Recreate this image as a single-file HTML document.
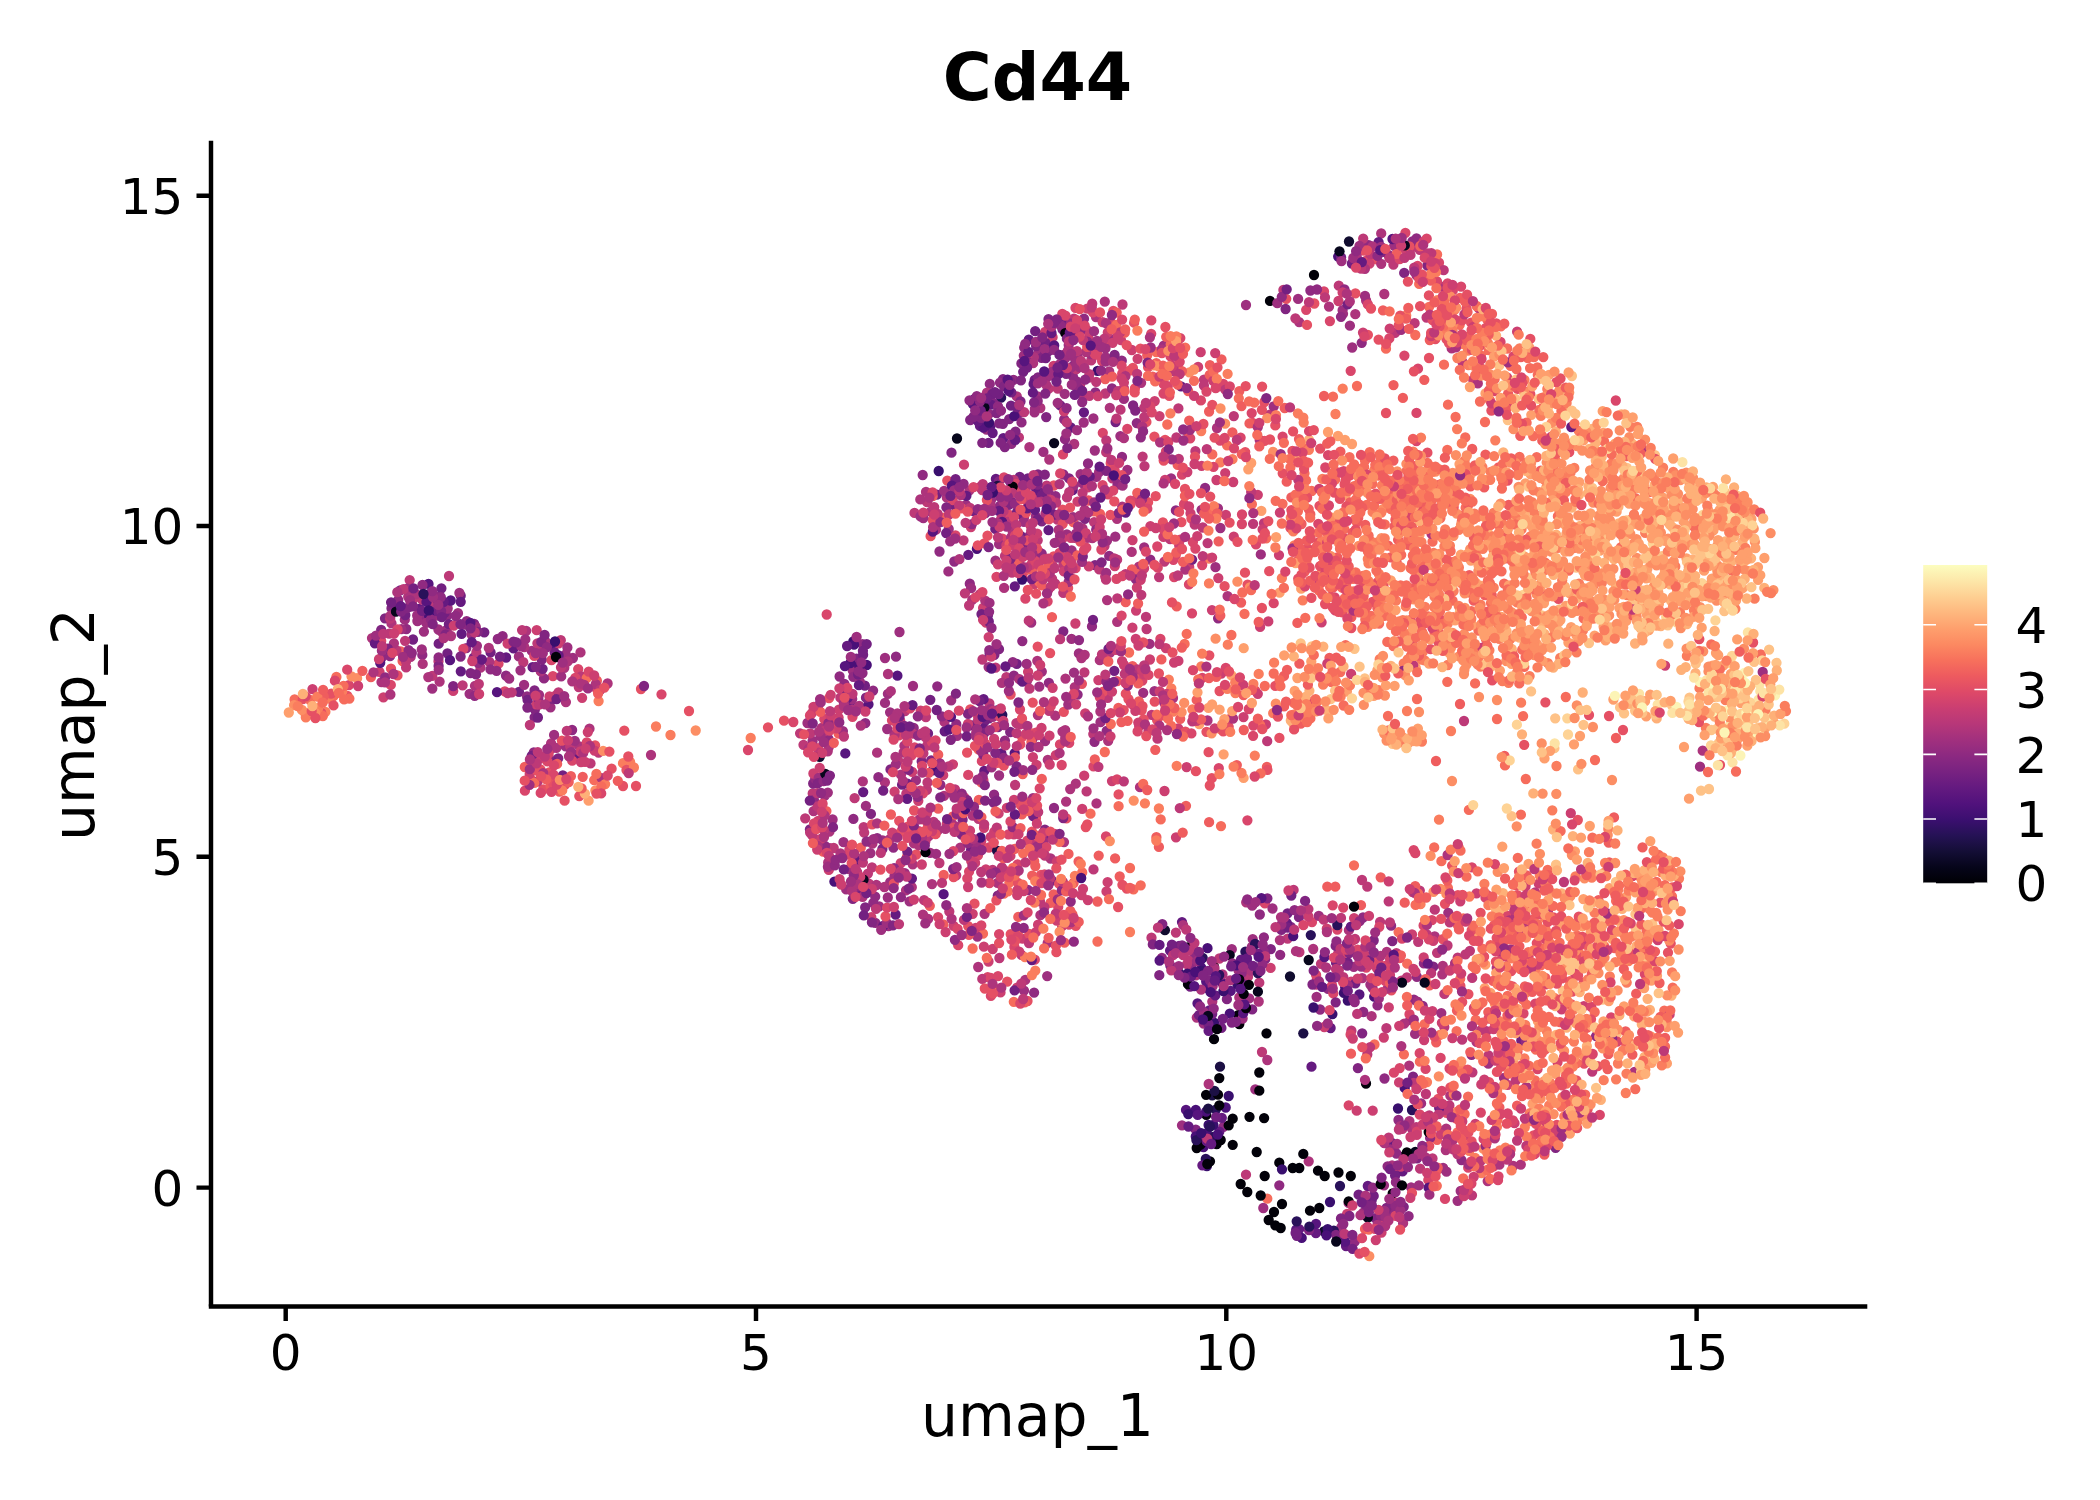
<!DOCTYPE html>
<html lang="en">
<head>
<meta charset="utf-8">
<title>Cd44</title>
<style>
html,body{margin:0;padding:0;background:#fff;}
body{width:2100px;height:1500px;overflow:hidden;}
svg{display:block;}
text{font-family:"DejaVu Sans","Liberation Sans",sans-serif;fill:#000;}
.tk{font-size:50px;}
.ax{font-size:58.33px;}
.ttl{font-size:66.7px;font-weight:bold;}
#pts path{fill:none;stroke-width:10.3;stroke-linecap:round;}
</style>
</head>
<body>
<svg width="2100" height="1500" viewBox="0 0 2100 1500">
<defs><linearGradient id="cb" x1="0" y1="0" x2="0" y2="1"><stop offset="0" stop-color="#fcfdbf"/><stop offset="0.05" stop-color="#fde7a9"/><stop offset="0.1" stop-color="#fecf92"/><stop offset="0.15" stop-color="#feb77e"/><stop offset="0.2" stop-color="#fe9f6d"/><stop offset="0.25" stop-color="#fc8961"/><stop offset="0.3" stop-color="#f7705c"/><stop offset="0.35" stop-color="#ed5a5f"/><stop offset="0.4" stop-color="#de4968"/><stop offset="0.45" stop-color="#ca3e72"/><stop offset="0.5" stop-color="#b73779"/><stop offset="0.55" stop-color="#a1307e"/><stop offset="0.6" stop-color="#8c2981"/><stop offset="0.65" stop-color="#782281"/><stop offset="0.7" stop-color="#641a80"/><stop offset="0.75" stop-color="#51127c"/><stop offset="0.8" stop-color="#3b0f70"/><stop offset="0.85" stop-color="#251255"/><stop offset="0.9" stop-color="#140e36"/><stop offset="0.95" stop-color="#06051a"/><stop offset="1" stop-color="#000004"/></linearGradient></defs>
<rect width="2100" height="1500" fill="#fff"/>
<g id="pts">
<path stroke="#491078" d="M932.8 770.3h0M1203.5 1147h0"/>
<path stroke="#390f6e" d="M1332.4 1014.1h0M1228.7 1096h0M1214.5 1023h0"/>
<path stroke="#1c1044" d="M1212.2 1095.3h0"/>
<path stroke="#fe9f6d" d="M1603.2 432.8h0M1703.3 494.7h0M1652.5 1040.1h0M1569.6 593h0M1561.6 587.7h0M1658.9 604.1h0M1534.4 530.9h0M1686.5 558.4h0M1490.4 992.9h0M1176.6 347.5h0M1649.7 552.5h0M1556.3 544.9h0M1651.3 980.7h0M1301.2 588.7h0M1724.9 741.1h0M1669.8 489.6h0M1644.5 486.8h0M1531.3 414.8h0M1712.4 665.6h0M1750.9 509.6h0M1603.2 534.2h0M1212.1 704.3h0M1574.9 851.3h0M1311.3 661.4h0M1558.6 595.7h0M1626.3 620.9h0M1346.9 691.5h0M1719.6 510.2h0M1636.8 604.1h0M1727.8 501.2h0M1584.1 430.3h0M1693.7 596.5h0M1699.9 486.1h0M1605.3 538.5h0M1713.4 530.4h0M1708 509.6h0M1579.3 482.1h0M1622.8 561h0M1531.5 557.1h0M1720.3 598.3h0M1742.6 588.2h0M1506.9 536.8h0M1438.2 562h0M1594.6 635.7h0M1616.6 511.7h0M1390.8 580.3h0M1600.7 494.6h0"/>
<path stroke="#020109" d="M1270 300.9h0M1280.7 1228h0M1256.7 1152h0M1232.7 1118.7h0M1187.9 947.5h0M1206.1 1094.8h0M1210 1161.3h0M1319.3 1208h0M1249.5 1116.8h0"/>
<path stroke="#812581" d="M852.8 898.8h0M534.9 709.5h0M1290.8 926.8h0M1023.5 547.5h0M441 600.8h0M972.1 725.4h0M1012.9 521.6h0M1051.8 880.5h0M1270.8 949.1h0M391.5 608.2h0M998 727.1h0M1373.7 940.5h0M1159.3 975.2h0M921.7 761.3h0M997.8 895.7h0M534.6 717.3h0M1062.5 372.1h0"/>
<path stroke="#ad347c" d="M1065.5 678.6h0M1299.2 322.1h0M1452.7 1140.3h0M969.4 490.3h0M1451.7 348.4h0M1446.2 1128.6h0M1450.3 1095.6h0M1414.6 1155.7h0M1139 566.7h0M1445.8 1150h0M1108.2 740.8h0M1409.2 1065.6h0M928.1 918.9h0M372 638.1h0M979.2 746.3h0M1064 842.1h0M1037.9 715.1h0M914 843.4h0M1084.6 509.8h0M480.5 667.7h0M1117 518.8h0M937.8 830.4h0M1259.7 439.9h0M1117.2 621.8h0M1110.1 652.6h0M912.7 864.3h0M1434.7 936.5h0M1634.5 1072h0M1246.2 902.3h0"/>
<path stroke="#cc3f71" d="M1034.5 584.2h0M1135.8 639h0M1013.9 834.3h0M1464.5 1135.3h0M849.4 849.4h0M1136.1 610.6h0M555.6 695.7h0M1514.5 1123.2h0M953.6 925.8h0M1538.7 883.6h0M970.9 527.1h0M1112 781.1h0M1381.5 1232.6h0M1318.6 580h0M1052.6 337.2h0M1498.8 910.9h0M1114.8 566h0M1375.8 1240.1h0M1139.2 726.2h0M1088.6 338.6h0M1395.4 1172.3h0M1045.1 331.8h0M1198.1 366.9h0M1507.7 1084.9h0M1107.5 340.5h0M1233.8 536.7h0M994.2 832h0M1106.5 891.4h0M1163.4 536.8h0M964.3 797.3h0M1015.8 872.4h0M992.7 949h0M1201.6 465.9h0M983.1 607.9h0M943.2 775.2h0M1052.7 565.7h0M1279 555.1h0M998.6 813.4h0M1225.9 515h0M1260.1 626.9h0M1022.5 938.7h0"/>
<path stroke="#29115a" d="M1001.1 397.7h0M1202.7 957.9h0M1245.4 951.7h0"/>
<path stroke="#fa7d5e" d="M1456.4 495.6h0M1529.8 1121h0M1385.4 481.7h0M1615.3 634.3h0M1496.9 1126.9h0M1630.8 519.6h0M1620 489.3h0M1554.4 997.8h0M1705.9 728h0M1578.3 951.2h0M1694 610.2h0M1544.9 480h0M1342.9 602.7h0M1532.1 502.2h0M1453.2 617.2h0M1679 878.6h0M1545.4 883.4h0M1480.5 666.7h0M1035.3 970.6h0M1469.2 1150.9h0M1536.8 473.1h0M1209 558.5h0M1524.4 1045h0M1441.8 501.7h0M1628.6 961h0M1304.5 550.1h0M1636.8 1011h0M1429.1 465.7h0M1421.9 741.5h0M1499.3 638.8h0M1403.7 663.5h0M1631.7 486h0M1686.9 655.9h0M1546.7 1031.1h0M1518.7 472.2h0M1572.3 1099.8h0M1367.3 615.4h0M1408.1 743h0M1547.9 663.2h0M1629 1041.8h0M1521.5 529.4h0M1611.1 463.7h0M1673.3 472h0M1649.5 909h0M1495.2 600.9h0M1592.1 873.4h0M1220.3 462.3h0M1475.1 1157.8h0M1618 1063.5h0M1447.7 623.7h0M1453.8 1094.2h0M1583.3 1030.9h0M1512.2 652.3h0M1449.9 545.7h0M1499.9 1150.5h0M1566.4 1004.6h0M1510.2 639h0M1453.6 591h0M1405.8 606.4h0M1323.1 684.7h0M1638.5 475.8h0M1422.8 651.9h0"/>
<path stroke="#e55064" d="M347.4 696h0M1041 874.9h0M1428.9 295.4h0M970.3 709.5h0M1026.1 499.2h0M1255.3 690.6h0M579.3 796.1h0M1252.6 423h0M1517.5 388.9h0M1577.7 956.7h0M1462.2 1002h0M1471.6 1141.4h0M1480.3 345.6h0M1344 538h0M1158.9 673.5h0M916.3 854.5h0M1668 952.6h0M1372.5 602h0M928.7 772.8h0M1062.6 509.6h0M1512.5 986.5h0M1050.1 653.1h0M1572.2 991.7h0M1059.1 883.7h0M1391.4 990.3h0M530.9 764.8h0M1440.5 619.4h0M543.2 789.5h0M1020.3 744.4h0M641 689h0M981.9 742.7h0M1438.3 1098.8h0M1511.1 971.2h0M1029.3 934h0M1543.2 594.4h0M1351.3 628h0M1325.1 604h0M1053.8 485.5h0M1027.5 1001h0M1753.1 642.5h0M1110.7 463.2h0M1211.8 778.2h0M1298.2 578.6h0M1521.9 1065.2h0M1585.4 870.4h0M947.3 480.6h0M1135.9 675.7h0M1291.4 510.1h0M1513.5 1052.3h0M1181.4 522.1h0"/>
<path stroke="#ef5d5e" d="M1341.9 582.4h0M1335.8 535.8h0M1452.3 562.1h0M400.8 651.5h0M1484.2 487.3h0M860.8 847.7h0M1394.4 526.3h0M1377.4 608h0M1586.1 944.8h0M1653.2 506.3h0M1301.5 524h0M1498.6 467.4h0M1454.8 491h0M1284.1 706.4h0M1424.3 379.8h0M1519.6 1075.6h0M1487.5 1137.6h0M1408.4 544.9h0M981.3 782.3h0M1365.2 958h0M1502.4 1048.9h0M1299 439.1h0M1176.7 606.4h0M1356.8 522h0M1626.1 1044.1h0M1239.3 391.1h0M1152.7 376.7h0M1495.1 915.4h0M1032 570.2h0M1417 585.6h0M1388.2 545.7h0M1132.5 666.1h0M531.4 779.9h0M1502.5 1054.3h0M1436.2 1042.3h0M1258.7 622h0M1429.6 985.3h0M1127.6 720.8h0M1459 929.4h0M1499.4 1107.3h0M1417.4 537.8h0M1459.9 297.9h0M1186 805.8h0M1411.7 588.3h0M1125.7 602.2h0M1484.9 595.1h0M1531.6 905.7h0M1032.2 875.6h0M1515.1 931.5h0M1218.6 541.3h0M1587.1 1027.5h0M1053.6 894.5h0M1564.5 1130.7h0M1018.3 916.9h0M1189.2 420.6h0M838.6 733.5h0M1532.5 919.8h0"/>
<path stroke="#110c2f" d="M1290 976.5h0M1324 1231.3h0"/>
<path stroke="#feb078" d="M1579.8 533.9h0M1564.9 1070.3h0M1640.6 628h0M1692.9 559.4h0M1634.5 445.5h0M1572.9 1104.1h0M1579.7 992.2h0M1656.7 718.4h0M1716.6 568.9h0M1682 592.6h0M1703.2 549.3h0M1309 440h0M1720.5 502.3h0M1723.5 576.5h0M1563.7 923.9h0M1588.4 486.1h0M1674.1 875.1h0M1543.4 623.9h0M1692.1 539.5h0M1671.5 995.6h0M1504 549.4h0M1588.7 552.8h0M1566.6 1027.7h0M1634.9 1045.2h0M1591.9 429h0M1571.7 507.6h0M1571.9 643.9h0M1649.9 1009.8h0"/>
<path stroke="#fec287" d="M1562.8 990.9h0M1392.6 743.8h0M1694.9 564.5h0M1753.5 734.1h0M1579.4 965.7h0M1672.2 705.7h0M1701 790.7h0M1515.1 398.6h0M1548.2 407.2h0M1604.5 501.6h0M1711.2 730h0M1643.8 600.9h0M1709 789h0M1626.9 467.8h0M1695.8 663.5h0M1687 561.9h0M1718.7 743.2h0M1679.3 586.3h0M1616.8 1033.7h0M1717.1 728.6h0M1330.7 699.2h0M1483 664.6h0M1554.4 748.2h0"/>
<path stroke="#902a81" d="M1046 377.8h0M406.3 629h0M873.1 690.6h0M423.3 619.3h0M971.9 524.1h0M1247.5 971.3h0M1259.8 914.5h0M1398.5 1120h0M1205.1 488h0M999.6 506.2h0M1402.8 671h0M1596.1 1036.1h0M1055.5 496.2h0M828.5 739h0M1095.4 392.4h0M1068.4 320.2h0M506 675.6h0M1072.9 376.3h0M1095.2 349h0M844.4 683.8h0M447.3 615.3h0M963.6 483.8h0M969.8 583.7h0M1049.4 494.3h0"/>
<path stroke="#fc8e64" d="M1472 585.4h0M1571.9 612.9h0M1425.7 471.3h0M1488.7 657.7h0M1541.7 1124.8h0M1607.2 626.9h0M1613.4 568.8h0M1405.1 675.1h0M1651.2 598.8h0M1632.4 481.6h0M1548.8 623.1h0M1578.6 641.2h0M1390 613.2h0M1706.3 596.2h0M1175.5 352.7h0M1650.7 1036.5h0M1546.5 487.2h0M1559.3 510h0M1604.3 872.7h0M1754.9 541.8h0M1275.8 703.7h0M1668 538.6h0M1542.6 793.6h0M1702.3 593.4h0M1569.7 478.7h0M1382.9 509.1h0M1563.3 515h0M1409.7 481.5h0M1630.6 613.2h0M1470.1 498.8h0M1375.1 617.1h0M1551.6 423.1h0M1652.8 1047.6h0M1717.4 496.3h0M1555.7 613.5h0M1418.2 576.5h0M1478.4 571h0M1773.4 590.1h0M1644.6 1021.8h0M1529.5 928.3h0M1640 876.9h0M1586.8 598.5h0M1382.2 677.3h0M1321.4 572.8h0M1133.7 800.6h0M1619.7 430.4h0M1194 369.5h0"/>
<path stroke="#d9466b" d="M1607.9 1039.1h0M1058.2 906.9h0M1617.2 1041.7h0M1202.2 565.1h0M1219.8 386h0M748 750h0M852.5 716.8h0M1175.6 555.7h0M1632.5 876.2h0M1202.3 677.9h0M1309.1 431.2h0M1069.2 742.9h0M1413.7 850.1h0M1366.2 967.6h0M1102.1 361h0M1648.8 902.1h0M1163.7 384.2h0M1305 586.3h0M348.9 685.2h0M1008.4 834.4h0M1500.5 341.9h0M981.9 761.2h0M1521.9 932.3h0M1416.5 412.9h0M1557.5 1062.3h0M1242 514.5h0M1510.3 1070h0M922.1 765.9h0M552.9 676.2h0M1537.5 1069.2h0M1110.9 322.5h0M1184 504.2h0M1528.6 955.9h0M818 748.2h0M989 847.5h0M1240.6 437.6h0M1405.4 232.8h0M1465.4 478.4h0M1357.6 949.6h0M1093.5 766.4h0M1312 922.1h0M906.7 730.7h0M1002.5 538.7h0M1509.2 1046.7h0M1009.4 514.9h0M1324 291.4h0M1337.3 929.5h0"/>
<path stroke="#f66c5c" d="M1370.9 551.3h0M1001 873.4h0M1432.5 541.7h0M1251.9 504.2h0M1504.9 405.6h0M1155.2 381.4h0M1669.8 867.6h0M1365 460.5h0M1536.7 457.2h0M1356.1 490.7h0M1672 896.4h0M1109 899.1h0M1414.2 493.5h0M1490 400.4h0M1208.8 512.1h0M1310.4 718.4h0M1398.6 932.1h0M1557.9 516.2h0M1380.9 459.1h0M1346.1 584.6h0M1372.4 483.9h0M1548.5 1131h0M1356 474h0M1384.8 524.4h0M1440 1034.9h0M1297.5 700.9h0M1577.1 935.6h0M1547.7 870h0M1535.9 1049.7h0M1463.3 918.4h0M1448 404.7h0M1468.1 1096.6h0M1374.5 1044.5h0M1491 603.1h0M1478.5 630.5h0M1408.3 538.9h0M1505 765.4h0M1364.1 467h0M333.5 696.2h0M1590.7 535.6h0M983 933.7h0M1622.1 957.5h0M1298.7 520.4h0M1590.6 925.7h0M1331.6 682h0M1447.9 887.9h0M1539.3 409.8h0M1366.7 504.8h0M1500.8 326.4h0M1378.9 604.7h0M1413.5 471h0M1604.4 946.5h0M1452.6 600.7h0M1427.4 525h0M1444 364.7h0M1719 515.5h0M1760.8 654.4h0M1384.3 615.9h0M1344.2 528.8h0M1635.4 498.1h0M1522.2 649.7h0M1238.8 398.3h0M1435.9 615.8h0M1463.4 515.5h0M1547.1 932.4h0M294.6 699.5h0M1525.8 779h0M1440.4 518.1h0M1429.1 306.8h0M1496.9 1103.5h0"/>
<path stroke="#651a80" d="M506.1 657.5h0M1286.9 923.2h0M1036 488.6h0"/>
<path stroke="#732081" d="M988 615h0M1017.1 512h0M988.9 718.3h0M1034.7 380h0M1521.3 1040.5h0M1010.4 481.8h0M444.6 612.9h0M1358.6 1194.7h0M1025.6 488h0M954 505h0M1190.2 986.7h0M519 691.8h0M858.2 891.8h0"/>
<path stroke="#fed395" d="M1676.6 622.3h0M1617 452.5h0M1762.2 660.5h0M1546.2 426.8h0M1702.9 514.9h0"/>
<path stroke="#9e2f7f" d="M846.2 889.4h0M1410.1 1020.2h0M1070.7 700.5h0M1217.9 508.3h0M890.1 712.3h0M1050.4 375.5h0M1045.8 498h0M1066.9 534.5h0M1023.8 915.4h0M1043.4 451.9h0M1096.4 476.9h0M995.5 560.7h0M1415.1 1033.9h0M895.7 721.7h0M1504 1077.8h0M888.4 926h0M1363.3 1212.7h0M1114.3 339.2h0M948.4 571.4h0M843.5 842.2h0M1365.9 1199.8h0M879.2 906.3h0M518.9 656.4h0M1038.3 352.8h0M553.2 647.7h0M1035.8 516.3h0"/>
<path stroke="#bd3977" d="M927.2 745.5h0M992.6 870h0M1106.2 452.2h0M906.3 793.7h0M1515.7 1080.7h0M1204 379.6h0M1151.5 937.7h0M1112.4 478.3h0M1037.7 540.3h0M927.1 502.2h0M982.5 659.5h0M1040 901.4h0M1016.4 723.1h0M1464 721h0M1264 523.1h0M1021.4 954.8h0M863.7 827.2h0M1120.5 409.7h0M1091.2 360.4h0M1418.2 941.8h0M1370.1 1047.1h0M1269.8 414.7h0M1011.5 489.6h0M812.7 793.5h0M1420.1 1168.7h0M1092.2 303.7h0M1486.5 1031.1h0M1481.1 1030.2h0M560.8 640.2h0M933.6 821.9h0M1144.2 407.9h0M1005 555.9h0M1093.3 734.1h0M1105.4 393.5h0M1248 976.7h0M1195.4 451.2h0M955 789.4h0M1063.4 564.6h0M1111.3 460h0M1396.4 953.2h0M926.9 789.8h0M409.7 580.1h0M1412.8 245.6h0M413.4 598.9h0"/>
<path stroke="#fde3a5" d="M1714.8 686.4h0M1758.6 699.7h0"/>
<path stroke="#fcf4b6" d="M1708.3 689h0M1740.4 755.5h0M1775.1 695.3h0"/>
<path stroke="#651a80" d="M968.3 554.8h0M984.3 770.9h0M1033.6 383.9h0M1403.6 510h0M1200.5 1139h0M1315.9 1233h0M939.3 772.9h0M1037.6 495.7h0M1227.9 992h0M995.9 478.9h0M513.5 648.4h0"/>
<path stroke="#fe9f6d" d="M1626.1 897.1h0M1472.1 624.9h0M1530.7 474.3h0M1415.8 667.8h0M1649.1 503h0M1372.2 473.6h0M1650.2 694.6h0M1484.8 988.1h0M1574 744.3h0M1555.3 398.3h0M1671.7 517h0M1459.3 573.8h0M1699 584.3h0M1478.6 935.1h0M1562.4 592.2h0M1623.7 607h0M1563.2 566.8h0M1693.2 616.9h0M1495.5 613.4h0M1528.5 863.9h0M1630.2 477.5h0M1623.3 633.6h0M1604.1 905.4h0M1526.2 509h0M1658 1040.4h0M1485.5 393.4h0M1646.7 594.5h0M1243.6 777.9h0M1701.7 498.4h0M1554.6 966.9h0M1542.5 660.8h0M1605.6 640.4h0M1231.5 675.4h0M1345.6 495h0M1295.9 456.8h0M1534.6 550.4h0M1592.1 948.5h0M1373.8 695.9h0M1648.9 630.1h0M1681.9 516.6h0M1590.2 557.1h0M1481.3 586h0M1751.4 519h0M1721.1 738.3h0M1689 798.7h0M1199.3 724.1h0M1664.9 570.6h0M1251.2 463h0M1537.9 1021.2h0M1293.5 723.8h0M1537 644.2h0M1702.5 524.3h0M1643 518.6h0M1511.4 513.4h0M1596.2 571.1h0M1476.2 583.1h0M1651.5 1062.8h0M1501.5 616.9h0M1423.6 552.7h0M1464.5 579.7h0"/>
<path stroke="#020109" d="M1264.7 1176h0M1350.8 1176h0M1196.7 1148h0M1238.2 1015.1h0"/>
<path stroke="#cc3f71" d="M1383.8 1037.5h0M1400.7 1205.6h0M1032.9 757.1h0M1225.2 473.1h0M1006.9 807.8h0M1107.8 332.4h0M1062.1 926.1h0M1031.5 845.7h0M1084.2 775.7h0M1583.8 1006.1h0M1473.2 379.7h0M1165.9 648.1h0M558.7 643.3h0M1189.2 567h0M838.9 709.7h0M1037.2 533.6h0M1076.3 323.2h0M811.9 713.1h0M900.2 720.7h0M379.5 671.8h0M1010.4 855.9h0M1581.7 940.7h0M990.8 836.8h0M1038.6 551.7h0M1004.5 870.5h0M1053.6 365.8h0M1233.2 482h0M1178.2 728.5h0M1176 837.3h0M1316.9 979.1h0M1392.6 258.8h0M1137 498.3h0M1503 918.2h0M1546 1121.7h0M1221.3 673.6h0"/>
<path stroke="#fde3a5" d="M1657.7 704.6h0M1760.3 691.2h0"/>
<path stroke="#fcf4b6" d="M1708.5 684.4h0M1744.4 672.8h0M1676.6 706.9h0M1742.9 687.5h0"/>
<path stroke="#9e2f7f" d="M1100.5 722.2h0M855.7 862.5h0M887.9 693.8h0M1149.5 643.9h0M531.8 650.9h0M1182 1125.3h0M1071.5 638.9h0M1372.5 987.8h0M991.6 767.4h0M1203.7 1023.6h0M1065 358.7h0M890.2 882.2h0M1361.3 966.6h0M1035.4 556.6h0M1115.3 536.7h0M1252.2 905.7h0M1353.8 966.9h0M824.8 795.6h0M1238.5 970.3h0M1220.4 528h0M1047.2 976.1h0M436.7 615.7h0M1120.4 436.1h0M1034.5 412.3h0M1041.8 671.6h0M992.8 716.8h0M949 826.6h0M986.5 429.5h0M1090.9 354.2h0M827.8 792.6h0M882.7 840.4h0M1026.9 681.1h0M1015.3 565.4h0M1318.8 915.8h0M1074 672.6h0"/>
<path stroke="#fec287" d="M1696.1 531.7h0M1727.5 563.9h0M1635.4 914.2h0M1330.4 711.2h0M1737 495.6h0M1652.4 924.2h0M1507.8 420h0M1659.8 1047h0M1541.7 615.3h0M1742 716.8h0M1364.8 678.5h0M1635.1 710.8h0M1649.2 872.4h0M1643.2 475.2h0"/>
<path stroke="#feb078" d="M1664.6 702.3h0M1634 873.2h0M1550.1 1001.3h0M1663.7 516.8h0M1622.3 465.7h0M1740.6 498.5h0M1576.8 598.4h0M1550.6 994.4h0M1714.7 716.5h0M1660.8 626.2h0M1633.4 600.8h0M1631.3 443h0M1627.1 553.8h0M1678.3 500.2h0M1728.6 682.1h0M1718.8 684.1h0M1671 600.8h0M1560 388.5h0M1501.8 912.2h0M1672.6 527.3h0M1553.1 829.5h0M1561.6 893.3h0M1695.1 575.9h0M1742.4 542.1h0M1309.4 690.8h0M1503.4 637.3h0M1547.3 529.9h0M1511.7 648.8h0M1564.9 586.6h0M1589.4 448.8h0M1671.7 481.2h0M1659.9 483.1h0"/>
<path stroke="#812581" d="M400.2 590.4h0M558.2 758.3h0M882.4 849h0M961.6 834.7h0M476 674.3h0M809.9 829.3h0M951.5 452.7h0M1008.8 504.8h0M856.5 658.7h0M1063.3 631.3h0M1003 379.2h0M1036.1 346h0M1073.7 365.4h0M1403.7 1206.8h0M1010.1 499.7h0M1032.5 738.9h0M999.1 481.1h0M473.7 657.6h0"/>
<path stroke="#fc8e64" d="M1548.9 568.1h0M1623.8 544.7h0M1617.6 990.4h0M1633.8 543.4h0M1625.8 523.8h0M1525.3 465.4h0M1405.7 643.2h0M1549.1 460.2h0M1673.7 561.2h0M1593.6 964h0M1540.8 478h0M1506.3 661h0M1504.6 1066.4h0M1456.8 513.7h0M1397.2 471.4h0M1743.9 504.4h0M1744 648.7h0M1566.1 471.7h0M1412 490.3h0M1606.1 533.1h0M1680.4 871.4h0M1461 497.8h0M1524.2 567.5h0M1717.5 545.3h0M1497 700h0M1459 656.4h0M1474.1 651h0M1455.9 455.1h0M1540.6 1098.5h0M1215.6 638.7h0M1546.7 462.3h0M1416.1 733.3h0M1653 891.9h0M1536.5 594.1h0M1720.8 732.7h0M1703.2 651.3h0M1667.1 512h0M1612 780h0M1363.6 600.1h0M1614.3 599.8h0M1647.4 475.7h0M1673.9 578.7h0M1578.5 920.6h0M1494.9 1003.8h0M1546.9 616.1h0M1363.8 704.9h0M1628.6 610h0M1584.5 878.3h0M1623.5 478.4h0M1273.1 451.9h0M1747.6 502.2h0"/>
<path stroke="#fa7d5e" d="M1479.2 656.4h0M1515.9 1089.1h0M1630.3 426.8h0M1622.8 1050.7h0M1569.3 1102.5h0M1573.5 548.2h0M1641 962.7h0M1521 905.4h0M1564.3 1116.4h0M1771 593.2h0M1515.6 598h0M1434.2 607h0M1550.2 1082.8h0M1517.4 959.3h0M1427 1082.1h0M1464.6 460.6h0M623 763.2h0M1531.6 1088.7h0M1303.7 422.6h0M1735.4 608.8h0M1593.2 586h0M1732.8 511h0M1484.4 883.8h0M1524.5 379.9h0M1413.1 592.1h0M1489.4 650.3h0M1714.3 494.1h0M1481.5 1173.1h0M1411.3 659.7h0M1458.9 529.9h0M1477.6 664.3h0M1714.2 554h0M1482.4 467.2h0M1378.8 690.1h0M1363.4 603.4h0M1555.3 459.8h0M1421.3 659.7h0M325.4 711.8h0M1545 917.9h0M1458.8 606h0M1461.8 343.9h0M1698.9 527.7h0M1506.8 1022h0M1637.2 426.9h0M1420.5 904.2h0M1358.8 509.9h0M1719 714.8h0M1396.1 600.6h0M1525.3 1025h0M342.2 691.6h0M1661.2 872.1h0M1384.9 545.4h0M1227.8 644.7h0M1467.8 350.6h0M1474.5 513.6h0M1446.1 332.7h0M1447.7 665h0M1618.7 896.9h0M1451.1 505.3h0M1557.8 482.8h0M1294.3 545.4h0M1481.7 627.5h0M1725.5 700.2h0M1545.4 928.9h0M1448.3 489.6h0M1680 612.2h0M1526.2 882.8h0M1374.2 470.2h0M1657.3 522.6h0M1524.4 1058.3h0M1232.5 459.2h0M1454.3 310.2h0"/>
<path stroke="#fed395" d="M1675.1 618.8h0M1352 698.3h0M1732 656h0M1567.3 718.3h0"/>
<path stroke="#902a81" d="M875.2 896.6h0M873.3 902.9h0M1368.7 245.2h0M875.4 922.9h0M466.3 648.1h0M1128.1 594.4h0M987.5 710.2h0M1361.7 342.8h0M1013.5 379.9h0M1280.2 954.8h0M1106.7 730.9h0M913.7 727.9h0M1011.4 443.9h0M1391.1 925.7h0M1328 988.9h0M1012.6 827h0M1471.6 1054.9h0M381.9 657.3h0M865.3 723.2h0M1063.4 474.5h0M1000 382.6h0M855.6 887h0M1041.7 553.6h0"/>
<path stroke="#ad347c" d="M946.9 497.7h0M944 795.9h0M827.7 751.3h0M1207.5 720.5h0M1212.3 1001.6h0M1024 517.8h0M1083.3 395.8h0M410.6 656.9h0M904.4 745.7h0M1702.7 750.7h0M1441.6 1131.1h0M1431.6 533.9h0M1362.2 978.2h0M1109.2 371.3h0M1082.5 528.5h0M1040.3 408h0M928.7 836h0M1442.8 966h0M1381.2 233.4h0M551.1 743.4h0M1496.7 968h0M1476.5 1041.8h0M1055.3 715.7h0M1412 1128.8h0M1520.8 1164.6h0M1196.8 1017.6h0M960.3 847.7h0M911.8 887.2h0M1037.3 660.8h0"/>
<path stroke="#e55064" d="M1416.1 487.2h0M1032 831.6h0M1497.5 941.4h0M1068.1 588.1h0M1623 730h0M1118.1 907h0M1007.2 981.6h0M1533.6 1135.3h0M1577.8 820h0M1075.8 925.8h0M899.2 820.8h0M900.9 831.9h0M1313.8 430.2h0M1342.5 612.3h0M968.2 926.1h0M1434.6 1036.7h0M1020.7 805h0M1384.8 458.3h0M1036.9 548.7h0M1366.4 584.4h0M1539.3 914.1h0M1500.1 1043.3h0M1270 439.5h0M1148.1 502.2h0M595.1 745.3h0M1536 1123.9h0M397.5 675.4h0M546.1 775.2h0M1307.9 548.6h0M829 698.2h0M974.5 903.7h0M1507.6 480.6h0M1471.7 930.1h0M1547.9 921.9h0M1134.7 392.4h0M302.8 699.1h0M1587.6 1109.2h0M1429 358h0M321.3 712.8h0M1185 489h0M1584.1 1063.5h0M1113.3 310.8h0M1126.8 888.5h0M1148.1 367.2h0M1442.8 939.1h0M1628.6 954.4h0M981.3 845.9h0M1471.1 322.7h0M1010.8 525h0"/>
<path stroke="#732081" d="M1045.2 490.9h0M1199 1015.2h0M984.6 721.3h0M998.7 394.1h0M971.1 849.8h0M1027.9 478.3h0M936.9 494.7h0M1208.4 1024h0M490.6 652.4h0M1212.2 1014.1h0M397 603.6h0M1393.4 1148.7h0M562.8 775.4h0M1244.2 984.6h0"/>
<path stroke="#ef5d5e" d="M1663.6 888.1h0M1350.1 502.4h0M978.8 799.9h0M1512.3 921.4h0M1346 478.1h0M1438.5 632.2h0M1544 403.1h0M402.6 661h0M1365 1229h0M1446.7 559.4h0M1608.7 842.5h0M1209 678h0M1064.5 942.7h0M1119.7 876.5h0M1600.7 929.6h0M1445.7 321h0M1648 1035.1h0M1298.2 560.5h0M1019 562h0M1398.1 539.8h0M1073.6 883h0M1136.3 573.6h0M1469.3 575.1h0M1336.3 657.6h0M1550.8 472.5h0M1132 569.3h0M1105.2 379.1h0M1335.3 886.7h0M1385.7 469.5h0M1609.2 862.3h0M1458 925.5h0M1524.9 922h0M1395.4 519.7h0M1118.4 708h0M1540.8 470.7h0M952.9 816.4h0M1351.4 617h0M1034.2 861.2h0M1340.4 451.7h0M978.5 749.3h0M1417.9 511.9h0M1299.6 547.7h0M1383 310.4h0M1209.7 374.8h0M1137.3 492.9h0M1209.1 411.5h0M929.8 905.8h0M1017.8 933h0M1050.5 902.9h0M1358.2 518.1h0M1565.5 1103.2h0M1031.4 742h0M1490.9 326.8h0M1390.7 557.3h0M1116.7 312.6h0M1625.6 874.6h0"/>
<path stroke="#d9466b" d="M999.8 716.6h0M969.1 871.6h0M1563.2 406.7h0M1108 494.3h0M1494.6 391.1h0M1273.7 603.2h0M1174.1 577h0M1332.7 905.3h0M1486.9 895h0M1507.9 915.8h0M498.5 663.7h0M1173.4 559.8h0M955.5 535.3h0M1032.4 558.5h0M1312.9 701.5h0M1523.5 1013.5h0M1344 953h0M1114.6 470.2h0M578.2 669.1h0M978 855.3h0M1600.4 955.6h0M952.7 500.1h0M1611.1 1017.5h0M1333.3 993.4h0M1213.5 466.9h0M1509.4 1122.1h0M1510.6 402.8h0M1192.9 542.1h0M1318.3 523.8h0M1010.5 821.4h0M1439 262.7h0M1075.5 307.8h0M847.9 854.7h0M977.1 714.4h0M953.3 851.1h0M1545.5 939.1h0M1412.7 892h0"/>
<path stroke="#bd3977" d="M1202.8 556.1h0M1007.7 522h0M1488.5 1055.5h0M867.9 873.6h0M1393.4 264.6h0M925.3 837h0M1125.5 574.1h0M982.2 490.1h0M1011.9 568.1h0M989.4 703.4h0M1437.1 952.8h0M1389.9 922.3h0M1193.9 950.6h0M1478.9 308.4h0M1006.4 677.1h0M978.1 720h0M864.2 832.6h0M1000 757.5h0M1137.3 669.3h0M1548 910.5h0M1107.7 697.9h0M854.6 798.2h0M1402.4 1128.9h0M1093.5 869.4h0M1380.1 921.8h0M1096.2 381.8h0M1049 710.8h0M1003.5 511.1h0M1048.2 589.8h0M868.9 883.6h0M1351.4 1030.7h0M1063.3 592.8h0M1080.2 384.5h0M1044.4 907.2h0M1089.4 395.8h0M914.5 512.9h0M1057.4 519.6h0M1159.1 577.1h0M581.3 676.4h0M840.4 697.7h0M1094.1 522.1h0M1148.5 731.1h0M1443.7 270.2h0"/>
<path stroke="#f66c5c" d="M1482.4 545.3h0M1583.6 618.3h0M1549.8 440.6h0M1537.6 1146.5h0M1344.6 598.3h0M1231.4 635h0M1419.2 283.9h0M1039 581.5h0M1585.8 955.1h0M1504.1 583.7h0M1561.2 1106.5h0M1427.4 462.8h0M1524.3 666.8h0M1311.7 491h0M1315.3 708.4h0M1403.9 1054.3h0M1082.2 872.4h0M1462.1 650.9h0M1459.7 324.8h0M1424.6 1024.2h0M1393.4 646.1h0M1640.7 909.2h0M1387.3 641.9h0M1465.7 507.7h0M1407.5 527.1h0M1422.9 525.5h0M1013.8 1001.8h0M1407 646.6h0M1375.3 464.8h0M1649 888.4h0M1528.9 1065.7h0M1528.4 391.3h0M1335.3 471.5h0M1409.2 461.9h0M1513.2 518.3h0M1463.4 643.6h0M1339.6 525.3h0M594.2 780.1h0M1632 702.8h0M1694 526.6h0M1304.6 448.6h0M1416.9 505.6h0M1487.1 1170h0M1427.7 591.1h0M1534 357.2h0M1110.8 724h0M1699.1 650.8h0M1542.1 948.3h0M1442.6 623.9h0M1560.6 831.1h0M1335.2 479.6h0M1650.1 1042.7h0M1616.1 900.9h0M1437.1 254.5h0M1184.6 643.9h0M1744.3 519.9h0M1576.8 1063.1h0"/>
<path stroke="#491078" d="M1229.8 1013.6h0M1225.7 1107.5h0M1404.7 1087.9h0"/>
<path stroke="#57157e" d="M1296.2 1229.6h0M1014.7 753.1h0M1230.7 990.8h0"/>
<path stroke="#390f6e" d="M1237.4 984.1h0M1343.9 992.9h0"/>
<path stroke="#bd3977" d="M396.5 650.5h0M1413.2 665.3h0M1074 318.6h0M1052.1 579h0M1018.9 437.4h0M1426.8 934.3h0M1444.3 1027.1h0M1029 943h0M1462.5 362h0M1338 953.8h0M905 711.1h0M1462.1 1039.7h0M1076.4 369h0M1194.4 943h0M949.3 911.5h0M1104.5 546.1h0M1170.1 539h0M814.8 839h0M1293.6 889.9h0M1535.1 892.3h0M598.6 752.7h0M1020.2 724.3h0M1142.6 456.6h0M956.2 875.3h0M963.5 540.3h0M925.4 841.3h0M412.3 592.1h0M1431.3 253.1h0M1395 332.9h0M1034.5 841.2h0M529.9 725h0M537.6 781.5h0M1447.5 945.5h0M964 919.9h0"/>
<path stroke="#57157e" d="M380.2 662.8h0"/>
<path stroke="#020109" d="M1279.3 1162.7h0M1214 966.7h0M1239.3 1024h0M1275.3 1225.3h0M1232.7 1144.8h0M1392.7 1193.3h0"/>
<path stroke="#1c1044" d="M997.1 850.7h0"/>
<path stroke="#812581" d="M1413.1 1076.7h0M1044.9 829.7h0M1038 377.5h0M1375.3 1218.1h0M1362.2 1033.3h0M474.2 624h0M1041.6 357.8h0M999 649.2h0M870.9 813.9h0M813.2 783.5h0M1021.4 363.4h0M1041.8 521.3h0M1335.7 945.9h0M962.6 819.7h0M1195.8 1129.7h0M967.2 800.2h0M993.1 402.7h0M1002.9 423.8h0M1062.5 329.3h0M1010.6 558.5h0M1417.1 1158.3h0"/>
<path stroke="#feb078" d="M1647.6 998.8h0M1523.3 1073.1h0M1541.5 621.1h0M1578 489.1h0M1731.3 561.9h0M1596.7 934.2h0M1290.8 720.5h0M1727 750.9h0M1541.4 557.9h0M1653.5 604.7h0M1641.8 1024.3h0M1587.9 493.2h0M1572.9 836.1h0M1419.3 521h0M1644.6 1056.9h0M1714.6 631h0M1645.5 631.9h0M1325.5 709.5h0M1544.1 470.5h0M1491.1 666.5h0M1597.5 529.2h0M1690 601h0M1734.1 487.3h0M1636.3 451.4h0M1616 586.2h0M1442.3 667.2h0M1447.9 634.8h0M1544.5 634h0M1559.6 572.4h0M1323.3 646.6h0M1629.1 703.8h0M1553.6 574.8h0M1593.3 525.2h0M1545.2 490.1h0M1731.4 690.5h0M1688.3 541h0M1622.2 908.9h0M308.6 714.5h0M1608.3 630.7h0M1553.4 1057.8h0M1725.2 541.4h0"/>
<path stroke="#07061c" d="M1367.8 1217.7h0M957 438.5h0"/>
<path stroke="#e55064" d="M1460.4 986h0M1445 903.8h0M1446.6 1112.9h0M1062.7 523.8h0M1386 413h0M1245.2 452.1h0M1032.7 702.6h0M1569.2 452.2h0M935.6 834.2h0M1597.7 1066.2h0M1468.4 994.1h0M1377.4 582.3h0M1420.7 619.9h0M1362.4 587.9h0M1319 542.1h0M932.7 519.8h0M1492.2 680.4h0M623 786h0M1427.4 452.7h0M1275.3 425.4h0M1129.6 370.7h0M1376.7 259.3h0M1375.1 961.9h0M1560.4 999.5h0M1450.4 1087.3h0M1022.1 736.9h0M1320.2 448.6h0M1519 871.6h0M1486.3 1038.1h0M1699 722h0M1491.4 410.6h0M1154.7 701.6h0M1279.4 737.9h0M1435.3 339.2h0M624.3 730.7h0M999.1 943.1h0M1036 818.1h0M1154.4 436.6h0M1344.6 484.5h0M565.1 784.5h0M1495.9 961.7h0M1185.4 731.6h0M1501.2 1066.7h0M1496.9 1071.9h0M1496.7 937.8h0"/>
<path stroke="#651a80" d="M1215.3 995.3h0M1001.4 753.4h0M1181 386.3h0M1072.7 490h0M1391.8 1142.9h0M990.8 404.7h0M1209.3 1010.5h0M983.7 728.8h0M983.6 699.2h0M576.8 757.8h0M1170.1 950.6h0M999.1 511h0M980 425.9h0"/>
<path stroke="#732081" d="M902.1 784.7h0M995.3 528.9h0M973.7 511.1h0M1011 405.7h0M981.5 614.1h0M988.5 442.9h0M1115.6 422.1h0M484.3 632.3h0M438.7 643.7h0M1045.5 343h0M1019.7 477h0M850.1 702.5h0M1287.5 913.3h0M1179.1 946h0M1065 320.9h0M1060.3 405.4h0M1371.7 1200.2h0M1019.7 514h0"/>
<path stroke="#fed395" d="M1516.9 724.7h0M1666.2 616.9h0M1762.4 733h0M1731.7 664h0M1542.6 516.8h0M1750 702.4h0M1739.5 730.1h0"/>
<path stroke="#d9466b" d="M1452.8 290.4h0M1027.6 912.3h0M1508.5 957.8h0M1644.9 974h0M1069 924.5h0M1122.2 373.7h0M1122.2 576.1h0M1502.4 956.5h0M1282.6 436.7h0M1485.5 897.7h0M1343.2 907.6h0M899 735.4h0M1524.8 1063.9h0M1584 961.5h0M1151.2 333.8h0M1248.8 709h0M572.2 760.7h0M1577.2 923.7h0M1014.4 947h0M1350.7 370.8h0M463.3 648.8h0M1591.3 1006.9h0M504.8 691.3h0M1493.5 1166.3h0M1017.6 864.5h0M1034.8 959.7h0M987.7 977.1h0M597 689.3h0M892 720.3h0"/>
<path stroke="#cc3f71" d="M1213.2 380.8h0M972.7 913.8h0M918.9 831.1h0M946.7 824.1h0M968 724h0M1218.3 578.1h0M1077.3 331.9h0M1098.4 680.1h0M540.2 758.4h0M1036.5 764.8h0M981.3 840.8h0M918.3 800.8h0M1550.1 956.4h0M1105.9 659.7h0M1575.6 1117.8h0M900.7 863.2h0M1351.1 981.7h0M911.7 858.6h0M1116 649.9h0M1391.9 963.6h0M1476.5 893.4h0M1037.8 675.5h0M1038.1 924.7h0M1383.4 1221.5h0M1179.2 545.5h0M828.8 869.9h0M1475.4 1124h0M1665.1 665.6h0M536.7 630.2h0M1491.4 403.3h0M1031 564.8h0M985.9 869.3h0M818.1 821h0M1087.3 330.5h0M1159.4 376.6h0"/>
<path stroke="#fe9f6d" d="M1569.8 524h0M1620.9 443.9h0M1551.3 892.7h0M1558.4 622.4h0M1560.4 499.2h0M1600.4 602.2h0M1627.6 532.4h0M1774.1 722.8h0M1709.6 548.8h0M1485.3 964.7h0M1646.2 716.3h0M1723.5 665.3h0M1730.4 541.2h0M1701.7 596.3h0M1532.6 1103.9h0M1496.2 973h0M1279.6 592.7h0M1661.4 663.9h0M1565.8 605.9h0M1560.4 620.1h0M1459.5 464.1h0M1582.5 926.4h0M1725 550.8h0M1658.5 930h0M1525.4 483.5h0M1403.4 739.8h0M1522.7 876.4h0M1491.7 618.2h0M1619.4 608.1h0M1532.4 527h0M1472.8 592h0M1686.4 525.7h0M1328.4 718.4h0M1449.7 653.4h0M1569.9 1133.5h0M1514.7 614.2h0M1624 1006.5h0M1726.4 692.8h0M1499.9 670.6h0M1540.3 588.2h0M1716 653h0M1518.7 570h0M1496.2 631.6h0M1609.5 888.2h0M1765.4 727.8h0M1629.2 503.7h0M1748.3 523.8h0M1684 747h0M1744.4 703.1h0M1488.8 569.7h0M1545.3 914.9h0"/>
<path stroke="#ad347c" d="M872.4 843.7h0M1251 970.6h0M1016.8 396.4h0M1442.7 286.9h0M1400.5 1126.1h0M884.9 782.3h0M930.9 511.7h0M1643.8 450.5h0M1329 306.6h0M876.4 885h0M1065.2 738.2h0M944.5 721.9h0M1036.6 809.3h0M1416.6 275.4h0M829.4 831.7h0M565.9 702.1h0M936 529.7h0M1217 428h0M539.9 647h0M556.4 747.9h0M441.8 631.9h0M1185.3 569.6h0M1366.1 300.5h0M393.9 643.3h0M829.9 848.2h0M1501 951h0"/>
<path stroke="#491078" d="M1345.2 987.5h0M1201.4 967.8h0M1206.9 1133.2h0M1222.4 982.9h0M1207.7 988.1h0"/>
<path stroke="#fa7d5e" d="M1439.6 637.4h0M1550 535.6h0M1526 992.5h0M1577.5 1121.6h0M1609.8 976.3h0M1560.2 657.8h0M1519.6 348.4h0M1620.8 931.1h0M1786 711.1h0M1321.9 541.1h0M1680.7 911.1h0M1537.5 667.4h0M1552.3 810.3h0M1505.5 1147.7h0M1548.7 946.4h0M1699.5 688.2h0M1499.1 1027.2h0M1595.9 466.4h0M1575.5 876.5h0M1492.6 375.9h0M1585.2 522.8h0M1579 583.6h0M1045.8 877.6h0M1313.8 675h0M1526.7 1136.9h0M1557.9 547.9h0M1401.3 483.6h0M1636.1 519.3h0M1371 541.3h0M1513.2 505.1h0M1493.7 513h0M1171.3 688.3h0M1591.3 566.3h0M1521.1 702.7h0M1385.3 500.3h0M1306.4 562.4h0M1697.4 613.2h0M1439 819.7h0M1383.9 597.9h0M1227.6 373.8h0M1680 553.2h0M1419.9 598h0M1549.2 1105.5h0M1488.4 905.2h0M1540.9 415.9h0M1462 583.5h0M1207.5 465.6h0M1745.3 547.9h0M1379.7 659.2h0M1536.6 614.8h0M1399.9 742.3h0M1334.4 557.8h0M1502 533.8h0M1300.5 442.4h0M1526.1 593.9h0M1654.3 555.8h0M1367.8 559h0M1675.3 566.5h0M1603.3 923.6h0M1414.1 548.5h0M1435.3 581.2h0M1754.2 509.5h0M1547.3 389h0M1025 957.1h0M1034.5 902.6h0M1472.2 577.8h0M328.8 698.7h0M1572.9 1066.5h0M1483.2 962.4h0M1448.4 642h0M1302.7 600.3h0M1645.2 532.8h0M1335.5 414h0M1530.3 536.4h0M1442.1 575.8h0M1524.8 1127.3h0M1201.3 666.4h0"/>
<path stroke="#ef5d5e" d="M1506.9 926h0M1266.9 766.9h0M1636.2 993.7h0M1517.5 1051.3h0M1209.1 822.2h0M1571.5 1004.5h0M1398.3 673.4h0M1520.3 435.8h0M1491.7 594.9h0M596.9 680.7h0M1100 513.8h0M1485.5 454.6h0M1408.8 522.1h0M1343.9 579.7h0M1493 980.9h0M1640.6 453.5h0M923.1 819.3h0M1429.8 340h0M1472.2 449h0M1066.2 561.6h0M1342.5 516h0M1342 609.3h0M1249.5 423.4h0M1570 981.1h0M1542.3 440.7h0M1407.1 484.3h0M1352.5 532.6h0M1307 540.5h0M1001.9 850.8h0M1156.4 837.2h0M1659.5 983h0M1209.9 365.1h0M1513.9 1064.8h0M1300.8 723.5h0M1394.3 491.3h0M1672.1 887.4h0M944.2 517.7h0M1514 656.5h0M1241.8 454.1h0M1545.4 977.9h0M1639.9 937.9h0M1437.1 1139.9h0M1506.9 558.3h0M1332.2 533.7h0M1545.7 960.5h0M1489 390.5h0M1559.9 1022.2h0M1526 539.6h0M943.4 924.3h0M559.4 791.5h0M1552.7 1128.2h0M1188.2 391h0M1467.2 618.2h0M1492 314h0M1548.3 875.2h0M1508.1 393.7h0M1470.5 486.3h0"/>
<path stroke="#fec287" d="M1624.4 470.6h0M1689.9 707.7h0M1661.8 556.1h0M1335.1 690.7h0M1564.2 655.3h0M1691.9 486.8h0M1670 505.1h0M1578.1 769.4h0M1698.7 658.4h0M1499.2 365.7h0M1621.9 925.4h0M1656.4 622.1h0M1601.1 536.9h0M1586 612.2h0M1655 455.2h0M1754.2 661.8h0M1769.1 649.6h0M1718.5 551.4h0M1643.2 572.9h0M1722 583.5h0M1758.4 727.7h0"/>
<path stroke="#9e2f7f" d="M991 500h0M1073.6 485.5h0M1082.6 483.2h0M1086.9 480.5h0M1142.1 499.2h0M1455 1068.1h0M1448.3 912.8h0M885 702.9h0M1292.5 548.4h0M1099.1 472h0M975.9 845.2h0M1068.7 345.1h0M432.3 688.6h0M1163.8 345.7h0M458 613.2h0M1065.2 354.2h0M812.6 740.9h0M1370.4 984.6h0M915.9 780.4h0M894.5 876.2h0M948.7 528.9h0M1059.6 364.4h0M1070.9 367.7h0M818.1 705.6h0M842.9 731.1h0M1023.9 521.8h0M1510.9 949.4h0M565.7 746.4h0M852.7 670.3h0M1045.1 741.2h0M1251.8 947h0M885 658h0M849 869.1h0M1421.1 1103.4h0M1031.2 622.7h0"/>
<path stroke="#fc8e64" d="M1655.1 502.9h0M1060.4 921.7h0M1531.6 611.1h0M1555.7 497.2h0M1534.6 641.6h0M1689.7 545.1h0M1765.2 736h0M1384.2 733.5h0M1564 391h0M1717.6 565.5h0M1545.4 444.2h0M1590.6 1104.3h0M1621.5 613.8h0M1355.1 509h0M1514.2 568h0M1450.9 647.9h0M351.5 676.3h0M1700.2 607.1h0M1733.4 533.1h0M1689.1 504.4h0M1551.1 551.5h0M1536.6 476.2h0M1553.6 1114.1h0M1585.2 567.9h0M1564.2 539.6h0M1310.8 675h0M1678 493.8h0M1609.1 615.4h0M1675.3 512.9h0M1597.6 432.7h0M1541.4 583.3h0M1420.9 455.9h0M1584.2 1116.2h0M1535.1 651.5h0M1575.3 951.1h0M1542.7 1042.1h0M1615.2 863h0M1392 591.4h0M1189.4 372.3h0M304.8 712.6h0M1731.1 720.3h0M1483.3 1148.6h0M1511.4 612.2h0M1506.3 976.5h0M1442.6 538.1h0M1594.4 582.8h0M1534.8 611h0M1714.7 514.2h0M1431.7 489.7h0M1433.5 891.9h0M1561.5 463.6h0M1630.7 562.8h0M1437.7 627h0"/>
<path stroke="#fde3a5" d="M1694.6 481.9h0M1766.5 714.5h0M1639.1 693.8h0M1747.9 632.4h0"/>
<path stroke="#f66c5c" d="M1541.4 1087.9h0M1494.6 379.2h0M1362 485.1h0M1368.8 1229.6h0M1623.2 933.2h0M1405 482h0M1390.9 509h0M1423.7 566h0M1523.3 1029.2h0M343.5 685.8h0M1490.9 383.5h0M1537.8 374.7h0M1432.3 499.6h0M1475.7 969h0M1428.3 616.4h0M1003.9 893.5h0M1410.9 518.5h0M1401.2 554.8h0M1419.9 1061.7h0M1604.1 441.4h0M1306.1 480.4h0M1371.2 616h0M1475.7 1019.9h0M1221 826.1h0M1488.9 350.2h0M1424.6 616h0M1400.5 543.7h0M1340.3 672h0M1330.5 536.4h0M1397.5 490.5h0M1171.2 726h0M1473.5 925.6h0M586.7 678.2h0M1514.7 1072.2h0M1480.9 355.4h0M1533.2 436h0M1439 496.5h0M1227.1 445.3h0M1464.6 1114.1h0M1419.7 592.4h0"/>
<path stroke="#fcf4b6" d="M1712.7 711.9h0"/>
<path stroke="#902a81" d="M1060.6 325.3h0M1030.8 746.8h0M896 656.7h0M956.6 813.9h0M465.3 624.6h0M390 656.2h0M893.4 847.5h0M988.8 413.8h0M496.6 670.9h0M1310.4 290.5h0M1416.5 238.4h0M1247.3 899.5h0M1175.9 510.4h0M1092 626.4h0M989.8 383.9h0M981.6 850h0M967.9 843.2h0M1423.9 963.4h0M1218.1 618.3h0M1194.6 956.6h0M502.6 636.1h0M1048.9 682.8h0M1023.7 927.8h0M1034.1 992.6h0M1263.7 951.4h0M1084 318.7h0M1223.4 1126.8h0M1416.9 976.9h0M422.3 654.9h0M1061.8 890.3h0M436.7 596.6h0M1029.8 535.4h0M1150.3 559.7h0"/>
<path stroke="#390f6e" d="M853.3 641.5h0M997.1 710.5h0"/>
<path stroke="#fed395" d="M1524 663.6h0M1523 594.9h0"/>
<path stroke="#ad347c" d="M1033.9 357.1h0M990.3 505.1h0M1173 698h0M859.2 706h0M1355.3 314.2h0M852.3 709.7h0M1058.7 529.9h0M813.6 811.2h0M1096 317h0M1122.2 506.6h0M894.6 734.7h0M984.6 913.8h0M920.3 499.4h0M972.2 599.9h0M1526.3 1086.8h0M1377.5 1225h0M651 755h0M985.2 600.6h0M903.6 752.5h0M821.8 727.8h0M1066.1 801.6h0M601.7 778.2h0M952.6 824.3h0M430.2 603.2h0M1099.8 660.2h0M1472 1026.2h0M1455.1 963.1h0M1109.8 407.8h0M1348.9 930.2h0M951.6 918.8h0M524.3 647h0M1403.1 1223.2h0M1003.4 501.5h0M1387.6 988.7h0M1071.2 922.2h0M1409.4 1121.1h0M1509.5 920.3h0M1360.5 1215.2h0M828.8 747h0M1011.1 537.3h0M539.8 652.5h0M1477.8 383.4h0M475 685.8h0M1045.8 494.7h0M564.3 667.8h0"/>
<path stroke="#390f6e" d="M1330 1202h0"/>
<path stroke="#9e2f7f" d="M1390.4 1149.4h0M572.9 658h0M1446.5 1171.7h0M909.6 901.3h0M1078.9 653.4h0M1215.5 567.2h0M1143.2 692.8h0M920.5 516.4h0M951.2 700.3h0M1093.5 728.3h0M1070.7 323.7h0M1171.1 478.3h0M989.5 602.9h0M966 505h0M930.2 852.9h0M1154.5 691.2h0M1077.2 355.9h0M999.1 544.2h0M1231.8 949.2h0M988.6 667.1h0M1127.4 470h0M977.4 936.6h0M1093.4 418.5h0M1384 1185.3h0M567.4 647.5h0M1762.7 672h0M404.8 619.7h0M1204.1 1012.4h0M447.7 608.5h0M904.8 873.2h0"/>
<path stroke="#812581" d="M1392.3 941.2h0M1349.2 953.1h0M385 618.3h0M1046.2 417.1h0M1433.3 966.6h0M1281.4 929.9h0M955.9 693.7h0M1152.8 944.4h0M1427.4 265.5h0M1078.7 388.5h0M983.3 754.5h0M1045.7 836.8h0M1066.2 373.9h0M1265.2 959.2h0M1226.9 999.2h0M931.2 760.3h0M968.1 713.9h0"/>
<path stroke="#902a81" d="M813.9 800h0M1014.8 503.6h0M572.1 730h0M1391.6 1204.8h0M1136.8 423.1h0M527 696.4h0M1612.2 1038.4h0M985.4 513h0M544.8 640.5h0M533.8 752.3h0M1112 388.5h0M1377.5 1005.4h0M1117.5 484.7h0M894.1 868.2h0M862.5 644.1h0M941.9 716.4h0M1279.3 1185.3h0M1032.3 769.8h0M1094.5 741.8h0M978.6 415h0M1191.2 966.6h0M1065 439.2h0M1080.3 330.8h0M1136 579.4h0M998 406.3h0M1413.9 999.7h0M1430.1 1137.9h0"/>
<path stroke="#f66c5c" d="M1170.7 344.3h0M1501.2 1097.5h0M1461.8 521.4h0M1507.2 348.5h0M322.8 716h0M1345.6 645.1h0M1178.5 369.6h0M1412 503.3h0M1469.7 592.5h0M1516.4 369h0M1465.3 437.4h0M1304.5 473.3h0M1536.1 901.5h0M1407.2 963.7h0M1507.6 995.8h0M1476.6 306h0M1436.8 1185.8h0M1665 1046.5h0M1703.3 715.7h0M1592.4 539h0M1388.4 730.5h0M1444.4 325.5h0M1467.7 525.9h0M1537.2 923.8h0M1368.6 535.7h0M1160.7 819.4h0M1333 396.7h0M1290.4 467.5h0M1526.6 598.2h0M1361.1 468.7h0M1535.1 1080.3h0M1645.8 1042h0M1719.8 669.4h0M1417.2 672.2h0M1577.1 1094.1h0M1097.5 941.5h0M1447.3 450h0M1588.7 957.3h0M1610.1 921.3h0M1526.6 422.7h0M1512.4 561.4h0M1457.5 1132.5h0M1517 899.7h0M1349.5 457.2h0M1213.5 371.7h0M1496.9 663.1h0M1493.7 1000.4h0M1342.1 587.7h0M1497.5 1119.9h0M1594.7 1012h0M1489.1 535.4h0M1156.3 352.1h0M1369.7 452.2h0M1041.1 895h0M1186.7 633.8h0M1406.8 470.6h0M1371.4 555.5h0M1440 611.3h0M1540.8 965.3h0M1318.6 532.5h0"/>
<path stroke="#e55064" d="M1489.1 1082.2h0M953.8 827.7h0M540.4 769.5h0M1267.4 769.9h0M1010.7 934.2h0M953.6 877.1h0M1412.9 640.1h0M1345.5 481.2h0M967.1 752.6h0M1143.2 642.3h0M1003.8 765.6h0M1066.4 818.4h0M1660.5 902.5h0M391 668.6h0M768 727.3h0M1447.1 295.5h0M1485.7 978.5h0M1510.6 1149.6h0M1383.5 586.6h0M1452.1 865.6h0M1418.5 508.6h0M1578.8 916.7h0M993.8 842.6h0M893.8 883.6h0M1642.2 1032.4h0M1488 672.2h0M1103.2 691.7h0M1088.4 500.5h0M1336.2 519h0M1361 454.9h0M1355.7 529.7h0M1410.7 619.9h0M969 934.9h0M1141.7 710.3h0M1430.6 649.1h0M1399.5 958.2h0M1117.1 681.1h0M1530.3 338.9h0M1558.4 598.9h0"/>
<path stroke="#feb078" d="M1705 587.2h0M1635.1 643.5h0M1644.8 903h0M1681.3 669.8h0M1751.1 558.3h0M1522 734.3h0M1580.1 525.9h0M1515.3 521.3h0M1553.3 667.6h0M1709.7 713.1h0M1734.4 536h0M1604.4 604.7h0M1552.5 618.6h0M1753.5 633.9h0M1748.1 520.1h0M1644.4 897h0M1515.2 988.6h0M1603.2 465.6h0M1606.5 478.3h0M1717.9 576.7h0M1673 569.9h0M1665.4 875.5h0M1357.4 605.9h0M1611 627.5h0"/>
<path stroke="#fec287" d="M1637 706.9h0M1776.5 662.8h0M1541.1 630.5h0M1642.2 712.8h0M1576.4 567.5h0M1632 603.5h0M1745.4 721.3h0M1602.7 999.7h0M1489.6 345.4h0M1528 578h0M1553.2 547.5h0M1635.9 929.5h0M1631.9 699.3h0M1667.8 625.3h0M1311.8 646.4h0M1354.5 648.8h0M1539 379h0M1556.8 837.1h0"/>
<path stroke="#fe9f6d" d="M1500.6 398h0M1525.3 911.7h0M1512.9 1061.4h0M1662.9 497.6h0M1535.2 586.2h0M1676.9 591.9h0M1512.6 550.4h0M1741 703h0M1668.2 522h0M1418 736.7h0M1672.9 596.8h0M1750.1 737.1h0M1612.1 938.9h0M1683.4 581.6h0M1598.1 525.9h0M1385.9 685.4h0M1437.5 520.1h0M1566.4 534h0M1559.9 923.5h0M1614.1 488.8h0M1637.4 907.9h0M1471.1 473.8h0M1645.1 701.1h0M1276.1 537.2h0M1587.6 621.9h0M1297.4 678h0M1508.9 585.4h0M1704.6 735.2h0M1647.3 569h0M1637.8 484.1h0M1638.6 873.7h0M1583.4 899.1h0M1639.8 500.5h0M1524.3 556.4h0M1377.4 670.1h0M1710.6 583.7h0M1549.7 543.6h0M1599.9 550.5h0M1455.1 620.3h0M1590 587h0M1719 525.1h0M1633 690.3h0M1730.9 673.9h0M1737.2 639.4h0M1576.5 635.4h0M1223.6 754.3h0M1588.5 966.9h0M1711.8 578.6h0M1608.8 1001.1h0M1511.5 663.8h0"/>
<path stroke="#ef5d5e" d="M1504.5 756h0M1380.7 877.3h0M1329.5 657.8h0M1597.5 1029.9h0M1094.8 759.4h0M1473.8 537h0M1408.4 476.4h0M1395.4 479.4h0M1284.7 408h0M1180.2 718.8h0M1220.3 615.5h0M1539 1093.7h0M1396.6 561.8h0M823.1 851.7h0M1488.3 1012.1h0M1517.1 1105.7h0M1398.8 487h0M1468.6 336.4h0M1663.3 868.5h0M1541.8 1053.3h0M1072.4 914.3h0M938.2 754.7h0M1014.6 849h0M1487.6 320.1h0M963.5 813.1h0M1434.5 632.5h0M1112.2 376.6h0M1321.1 582.9h0M1097.5 901.5h0M1444.9 457.7h0M1607.6 1069.1h0M1183 561.8h0M826.4 811.1h0M1614 817.4h0M1329.6 676.7h0M1402.9 397.9h0M1506.2 408.8h0M1327.2 443.6h0M1304.7 571.6h0M1156.3 363.2h0M1468.2 505h0M1555.8 453.9h0M1439.6 577.7h0M1155.3 749.8h0"/>
<path stroke="#fa7d5e" d="M1130 932h0M1502.4 681.2h0M1528.4 500.2h0M1480.6 604.7h0M1382 485.5h0M1644.4 965.3h0M1322.4 478.8h0M1374.6 620.2h0M1535.3 571.8h0M1465.2 637.5h0M1574.3 467.9h0M1573.6 1009.7h0M1455.5 1004.4h0M1741.3 564.6h0M1466.6 466.3h0M1508.4 543.1h0M670.5 735h0M1494.1 456.1h0M1591.6 542.1h0M1538.1 1065h0M1516.3 515.4h0M1308.9 449.8h0M305.8 717.3h0M1273.2 713.2h0M1144.9 803.3h0M1340.6 696.7h0M1534.4 513.7h0M1379.4 467.1h0M1493.7 550.2h0M1523.5 574.1h0M1526.8 462.6h0M1587.4 533.6h0M1444.4 546.4h0M1478.6 651.1h0M1593.4 933.8h0M1543.9 570.6h0M1574 527.2h0M1462.2 1068.5h0M1627.7 474.7h0M1399.3 480.4h0M1511.9 958.4h0M1737.6 499h0M1520.6 598.9h0M1502.1 595.3h0M1549.4 942.3h0M1235.2 682.5h0M1529.9 1113.1h0M1378.9 573.9h0M1671.6 614.6h0M1484.1 588.5h0M1297.9 413.3h0M1562.3 477.4h0M1652.3 912.7h0M1372.6 511.9h0M1602 961.9h0M1424.6 556.7h0M1412.7 538h0M1499.3 979.7h0M1575.7 501.9h0M1318 668.2h0M1349.8 608h0M1616.1 1079.3h0M1401 547h0M1561.8 485.4h0M1035.3 881.2h0M1497.6 984.4h0M1477.6 516.9h0M1673.9 933.5h0M1071.1 885.1h0M1281.9 578.1h0"/>
<path stroke="#bd3977" d="M1524.3 928.8h0M1123.9 388.2h0M1367.3 1054.5h0M1102 654.5h0M1056.2 502.7h0M1416.3 1127.1h0M1321 963.8h0M406 661.4h0M1253.1 523.8h0M1298.3 479.8h0M965.6 522.8h0M995.6 667.7h0M1164.4 561.6h0M1187 964.1h0M406.1 667.4h0M1122.5 304.5h0M1343.3 977.2h0M981.2 872h0M1386.4 1028.2h0M476.4 652.2h0M1046.7 485.7h0M389.2 633.7h0M1074 352.2h0M1188.3 960.4h0M1116.5 418.6h0M998 537.3h0M1028.8 620.7h0M1013.8 479.8h0M872 867.3h0M1144.5 466.1h0M1524.9 1118.6h0M1262 1052h0M1175.7 366.3h0M1146 616.9h0M817.5 806.5h0M969.1 605.5h0M1299.4 952.2h0M1130.1 575.7h0M1105.2 576.5h0M1338.8 285.7h0M570.1 746.1h0M523.3 662.2h0"/>
<path stroke="#651a80" d="M883.2 926h0M1182 922.1h0M1402.5 1171.4h0M911.9 878.6h0M1028.8 339.6h0M1002.7 491.3h0M895.6 914.5h0M1367.8 1186h0M966.4 495.8h0M1346 1246h0M1241 959.6h0M1330.6 1028h0M859.7 860.3h0M1089.7 476.7h0"/>
<path stroke="#fcf4b6" d="M1700.1 682.1h0M1727.2 710.7h0"/>
<path stroke="#57157e" d="M550.5 644.9h0M1206.2 981.5h0M990.4 426.1h0M428.5 583.9h0"/>
<path stroke="#020109" d="M1065.3 333.2h0M1228.7 1125.3h0M1264.1 1118.1h0M1219.3 1078.1h0M1200.5 1144.7h0M1248.9 984.8h0M1310 1210.7h0M1216.7 1144h0"/>
<path stroke="#491078" d="M980.5 837.5h0M1374.2 996.7h0"/>
<path stroke="#1c1044" d="M1303.3 1033.3h0"/>
<path stroke="#732081" d="M1108.5 648.8h0M1075.8 336h0M930.3 699.8h0M1033.2 816.1h0M1114.3 670.8h0M1037.8 519.1h0M1020.7 536h0M1287.7 927.5h0M1373.7 1195.9h0M549.9 700.8h0M936.7 710h0"/>
<path stroke="#110c2f" d="M1164.9 930.2h0"/>
<path stroke="#d9466b" d="M1408.9 515.7h0M1015.9 483.9h0M1016.6 491.4h0M1429.3 1018.9h0M1302.6 452.6h0M1256 544.3h0M390.8 684.9h0M1428.3 1179.9h0M1507.1 377.4h0M1093 312.3h0M1432.5 628h0M822.6 803.7h0M1041.4 883.2h0M1416.4 441.1h0M1423.6 925.5h0M1191.4 733.4h0M1094.8 354.1h0M1615.8 400.5h0M1142.3 680.6h0M1445.3 309.9h0M1027.3 840.6h0M1461.1 286.6h0M1385.2 980.9h0M1610.5 982.5h0M1285.3 571.7h0M1678.7 924.2h0M1441.8 1090.8h0M1473.9 1007.9h0M1039.7 788.3h0M1084.7 325.7h0M1328.1 455.2h0M1417.6 265.9h0M1483.6 1138.9h0M1496.9 947.3h0M1437 281.3h0M814.1 823.3h0M1574.6 880.3h0"/>
<path stroke="#cc3f71" d="M1071.2 578.4h0M1311.2 443.1h0M1165 479.9h0M1136.9 587.6h0M1017 987.6h0M1197.3 536.2h0M1050.8 499.8h0M1107.6 882.2h0M1121 340.1h0M1473.7 1176.8h0M1178.4 660.9h0M1364.2 953.8h0M970 830.7h0M1049.5 735.7h0M1159.5 416.1h0M1070.9 537.9h0M1257.8 494.8h0M1433.2 940.9h0M1028.1 502.7h0M1166.7 693.9h0M1319.2 488.8h0M920.7 710.6h0M1377 968.3h0M1431.1 336.2h0M536.1 704.4h0M1556.5 1135.8h0M1405.3 249.6h0M453.2 690.9h0M1212 610.1h0M1054.8 833.8h0M1117.2 331.3h0M1028.1 671.8h0M976.3 519.9h0M1035.9 932.1h0M594.5 750.6h0M1432.4 1011.2h0"/>
<path stroke="#fc8e64" d="M1702.1 520.8h0M1719.4 677.8h0M1461.3 1061.4h0M1475.1 656.7h0M1539.9 853.9h0M1576.8 705.4h0M1470.2 529.3h0M1569.2 392.6h0M1611.4 934.6h0M1507.9 934.1h0M1635.4 505.7h0M1484.7 517.1h0M1623.3 962.7h0M1540.4 525h0M1708.5 671.4h0M1477.6 548.6h0M1603.4 615.2h0M1616.8 463.4h0M1158.6 366.3h0M1520.8 626.9h0M1499.1 606.4h0M1567.7 1067.7h0M1586.6 432.2h0M1638.3 596.1h0M1602.3 984.9h0M1497.7 871.9h0M1364 540.1h0M1418.5 476.7h0M1593.2 502.6h0M1225.1 423.7h0M1408.3 634h0M1593.1 601.9h0M1665.9 903.4h0M1585.3 556.8h0M1765.2 662.1h0M1518.6 486.8h0M1686.2 472.6h0M1181.6 712.2h0M1535.4 560.8h0M1606.1 610.7h0M1592 614.7h0M1481.1 375.5h0M1536.8 575.2h0M1520.2 522h0M1452.6 325h0M1548.1 1035.6h0M1724.7 593.8h0M595.4 790.4h0M1556.1 1102.9h0M1440.6 888.8h0M1367.5 492.8h0M1693.1 478h0M1369.3 1256.2h0M1581.4 763.8h0M1525.9 635.5h0M1722.5 685.7h0M1574.6 1057.6h0M1546.3 646.5h0M1709.5 535.6h0M1666.8 1027.2h0M1477.1 1007.5h0M1435.7 624.5h0M1667.9 895.3h0M1584.6 1056.5h0M695.7 730.5h0M1330.8 517.5h0M1666.2 563.4h0M357.1 678.2h0M1575.3 531.1h0"/>
<path stroke="#fde3a5" d="M1738.8 718h0M1732.5 762.3h0M1727.7 727.2h0"/>
<path stroke="#902a81" d="M409.9 606.6h0M1075.3 386.2h0M478.2 662.9h0M1003.5 757.9h0M1485.7 1146.2h0M1051.1 506.1h0M1022.3 641.1h0M1016 926.9h0M939.5 551.5h0M1354.7 1241.7h0M1027.9 890h0M1096.2 529.7h0M1408.6 1216.2h0M1336.5 941.5h0M1363 917.5h0M497.8 639h0M1213.7 1008.6h0M946.3 905.2h0M989.1 611.8h0M1391.2 1212.2h0M866.6 841.5h0M853.3 676.8h0"/>
<path stroke="#e55064" d="M1526.6 350.5h0M1304.1 468.8h0M1553.6 917.5h0M1334.3 492.5h0M1496.3 323.5h0M1556.9 983.6h0M1228.7 726.8h0M1490.1 613.6h0M1506.9 922h0M984.3 543.3h0M1583.7 982.7h0M1157.1 720h0M1556.8 1125h0M1457.9 895.2h0M1359.6 598.5h0M1507 414.9h0M1576.5 1080.4h0M1379 590.6h0M1431.1 333h0M1247.6 584.6h0M1021.2 499.2h0M784 720.7h0M1294.1 729.4h0M1465.1 1130.7h0M961.8 508.4h0M1552.2 879.2h0M1466.5 308.6h0M1026 512.8h0M1462 320.4h0M1162.9 522.4h0M1036.2 593.7h0M1536.8 943.1h0M872.1 824.4h0M1201 493.1h0M1530.3 394.2h0M1429.2 1146.1h0M1449 343.1h0M1146.4 421.9h0M1484.1 956.7h0M1329.3 575.9h0M1562 978.4h0M1375.7 493.7h0M1517.3 895.2h0M1465.7 474.1h0M1307 324.9h0M564.6 800.7h0M1562.8 966.7h0M1320.1 566.1h0M1670.7 943.6h0M997.3 762.8h0M1277.9 716.5h0"/>
<path stroke="#29115a" d="M1412 1110h0M1002.3 714.8h0"/>
<path stroke="#feb078" d="M1606.2 515.8h0M1487.5 529.1h0M1549.4 952.8h0M1654.6 485h0M1644.5 870.2h0M1382.1 592.7h0M1343.5 666.5h0M1599.3 534h0M1776.8 670.5h0M1564.7 998.6h0M1506.5 631.2h0M1581.6 1084.6h0M1496.1 335.7h0M1516.2 1055.9h0M1714.1 517.2h0M1747.5 555.6h0M1651.2 967.1h0M1728.6 742.3h0M1731.8 704h0M1495.3 907.8h0M1559.4 609.3h0M1561.1 395.4h0M1743.9 561.9h0M1605.9 618h0M1601.7 457h0M1618.7 523.4h0M1674.4 544.4h0"/>
<path stroke="#732081" d="M552 761.5h0M1031.8 579.2h0M1355.4 983.3h0M946.2 533.1h0M460.7 595.7h0M435.9 611.1h0M899.5 716.7h0M1074.7 394.9h0M1082.2 390.8h0M863.1 654.8h0M907.6 783.7h0M1016.8 663.9h0M928 733.4h0M447.4 653.3h0M1035.2 331.2h0M1352.6 1248.8h0M1222.9 1018.8h0M1336 962.7h0M1105.4 718.1h0M1171.9 944.6h0M1341.1 1235.4h0M966.9 916.9h0M1369.3 960.5h0M1054.3 514.6h0"/>
<path stroke="#07061c" d="M863.5 879.7h0M1415.3 1152h0"/>
<path stroke="#020109" d="M1206.3 1114.9h0M1012.7 486.6h0M1406.9 1152.3h0"/>
<path stroke="#f66c5c" d="M1453.7 1085.7h0M1327.8 534.1h0M832.1 718.5h0M1378.6 475.6h0M1104.8 752h0M1355.7 572.4h0M1527.9 358.2h0M1485.9 639.1h0M1525.6 657.1h0M1439 647.3h0M1319.1 590.6h0M1481.9 572.7h0M1427 506.8h0M1424 279h0M1269.8 458.9h0M1537.3 367.3h0M1658.1 1037.3h0M1463.8 654.8h0M972.6 948.5h0M310.1 700h0M1561 1046.6h0M1585.2 1094.6h0M1423.6 491.5h0M1441.4 861.2h0M1395.9 504.5h0M1273.7 673.5h0M1611.7 454.4h0M1515.7 506.9h0M1475.2 375.1h0M349.4 698.6h0M1519.5 456.8h0M1365.3 619.5h0M1435.6 621.2h0M1516.4 417.6h0M1370.8 496.3h0M1009.4 882.6h0M1416.8 471.5h0M1326.6 577.2h0M1466.5 648.2h0M1515.4 524.5h0M1266.2 538.3h0M1598.7 503.7h0M1510 930.4h0M1434.2 847.4h0M1545.2 562.7h0M1566.4 1083.7h0M1482.4 948.7h0M1520.9 814.7h0M1460.2 978.8h0M1400.6 585.3h0M1300.7 492h0M1421.3 568h0M1388 716h0M1520.3 969.2h0M1496.9 616.6h0M1449.4 477.4h0M1333.1 526h0M1637.4 471.1h0M336.4 677h0M1354 865.3h0M1090.5 813.7h0M1521.8 617.3h0M1414.8 517.2h0M1620.8 547.5h0M993.5 987.2h0M1542.1 435.9h0"/>
<path stroke="#fec287" d="M1656.7 694.9h0M1516.2 379.4h0M1615.9 881.8h0M1748.4 723.9h0M1511.6 816.1h0M1732.2 711.4h0M1359.6 666.7h0M1596.4 439.3h0M1527.5 1077.9h0M1539.6 569.7h0M1574.4 967h0M1531.1 691.4h0M1717.5 584.3h0M1589 643.1h0"/>
<path stroke="#ad347c" d="M1125.4 376.2h0M890.8 691.2h0M1036 576.3h0M1442.3 974.3h0M954.6 482.2h0M828.2 862.4h0M851.9 890.9h0M1049.3 459.5h0M1487.7 1181.1h0M1140 787.2h0M918.7 845.1h0M1040.4 915.2h0M1161.7 349.5h0M1058.8 514.5h0M1132 673.7h0M877.1 823.4h0M1045.5 513.4h0M987 392.6h0M1404.2 1023.7h0M551.2 748.5h0M906 890.3h0M1222.5 974.4h0M1050.6 858.5h0M579.6 746.4h0M1062.5 731.6h0M897.4 713.3h0M932 884.1h0M1381.2 263.8h0M1012.7 531.6h0M1070.2 789.1h0M913.7 790.4h0M1392.1 1165.3h0M1365.6 1195.7h0M976.2 732.7h0M1513.3 1165.9h0M547.1 643.4h0M1096.6 344.8h0"/>
<path stroke="#9e2f7f" d="M1073 356.4h0M520.5 670.3h0M820.1 699.1h0M574.8 740.8h0M899.5 632h0M1349.9 325.7h0M1378.8 998.4h0M1281.4 924.6h0M1071.6 550.3h0M1052 371.9h0M550.5 707.3h0M1036 342h0M1347.9 985.3h0M981.1 750.9h0M1365 295.9h0M1457.6 1200.8h0M1700 766.7h0M1252.7 939.1h0M832.6 819.5h0M886.7 922.9h0M1043.7 841.5h0M936.1 853.8h0M1488.3 1063.7h0M1460.7 1191h0M1246 305h0M1197 961.1h0M1249.2 998.4h0M446.8 629.9h0M1462 991.5h0M1443.1 1168h0M1401.1 329.8h0"/>
<path stroke="#57157e" d="M450.7 600.5h0M1197.5 1003.3h0M868.5 704.3h0M943.6 894.2h0"/>
<path stroke="#ef5d5e" d="M1361 905.2h0M1614.6 948h0M1442.9 650.8h0M1470.3 1052.1h0M1025.4 570.6h0M1486.7 612h0M1463.6 1144.1h0M1161.4 659.4h0M1362.1 507.5h0M1425.2 623.2h0M1431 280.7h0M1543.3 357.1h0M1073.3 522.1h0M1574.5 946.7h0M1453.9 305.5h0M1317 546.1h0M1333.2 587.4h0M1544.4 890.7h0M938.1 808.6h0M1577.2 589.7h0M1445.4 573.5h0M1036.8 835.7h0M1457 1010.6h0M1196.7 699.9h0M1532.3 991.8h0M1307.9 684.7h0M1571 1059.3h0M1221.5 359.4h0M1522 1096.2h0M1669.2 925.4h0M1508.7 505h0M1297.4 622.9h0M568.7 782h0M1436.4 1171.1h0M1439.5 484.6h0M1490.5 945.2h0M1048.4 564.9h0M1177.8 384.7h0M1416.9 465.3h0M1291.4 497.4h0M1509.6 939.4h0M1605.9 919.7h0M570.9 776.2h0M1510.4 1006.6h0M1411.9 527.1h0M1466.3 340h0"/>
<path stroke="#651a80" d="M1378.6 242.2h0M1031.8 960.1h0M1058.3 374.1h0M1247 958.4h0M1125.7 512.5h0M974.6 398.8h0M461.6 633.9h0M1188.5 1126.5h0M443.8 601.8h0M419.4 608.8h0"/>
<path stroke="#bd3977" d="M924.1 900.2h0M422.1 599.6h0M1259.3 982.7h0M1173 955.2h0M1401.5 980.7h0M1117.1 559.7h0M824.4 731h0M1396.1 1202.6h0M1432.5 1158.4h0M1117.3 598.3h0M979.8 594.4h0M803.5 744.8h0M1434.8 909.7h0M996.8 827.7h0M1038.2 812.1h0M999.4 958h0M1426.6 317.5h0M1062.9 881.9h0M1001.9 867.4h0M1133.6 705.1h0M1290 407.4h0M1012.3 492.9h0M1526.4 1145.9h0M1480.6 1161.1h0M1449.4 1105.4h0M922.4 714.4h0M1388.7 901.3h0M1151.7 714.8h0M898.1 760.3h0M1069.2 492.2h0M810.1 832.6h0M1355 939h0"/>
<path stroke="#d9466b" d="M347.2 669.7h0M1200.9 400.4h0M1264.9 903.4h0M1229.9 718.8h0M1431.9 920.2h0M967.3 878.3h0M1515.7 922.3h0M1365.9 261h0M1575.2 973.8h0M910.1 708.4h0M1480.7 368.1h0M1327 542.9h0M1541.8 1112.7h0M1060 744.4h0M1454.9 319.3h0M1130.4 500.6h0M1251.7 413.1h0M1347.4 618.6h0M1350.6 1034.5h0M1343.7 471.1h0M1559 953.3h0M1316.1 974.9h0M1220.1 440.7h0M1362 1238.2h0M1390.5 968.3h0M1545.9 984.3h0M1167.8 386.1h0M1375 1228.8h0M907.3 741.3h0M1180.3 338.1h0M1332.1 985.4h0M909.3 834.1h0M890.8 868.8h0M1102.6 485.2h0M1060.2 473.4h0"/>
<path stroke="#fed395" d="M1572 604.2h0M1740.7 713.9h0M1727.3 523.7h0M1709.1 560.6h0M1651.8 533.1h0"/>
<path stroke="#cc3f71" d="M1131.8 350h0M1138.5 645.5h0M921.8 864.5h0M1525.3 895.7h0M1556 1129.8h0M1515 904.9h0M1159.7 691.3h0M580.4 751.5h0M1327.3 663.7h0M975.1 862.9h0M1243.5 717.1h0M1551.4 436.7h0M529.7 774.1h0M865.4 711.5h0M1030.5 525.3h0M1347.1 1214h0M993.3 762.5h0M932.1 831h0M1265.9 724.4h0M838.6 717.6h0M1006.5 560.7h0M1186.6 767.1h0M1087.2 308.7h0M964 464.7h0M1102.6 322.1h0M1123.9 382.6h0M983.4 780.2h0M1097.5 532.7h0M1062.4 538.7h0M986 622.7h0M1196.7 720.9h0M1565.1 1024.8h0M1461.2 973.6h0M1019.2 951.6h0M1066.9 368.2h0M1338.5 301h0"/>
<path stroke="#390f6e" d="M1347.8 1000.6h0M1201.8 970.8h0M1206.9 1166h0"/>
<path stroke="#812581" d="M1048.5 351.2h0M1252.2 1009.4h0M1017.5 414.5h0M548.7 757.4h0M441.1 611h0M1357.9 1068.2h0M1170.3 965.5h0M1069.1 478.4h0M1335.7 1002.3h0M1368.9 1212.1h0M429.2 593.8h0M1210 980.5h0M1365.5 1204.9h0M833 827.2h0M470.6 673.1h0M1042.3 337.3h0M1066.9 338.7h0M1106.3 470.8h0M1386.6 1208h0M1084.9 518.8h0M1038 474.4h0"/>
<path stroke="#fa7d5e" d="M1726.6 660.7h0M1578.8 430.8h0M1290.8 517.6h0M1384.9 557.8h0M1378.4 542h0M1437.3 300.2h0M1396.3 564.9h0M1406.2 315.5h0M1648.9 962.1h0M1398.2 588.1h0M1476.3 1034.9h0M1201.2 431.1h0M1504.5 402.3h0M1627.3 941.2h0M1433.6 553h0M1493.7 587.7h0M1235.4 693.1h0M1500.3 551.3h0M1529.6 676.1h0M1677.6 508.3h0M1572 442.8h0M1168.8 679.6h0M1618.1 890.1h0M1337.4 528.4h0M1588.9 997.7h0M1605.1 863h0M1368.5 563.3h0M1529.6 1075.1h0M605.1 784.1h0M1258.7 673.9h0M1507.8 608.9h0M1632.3 489.9h0M1525.9 544.5h0M1456.5 486.7h0M1481.6 592h0M1672.1 972.4h0M1424.6 660.3h0M1487.7 342.7h0M1610 1041.9h0M318.1 708.2h0M1609.8 1023.5h0M1367.9 626.8h0M1491.8 916.4h0M1413.2 451.6h0M1517 602.3h0M1492.6 536.4h0M1667.8 551.6h0M1457.2 1111.7h0M1536.4 540.3h0M1735.6 549.8h0M1483.4 316.3h0M1656.4 482h0M1481.1 336.3h0M1458.9 567.5h0M630.1 762h0M1347.9 626.2h0M1568.9 987h0M1582.9 630.4h0M1491.8 600.2h0M1638.6 967.4h0M1446.1 568.3h0M1415.9 647.3h0M1539.1 563.6h0"/>
<path stroke="#fc8e64" d="M1633.8 1006.8h0M1408.8 496h0M1604.9 1045.5h0M1510.5 386.7h0M1597.4 423.9h0M1481.1 624.4h0M1463.2 660.4h0M1689.7 483.8h0M1561.3 492.7h0M1383 655.9h0M1381.5 538.2h0M1564.7 898.4h0M1493.9 903.7h0M1559.7 443.1h0M1516.7 633.3h0M1539.3 492.1h0M1521.9 571h0M1717.6 573h0M1645.1 439.6h0M1447.8 492.7h0M1579.2 548.7h0M1722.9 526.3h0M1753.7 528.7h0M1402.1 736.9h0M1548.6 564.8h0M1576.9 446h0M1374.7 674.8h0M1500.5 503.6h0M1453.8 871.5h0M1414.6 736.1h0M1539.5 600.5h0M1732.1 726.6h0M1500.1 628.1h0M1489 540.9h0M1609.9 520.3h0M1059.6 931.9h0M1379.1 611.7h0M1553.4 627.4h0M1439.3 554h0M1637.3 703.6h0M1464.1 634.1h0M1316.1 644.8h0M1384.9 695.5h0M1592.9 727h0M1446.4 893.9h0M1524.2 392.5h0M1570.2 896.4h0M1558.6 391.8h0M1588.5 617.8h0M1644.6 609.2h0M1692.7 509.1h0M1479.7 958.7h0M1469.5 652.6h0M1504.1 1084.5h0M1538.5 935.8h0M1551.7 624.8h0M1670.2 546h0M1559.3 591.9h0M1470.2 549.1h0M1413.5 599.3h0M1386.6 740.6h0M1669.3 940.6h0M1566.8 967.3h0M1554.8 631.4h0M1402.8 513.2h0M1470.7 521.1h0M1449.2 499.5h0M1589.3 547.1h0M1630.3 533.9h0M1630.1 447.5h0"/>
<path stroke="#491078" d="M854 644.7h0M976.9 548.8h0M429.1 615.7h0M1338.2 256.6h0M1195.8 1136.4h0"/>
<path stroke="#fde3a5" d="M1759.5 684.2h0"/>
<path stroke="#fe9f6d" d="M1647.8 525.9h0M1737.5 739.4h0M1724.3 587.9h0M1542.2 599.2h0M1476.7 959.5h0M1468.7 511.9h0M1436 555.2h0M1515.8 1033.2h0M1621 623.9h0M1688.8 567.2h0M1398.8 736.4h0M1541 373.9h0M1603.8 636h0M1565 411.2h0M1294.7 690.9h0M1635.3 572.4h0M1730.9 545.9h0M1573 1119.6h0M1583.4 440.3h0M1494.1 356.7h0M1731.3 594.8h0M1419.6 534.6h0M1522.1 606.8h0M1549 374.9h0M1330.8 665.6h0M1713 487h0M1634.7 523.9h0M1565.2 551.7h0M1596.5 604.4h0M1571.1 627.2h0M1545 536.6h0M1764.4 558h0M1601.3 505.6h0M1534.1 908.3h0M1712.5 564.8h0M1412.3 741.2h0M1591.8 1025.9h0M1568.1 489.4h0M1587.1 1123.6h0M1570.1 936.5h0M1582.4 543.7h0M1529.4 347.7h0M1655.2 937.7h0M1498.5 570.2h0M1663.6 509.2h0M1590.6 932.4h0M1595.8 614.3h0"/>
<path stroke="#9e2f7f" d="M1343 313.8h0M1260.8 554.4h0M855.9 711.4h0M944.1 490.8h0M1094.1 502.5h0M1417.5 1001.7h0M870.4 853.2h0M1561.6 1136.8h0M1342.6 310.2h0M1023.8 355.6h0M852.2 699h0M459.4 592.9h0M1094 331.2h0M475.8 626.9h0M923.3 518h0M1561.6 1128.5h0M990.6 709.2h0M1394.2 245.8h0M1026.6 663.9h0M1037.6 396.5h0M426.2 622.8h0M509.2 678.7h0M971.1 588.2h0M1024 990.6h0M469.6 693.8h0M1341.4 1227.2h0M1122.6 485.7h0M521.3 646.3h0M1164.3 702.7h0M1079.5 367.1h0M438.4 629.5h0M1033 798.1h0"/>
<path stroke="#fde3a5" d="M1682.4 462.2h0M1554.7 743.5h0M1706.6 680.2h0M1779.3 689.6h0"/>
<path stroke="#651a80" d="M1051.5 333h0M1206.6 1141.1h0M1350.9 926.7h0M1048.5 530.1h0M847.7 697.8h0M1219.3 1131.7h0M1299.2 1229.1h0M996.8 489.3h0M1069.8 332.5h0M912.5 705.1h0"/>
<path stroke="#d9466b" d="M1513.5 356.4h0M1468.2 1167.7h0M1395.5 1215.8h0M938.1 917.1h0M907.3 837.8h0M990.9 995.9h0M1512.9 1120.5h0M1325.3 467.5h0M1665 936h0M1046.3 847.1h0M556.9 788.1h0M1630.7 923.3h0M1676.9 886.2h0M1345.5 589.7h0M1644.2 940h0M824.3 719h0M1654.7 961.2h0M1225.8 667.8h0M1516.7 1030.2h0M1163.4 529h0M1579.6 945.2h0M1343.1 982h0M1166 451.5h0M1017.5 936.6h0M1062.3 314h0M1495.1 1010.4h0M912.4 828.9h0M1506.2 1053.3h0M1538.1 1133.1h0M996.5 576.8h0M575.3 677.9h0M1367.9 304.4h0M1116.5 578.9h0M1224.7 437.8h0M1587.2 1060h0M958.2 945.2h0M931.9 742h0M957.6 928.9h0M1099.8 697.1h0M1528.4 1149.4h0M334.9 680.7h0M1223.3 383.8h0M1404.4 355.6h0M1334.7 597.4h0M1218.8 768.2h0M1762.5 696.5h0M1494.9 864.1h0M1245.9 457h0"/>
<path stroke="#e55064" d="M626.5 770h0M1414.7 578.9h0M1014.9 757.3h0M986.9 500h0M1334.1 454.8h0M1338.4 584.1h0M927.8 827.2h0M1634.5 951.5h0M1486.7 1142.8h0M1143.7 719.3h0M1646.9 862.1h0M1472 349.9h0M689 711h0M985.3 743.9h0M1578.1 975.5h0M1210.2 496.6h0M1165.1 440h0M975 745.9h0M1307.1 497.7h0M1556 931h0M1442.7 318.7h0M331.2 693.7h0M1290.4 527.8h0M1319.5 505.8h0M1417.7 1104.2h0M1206.5 731.8h0M1262.1 386.6h0M628.3 756.5h0M1010.6 694.5h0M1330.8 596.7h0M1264.3 402h0M1480.6 912.8h0M537 770.7h0M1363.9 250.5h0M1110.4 514.8h0M1103.7 341.6h0M1446.5 339h0M1219.6 691h0M1556.4 382.2h0M1018 883h0M1282.7 473.3h0M1371.1 259.1h0M1130.5 504.3h0M1122.4 884.8h0M1053.7 556.4h0M1516.4 885.4h0M1591 1019.3h0M1264.5 440.8h0"/>
<path stroke="#fcf4b6" d="M1767.9 722.1h0"/>
<path stroke="#1c1044" d="M997.4 485.8h0M1220 1066.7h0"/>
<path stroke="#fa7d5e" d="M1496.7 622.7h0M1173.3 711.5h0M1526.3 969.4h0M1387.4 503.5h0M1372 586.4h0M1441.2 489.6h0M1397.5 522.7h0M1765.5 709.5h0M1556.5 494.1h0M1430.3 506.8h0M1074.9 875.8h0M1506.3 966.5h0M1491.6 1133.8h0M1535.4 971.2h0M633.9 767.5h0M1663.1 467.6h0M1427 500.2h0M1487.2 1152.8h0M1542.6 981.3h0M1031 956.6h0M1572.8 601h0M1542.7 520.6h0M1627.2 595.1h0M1310.6 535h0M1500.5 601.3h0M1511.5 1170.4h0M1533.7 567.7h0M1497.1 1090.7h0M1754.6 598.7h0M1456.4 560.6h0M1436 272.2h0M1428.7 485.5h0M1434.5 596.5h0M1349.8 571.4h0M1317 701.9h0M1744.3 551.8h0M1452.6 330.7h0M1158.9 808.5h0M1501.9 523.1h0M1626.5 1073.6h0M1539.2 1108.6h0M1608.3 828.9h0M1253.4 684h0M1349.9 685.4h0M1328.3 539.5h0M1333.1 676.9h0M1629.3 580.6h0M1308.8 708h0M1565.8 492.1h0M1587.1 1022.7h0M1562.2 580.3h0M1499.1 1020.9h0M1322.3 549.3h0M1591.8 877.6h0M1628.5 890.7h0M1487.5 593h0M1591.6 528h0M1227.3 688.9h0"/>
<path stroke="#ad347c" d="M1385.2 1226.1h0M1201.1 989.6h0M1167.1 730.1h0M391.5 623.4h0M1371.6 1016.2h0M1447.6 855h0M1163.1 695.3h0M862.6 896.8h0M526.2 630.8h0M1418.6 1153.9h0M1365.2 946.6h0M1087.2 537.9h0M1160.1 442.3h0M1004.1 587.9h0M1580 1112.5h0M1384.3 1143.2h0M1356.7 256.4h0M1452.3 334.8h0M1206.4 666.6h0M1296 951.2h0M1183.1 925.1h0M973.3 838.9h0M1106 323.2h0M1049.8 573.1h0M439.6 681.6h0M1258.7 1001.5h0M1281 917.1h0M422.7 663.9h0M1494.8 1138.3h0M1123.9 438.2h0"/>
<path stroke="#fc8e64" d="M1660.9 532.7h0M1554.5 443.2h0M1724.9 515.7h0M1237.4 581.6h0M1249.9 587.3h0M1466.5 664.5h0M1716.6 600.7h0M1295.4 719.9h0M1430 565.1h0M1325.5 701.4h0M1556.3 793.8h0M1653.9 586.3h0M1649.3 1022.2h0M1673.1 564.2h0M1548.9 467.8h0M1448 533.3h0M1406.4 463.8h0M1734.7 524.5h0M1499.4 354.3h0M1371.9 546.2h0M1526.1 937.7h0M1611 511.7h0M1585.6 607.6h0M1511.1 596h0M1363.5 692.8h0M1629.4 437.1h0M1590.1 470.5h0M1680.8 628.1h0M1605.6 498.3h0M1551.7 492.3h0M1435.5 471.6h0M1531.1 462.7h0M1599.9 540.4h0M1450.2 296.3h0M1541.7 743.4h0M1598.6 615.8h0M1504.6 999.8h0M1728 495.8h0M1527.9 931.2h0M1457.4 564.1h0M1607.7 834.9h0M1675.5 475.3h0M1477.9 465.9h0M1706.2 492.9h0M1489.5 374.2h0M301.9 709.9h0M1604.4 599.6h0M1680.2 480.2h0M1571.9 855h0M1734.1 504.7h0M1610.6 487.9h0M1451.6 571.6h0M1598.2 451.8h0M1698.7 489.1h0M1464 674h0M1184.2 702.9h0M1642.1 881.1h0M1396.7 741.3h0M1358.7 545.9h0M1600.8 490.8h0M1748.6 571.2h0M1647.5 506h0"/>
<path stroke="#29115a" d="M1215.8 1109.6h0M1214.3 1136.6h0M1205.8 1159h0M1337.3 925h0"/>
<path stroke="#fec287" d="M1624.1 713.4h0M1645.7 956.3h0M1592.2 487.9h0M1627.1 948.8h0M1501.5 351.2h0M1764.4 717.6h0M1703.3 534.5h0M1526.6 344.2h0M1642.7 633.7h0M1715.7 558.4h0M1570 970.2h0M1732.5 748.8h0M1524.5 396.5h0M1712.6 561.7h0M1451.7 586.1h0M1738.5 524.2h0M1644.1 528.1h0M1702.3 609.9h0M1725.2 492.7h0"/>
<path stroke="#57157e" d="M1324.4 957h0M1316 1223.8h0M983.5 427.5h0M1186 1109.9h0"/>
<path stroke="#812581" d="M1037.6 484.6h0M1003.9 386.3h0M1045.1 353.7h0M1004.8 447.1h0M1118.9 513h0M970.2 420h0M644 686h0M989.6 653.2h0M1009.2 419.1h0M994.4 654.8h0M865.2 907.3h0M1162.3 924.1h0M1010.3 381.7h0M1341 1218.4h0M995.3 752.8h0M1309 1230h0M1010.2 732h0M1299 917.2h0M892.9 925.3h0"/>
<path stroke="#ef5d5e" d="M1504.1 941h0M1507.4 1015.6h0M1586.7 875.2h0M1623.5 901.7h0M943.7 875h0M1545 1049.5h0M820.4 711.8h0M1308.7 509.1h0M1739.6 651.7h0M1545.6 505.7h0M1122.7 509.6h0M932.7 496.2h0M1447.3 880.5h0M1605 1064.1h0M1435 511.5h0M1509.4 985.3h0M907 856.7h0M1395.8 508.4h0M550.5 785.9h0M1488.6 334.5h0M1436 761h0M1363.6 596h0M1572.8 957.4h0M1418.9 655.7h0M1310.3 514.2h0M1035.3 866h0M1565.9 482.9h0M1124.8 332.7h0M1024.6 1002.4h0M1513.3 927h0M1108.3 661.5h0M1404.7 902.7h0M1066.1 891.4h0M1169.9 370.3h0M1174.4 708h0M1385.3 675.8h0M1540.4 1148.8h0M1068.5 853.9h0M1426.1 581.7h0M1566.3 928.6h0M1608.3 1054.2h0M1241.5 406.1h0M1535.9 1092.4h0M1158.9 846.9h0M1003.2 858h0M1506.9 533.8h0M1435.6 508.3h0"/>
<path stroke="#07061c" d="M1208 1015.8h0"/>
<path stroke="#feb078" d="M1695.5 673.2h0M1590.3 1061.8h0M1687 624.2h0M1667.6 477.5h0M1654.6 1058.9h0M1694.7 490.2h0M1713.3 697.1h0M1595.7 536h0M1459.8 612.4h0M1594.7 545h0M1621.1 875.7h0M1704.5 559.1h0M1636.4 946.1h0M1619.4 1015.1h0M1688.1 571.3h0M1595.3 443.2h0M1656.5 886.3h0M1390.9 665.9h0M1407.3 738.6h0M1725.9 479.3h0M1668.3 643.7h0M1611.4 498.4h0M1543.8 512.5h0M1608.9 507.6h0M1708.1 528.2h0M1670.2 524.9h0M1628.8 529.3h0M1670 584.4h0M1556.1 534.7h0M1524.6 513h0M1642.9 590.7h0M1724 602.1h0M1654.3 514.5h0M1558.6 663.8h0M1618.4 506.7h0"/>
<path stroke="#bd3977" d="M1104.4 338.7h0M1251.2 492h0M1027 567.7h0M1406.9 977.5h0M982.8 484.1h0M970 507.8h0M1035.4 500.2h0M1157.5 738.7h0M937.7 514h0M1359.5 961.2h0M1479.3 1168.2h0M1581.1 869.4h0M1033.6 475.2h0M1146.6 629h0M1192.3 721.3h0M954.6 831.9h0M1465.5 954.3h0M1316.2 984.5h0M857.2 872.2h0M1413.9 1082.8h0M1287.6 938.6h0M800.1 733.3h0M1203.9 385.5h0M1207.3 1138.7h0M833.7 848h0M1283.4 289.9h0M1024.1 412.1h0M1177.9 575.5h0M1016.6 733.2h0M1431.1 973.2h0M1638 951.8h0M590.5 763.4h0M432.4 600h0M1088.8 377.5h0"/>
<path stroke="#f66c5c" d="M1133.5 889.3h0M1355.9 499.5h0M1339.4 690.9h0M1487.1 376.2h0M1354.1 486.2h0M1539.1 928.5h0M1360.3 512.6h0M1321.9 492.3h0M1411 655.6h0M1116.4 324.9h0M1611.3 474.2h0M1413.1 569.9h0M1649.2 492.1h0M1471.4 611.2h0M1484.2 1083h0M1497.7 996.8h0M1732.1 570.8h0M1551.6 962.5h0M1572.5 944.1h0M1418.5 588.4h0M1503.4 1040.7h0M1658.6 855h0M1447.3 933.6h0M1474.3 1166.3h0M1466.5 876.7h0M1407.7 599h0M1344.1 606.8h0M1646.6 930.5h0M1664.3 1010.6h0M1167.9 557h0M1332.4 672.4h0M1070.8 596.5h0M1507.9 589.5h0M1617.9 485.6h0M1356.8 532.8h0M1664.9 885.1h0M1619.1 885.4h0M1534.1 589.2h0M1463.4 624.7h0M1553.3 468.4h0M1553.1 905.8h0M1473.1 545.2h0M1353.3 591.4h0M1656.4 881.9h0M1416.8 491h0M1563.7 611.6h0M1343.6 705.5h0M1554.9 1021.6h0M1293.9 702.9h0M1328.8 529.7h0M1424.5 476.7h0M1527.1 963.9h0M1033.3 937.5h0M1644.9 982.2h0M1407.2 593.4h0M1425.2 584.9h0M1487.9 580.7h0"/>
<path stroke="#902a81" d="M1077.6 694.6h0M1082.2 402h0M1037.7 401h0M1412.4 241.4h0M430.9 619.4h0M824.9 845.9h0M1404.5 1125.4h0M437.8 600.5h0M1106.4 681.7h0M474.7 695.8h0M1115.7 477.9h0M1461.5 1160.1h0M1241.6 973.2h0M954.9 939.8h0"/>
<path stroke="#020109" d="M925.5 852.2h0M1318 1170.7h0M1404.7 1156h0M1428.7 1132h0M1268.7 1220h0M1366 1083.5h0M1354 906.7h0"/>
<path stroke="#491078" d="M1207.5 948.2h0M1200.3 960.6h0M1014.3 416.2h0M1202.9 1019.5h0M1195.8 1109.8h0M834.4 881.6h0"/>
<path stroke="#cc3f71" d="M1351.1 674h0M1367.5 1226.8h0M813.5 706.8h0M1144.1 674.2h0M1382 992.2h0M1423.7 569.9h0M1531.6 1116.2h0M1000.5 992.4h0M1424.1 1040h0M1063.9 571.3h0M971.2 861h0M1112.6 342.8h0M1150.4 526.1h0M1014 799.8h0M1369.1 964.9h0M1400.8 1166.5h0M1427.2 1172.9h0M507.6 643.6h0M1441 1134.3h0M1124 665h0M1056.9 861.4h0M312.5 689.1h0M836.5 728.4h0M975.8 927.9h0M1357.6 978.7h0M1525.5 886.6h0M1154.7 401.1h0M1460.3 901.3h0M927.7 902.7h0M952.9 764.3h0M1495.4 1060.5h0M860.2 876.9h0M1673 901.5h0M1352.8 1038.6h0M988.5 961.5h0M1473.3 327h0M1112 691.6h0M927 813.3h0M1077.5 501.7h0M383.4 697.3h0M1608.4 867h0M1517.1 331.7h0M945.6 932.1h0M1352.1 940.8h0M1085.9 533.1h0M1037.7 852.5h0M1482.3 647.6h0M1435.2 263.1h0M1415.4 971.8h0M1017.2 895h0M1228.2 461h0"/>
<path stroke="#fed395" d="M1701.8 583.1h0M1784.3 723.7h0M1595.3 554.3h0M1711.8 674.3h0M1742.8 522.8h0M1758.7 731.7h0M1585 424.3h0"/>
<path stroke="#732081" d="M1351.9 263.5h0M846.8 691.5h0M531.7 755.9h0M1347.8 990.9h0M413 639.5h0M907.3 851.6h0M500 656.7h0M1145 493.7h0M554.7 652.6h0M1041.8 495.3h0M992.3 393.9h0"/>
<path stroke="#fe9f6d" d="M1436.9 493.3h0M1618.6 1055.8h0M1656.7 625.6h0M1534.5 543.5h0M1682.9 539.2h0M1470.9 560.6h0M1722.4 678.2h0M1417.9 728.6h0M1556.3 951.8h0M1624.3 577.8h0M1718.1 540.1h0M1669.9 568.7h0M1481.3 470.3h0M1683.6 521.4h0M1599.5 518.5h0M1666.9 1063.4h0M1647.4 575.2h0M1517.3 1008.9h0M1670.6 700.8h0M1568.4 642.6h0M1420.2 461.8h0M1551.1 647.7h0M1348.8 646.8h0M1413.9 506.7h0M1467.7 553.9h0M1647.8 600.5h0M588.6 800.7h0M1565 524.6h0M1623 594.4h0M1758 567.1h0M1646.9 614.5h0M1429 663.5h0M1454.7 861.2h0M1703.5 537.6h0M1660.8 578.8h0M1502.3 846.6h0M1548.2 900.1h0M1660.8 510.7h0M1560.3 488.3h0M1552.6 500.2h0M1341.2 646.8h0M1601 527.5h0M1197.5 692.3h0M1497.2 373.9h0M1550.1 614.3h0M1684 507.7h0"/>
<path stroke="#29115a" d="M1333.8 1230.6h0M1340 1186h0M1219.2 975h0M1257.9 973.1h0"/>
<path stroke="#feb078" d="M1737.5 733.5h0M1546.2 456h0M584.9 793.6h0M1636.8 586.6h0M1555.9 431.3h0M1624.6 441.8h0M1534.5 1113.5h0M1752.7 710.6h0M1584.4 1110.2h0M1559.2 520.7h0M1617.5 830.4h0M1519.4 489.7h0M1519 532.5h0M1761.9 727.2h0M1503.3 622.2h0M1621.3 414.3h0M1774.1 715.7h0M1649.1 620.2h0M1527.8 679.6h0M1608 637.1h0M1503.3 452.3h0M1640.5 704.5h0M1692.3 720h0M1501.4 469.4h0M1556.1 1035h0M1503 893.1h0"/>
<path stroke="#fa7d5e" d="M1410.7 508h0M1470.9 658.5h0M1384.7 607.8h0M750.7 738h0M1435.5 535.5h0M656 726.5h0M1719.8 721.9h0M1445.2 489h0M1508.7 549.1h0M1209 583.4h0M1457.4 358h0M1421.5 542.2h0M1304.3 717.6h0M1570.6 472.6h0M1391.4 618.2h0M1737.1 505.5h0M1490.8 471.9h0M1213.9 506.1h0M1687.2 498.4h0M1458.9 616.2h0M1176.7 765.8h0M1394.7 584.8h0M1293.3 531.4h0M1518.4 952.9h0M1404.2 634h0M1336 681.2h0M1310.2 553.1h0M1468.3 365.2h0M1433.2 663.3h0M1711.5 491.6h0M1307.6 712.6h0M1358.9 492.2h0M1471.2 556.7h0M1557.9 587.2h0M1459 1007.1h0M1518.7 334.7h0M1538.5 591h0M598.6 701.1h0M1579.7 566.8h0M1445.2 529.3h0M1550.1 916.8h0M1626.7 982.6h0M1495.3 440.3h0M1393.9 549.1h0M1730.1 588h0M1587.9 979.5h0M1586.5 1018.8h0M1488.8 629.6h0M1536 895.9h0M1507 594.9h0M1732.2 735.1h0M1539.8 875.4h0M1442.7 483.1h0M1661.8 1065.4h0M1514.7 583.2h0M1566.6 403.1h0M1392.2 498.6h0M1540.1 429.4h0M1441.8 299.1h0M1473.7 580.4h0M1380 577h0M1653.8 477.2h0M1648.4 623.1h0M1342.7 388.7h0M1512.1 556.8h0M1672.1 871.7h0M1551.5 637.7h0M1436.4 569.2h0M1707.3 505.6h0M1254.8 755.6h0"/>
<path stroke="#ef5d5e" d="M1138.9 701.4h0M1177.7 464.9h0M1644.9 950.6h0M1532.7 932.9h0M1389.9 983.1h0M1421 502h0M1626.3 456.1h0M1217.1 513.4h0M1021.8 814.4h0M1078.7 921.9h0M1184.9 496h0M1461.4 1139.2h0M1020.5 828.1h0M1632.4 1054.6h0M1437.7 1167.7h0M1632.8 615.3h0M1436.5 1126.1h0M1591.9 973.6h0M1617.8 903.7h0M1556.1 449.2h0M1434.5 302.4h0M1494 925.3h0M1070.3 910.9h0M1524.9 986.3h0M1138.1 603.5h0M1381.9 475.3h0M1417.7 454.8h0M1505.1 878.6h0M1408.2 451h0M1563.9 500.3h0M1022.7 774.1h0M1568.7 1072.3h0M362.4 670.8h0M1595.6 929.3h0M1510.1 1054.1h0M833.8 742.8h0M1286.7 481.7h0M1526.7 875.4h0M1570.2 891.8h0M1094.1 511.3h0M1032.9 733.5h0M1409.2 458.4h0M1514 385.9h0M557.1 763.9h0M1182 371.1h0M1523.2 1089.6h0M1147.2 355.3h0M1473.7 600.5h0M1616 738h0"/>
<path stroke="#390f6e" d="M1178.5 972.2h0M1097.6 370.8h0M1188.3 1114.1h0M1223.4 991.1h0M1213.4 1124.9h0"/>
<path stroke="#e55064" d="M1352.4 599h0M907.8 826.7h0M1417.6 627.2h0M1468.4 1132.4h0M1037.1 805.6h0M1506.8 1123.7h0M1600.4 936.4h0M1581.1 1094.5h0M1398.8 325.1h0M1555.1 920.7h0M1081.9 683.8h0M1087.3 824.5h0M561.9 740.6h0M1027.3 540.4h0M1134.1 322.7h0M1663.6 921.6h0M1048.9 519.4h0M1479.5 1043h0M1161.9 353h0M1269.2 571.2h0M1123.7 710.1h0M1438.4 641.9h0M885.5 916.4h0M553.2 783.6h0M1262.4 538.7h0M1400.2 315.7h0M1572.4 952.7h0M1142.5 706.1h0M1140.4 348.6h0M1324.9 529.5h0M1597.8 945.7h0M1432.6 320.1h0M1765.6 678.9h0M1533.1 925h0M1439.5 326.4h0M611.6 768.7h0M1292.5 451h0M996.4 900.3h0M930.6 536.2h0M1286.2 298.8h0M1314.3 303.5h0M1224.6 586.2h0M927.1 831.9h0M914.1 810.5h0M1169.3 395.9h0M1275.3 685.9h0"/>
<path stroke="#110c2f" d="M1349 241.5h0"/>
<path stroke="#bd3977" d="M537.4 643.3h0M1141.3 594.8h0M902.8 827.4h0M1126.2 527.5h0M1295.4 318.3h0M817.2 793.2h0M1120.2 332.3h0M1219.4 958.5h0M1336 969h0M1118 391.2h0M1048.7 388.7h0M921.6 841.1h0M880.8 852.8h0M1363.2 238.6h0M1057.7 388.6h0M1144.3 417.1h0M1338.8 970.2h0M1054.6 568.2h0M1444.5 1110h0M1178.8 458.8h0M1001.1 518.8h0M1010.1 849.4h0M993.5 710.7h0M912.7 733.7h0M390.2 618.7h0M1124.8 674h0M1178.4 408.4h0M818.7 752.6h0M1388.7 1137.6h0M1448.1 1110.2h0M843.9 736.5h0M1419.8 890.6h0M1011.9 572.6h0M1472 1195.3h0M1496 1013.3h0M1174.1 371h0M1340.5 948.8h0M1370.4 254.4h0M1091.8 307.4h0M1084.4 672.3h0M1414.6 323.2h0M1449.8 893.3h0"/>
<path stroke="#732081" d="M1011.3 392.3h0M864.9 685.7h0M448.9 624.2h0M843.8 869.4h0M405.3 615.1h0M866.7 644.1h0M1258.1 953.7h0M1347.7 962.4h0M1031.7 834.9h0M988.8 621.5h0M1014.6 990.3h0M1395.1 1175.6h0"/>
<path stroke="#07061c" d="M1402 982.7h0M1308.7 960h0M1229.7 955.1h0"/>
<path stroke="#902a81" d="M1381.1 1215.7h0M1000.2 497.1h0M1079 640.1h0M1378.7 1229.8h0M1013.9 675.6h0M815.2 778.8h0M1396.4 1153.5h0M1422.7 1005.9h0M1525.7 1041.6h0M1384.5 1078.5h0M1422.3 1146h0M1064.2 419.4h0M956.3 724.2h0M422.5 585h0M1249.4 498.2h0M961.8 793.6h0M1007.8 496.7h0M1161.9 958h0M995.7 872.3h0M1087.3 341.6h0M982.6 776.5h0M977.9 509.2h0M1121.8 360.7h0M940.4 784.9h0M538.3 698.5h0M1372.8 1187.6h0M991.5 628h0M1395.4 1205.8h0M544 678.4h0M1387.6 1166.3h0M1232.5 963.3h0"/>
<path stroke="#57157e" d="M845.3 753.4h0M1008.7 390.8h0M1002.1 521.9h0M932.8 531.7h0M982.6 716.8h0M426.5 601.9h0"/>
<path stroke="#fed395" d="M1743.1 690.9h0M1509.7 760.4h0M1652.9 543.6h0M1607.5 448.9h0M1739.8 698.3h0"/>
<path stroke="#f66c5c" d="M1487.3 646h0M1172.2 340.7h0M1504.3 543h0M1668.8 870.6h0M1267.3 1198.7h0M1510.6 365.9h0M1410.6 568.1h0M1438.8 469.2h0M1526.4 1004.6h0M1130 868h0M1415.3 335h0M1503.5 554.7h0M1023.2 853.3h0M1499.1 917.4h0M1407.6 1093.9h0M1148 375.9h0M1541.9 929.8h0M1587 1039.1h0M1447.8 1134.6h0M1353.1 578.9h0M1508.8 1073.5h0M1459.8 369.9h0M1260.6 773.4h0M1439.4 573.7h0M1444.5 302.3h0M1483.8 620.3h0M1362.8 575.8h0M1254.3 402.6h0M1322.4 508.9h0M1506.5 655.3h0M1561.4 411.1h0M1568.6 570.7h0M1260.2 725.2h0M1376.4 570.5h0M1450.6 551.2h0M1436.3 636.3h0M1359.9 603.1h0M1377.7 595.7h0M1555.9 945.4h0M1465.9 584.6h0M1355.1 519.1h0M1610.6 997h0M1489.9 583.2h0M1357 386h0M1129.1 652.5h0M1503 463.9h0M1448.7 579.5h0M1278.8 466.2h0M1419.2 484.5h0M1456.1 642.8h0M1580.9 437.5h0M1289.9 459h0M1059.5 841.9h0M1212.3 454.4h0M1535.9 1016.8h0M1194 380.8h0M986.8 957.8h0M1530.1 368.2h0M1614.2 891.9h0M1347.9 491.1h0M1498.6 524.8h0M1708 772h0"/>
<path stroke="#ad347c" d="M884.4 887h0M1099.5 736.2h0M1068 350.4h0M1308.7 1161.3h0M584.2 684.9h0M854.1 853.7h0M1175.8 953.2h0M1223.6 986.1h0M489.4 661.9h0M1003.8 575.8h0M1233 718.5h0M1214.5 968.2h0M1065.2 730.1h0M1326.1 967.5h0M1084.7 654.8h0M1047.7 942.9h0M1019.7 496.3h0M390.5 615.6h0M416.1 594.1h0M901 774.7h0M1397.1 1143.8h0M922 837.3h0M889.5 839.5h0M978.2 967h0M1149.9 337.3h0M1516 916.4h0M1493.3 1093h0M1426.9 924.9h0M595.7 684.1h0M960.8 495h0M1142.3 426.6h0M1425.6 1157.4h0M1019.3 679.2h0M840.5 853.3h0M1069.2 568.6h0M381.5 682.1h0M1510.1 1154h0M1448.1 1139.1h0M1456 347.3h0"/>
<path stroke="#491078" d="M1206.1 1111.6h0M1236.3 965.3h0M1293.2 936.2h0"/>
<path stroke="#651a80" d="M1022.4 681.6h0M1070.7 427.5h0M1439.2 1108h0M1159.5 944.9h0M978.1 421.3h0M1035 509.8h0M481.8 659.5h0"/>
<path stroke="#cc3f71" d="M1036.9 823.6h0M1052.6 687.8h0M821.3 838.6h0M1144.1 568.3h0M1389.7 328.6h0M1056.7 920.7h0M1099.7 527.1h0M1190.5 513.3h0M1354.1 918.2h0M1469.7 1147.8h0M1365.7 961.2h0M1119.9 712.5h0M894.6 791.7h0M1087.9 900.1h0M1028.4 805.3h0M939.6 924.1h0M1172.5 365.8h0M932.4 826.4h0M1023.6 891.1h0M813.4 773.5h0M998.9 855.9h0M568 740.3h0M1064.1 411.4h0M1268.3 621.4h0M1121.5 378.5h0M1462.3 1121.5h0M1423.5 241.6h0M358.1 686h0M1423.7 957.4h0M1018.5 834.2h0M1132.4 627.7h0M1140.7 579.8h0M1085.2 713.3h0M1142.1 670h0M1081.5 895.2h0M1570.8 813.2h0M1493.6 1029.1h0M1040.2 664.9h0M1083 888.8h0M1006.4 545.2h0M1572 1019.5h0"/>
<path stroke="#d9466b" d="M1449.6 1068.5h0M1086.3 547.7h0M826.7 614.5h0M1121.6 615.6h0M1366.9 474.6h0M1596.8 954.1h0M1075.6 568.1h0M1495.5 1134.5h0M381.2 641.1h0M547.4 761.4h0M1035.2 561.1h0M1253.1 735.8h0M1480.8 1112.6h0M1101.4 549.5h0M1518.9 1133h0M887.1 907.7h0M524.9 790.7h0M1182 474.6h0M1500 967.3h0M1050.7 706.2h0M935.6 740.3h0M969.9 837.7h0M829.6 730.7h0M922.9 793.4h0M1449.7 899.1h0M661.5 694.3h0M1347.2 520.9h0M968.2 774.9h0M1579.1 1106.6h0M1015.1 535.3h0M982.4 592.1h0M1147.3 508.7h0M1026 492.4h0M1036.7 732.4h0M1296.4 528.4h0M1566.5 949.3h0M1445 1198.9h0M1399.7 259.1h0"/>
<path stroke="#9e2f7f" d="M539 694.8h0M1064.7 393.8h0M1107 540.6h0M1078.1 526.4h0M1388.4 254.8h0M471.6 634.6h0M1219.9 422.3h0M991.9 510.9h0M952.1 792.9h0M984.3 508.9h0M887.8 897.5h0M1080.6 474.1h0M1411.1 1187.4h0M1384.4 1210.8h0M1353.3 258h0M991 874h0M1021.2 540h0M966.5 727.5h0M1076.6 362h0M1068.6 581.9h0M1060 535.9h0"/>
<path stroke="#fc8e64" d="M1695 517.6h0M1464.9 608h0M1610.2 504.5h0M1542 650.1h0M1515.4 462.8h0M1534.3 655h0M1412.3 731.3h0M1636.5 539.2h0M1544 533h0M1539.4 1027h0M1514.6 511.1h0M1461 524.9h0M1607.2 601.7h0M1745.7 730.8h0M1537.6 557.4h0M1733.8 587.2h0M1686.6 648.7h0M1663.1 583.8h0M1468 532.1h0M1537.1 504.8h0M1438.5 335.3h0M1645.3 1069.5h0M1490.1 622.3h0M1445.7 537.2h0M1552.5 402.8h0M1461.5 1015.5h0M1497 603.6h0M1421.7 586h0M1660.3 961.3h0M1211.6 733.3h0M1496.9 537.4h0M1744.9 736.9h0M1583.5 588.2h0M1267.2 418.2h0M1507.6 384.6h0M1499 545.8h0M1598.8 515.6h0M1452.7 633h0M1576.9 610.9h0M1602.8 1048.4h0M1743.9 496h0M1326.8 678.5h0M1636.8 557.9h0M1537.9 1040.5h0M1497 388.3h0M1568.2 517.4h0M1650.7 562.7h0M1548.2 470.8h0M1443.1 645.6h0M1555.8 823.6h0M1677.5 529.6h0M1411.8 624h0M1406.6 620.5h0M1487.1 480h0M1367.1 589.5h0M1495 521.9h0M1581.2 594.3h0M1523.1 908.5h0M1662 564.8h0M1452.7 472.8h0M1501.6 1034.1h0M1559.2 473h0M1473.4 365.7h0M1564.1 1051h0M1704.3 710.6h0M603.1 750.9h0"/>
<path stroke="#fe9f6d" d="M1725.2 557h0M1665 540.8h0M1448.1 631.5h0M1392.4 735.8h0M1658.3 592.3h0M1480.9 921.6h0M1541.5 550.1h0M1625.4 568h0M1601.7 509h0M1521.5 510h0M1608.4 555.6h0M1419.8 490.7h0M1650.3 841.1h0M1486.3 544.9h0M1615.1 443.6h0M1663.1 559.3h0M1680.6 601.6h0M1573.3 480.7h0M1611.2 580.6h0M1248.3 469.3h0M1641.1 597.6h0M1638.8 488h0M1430.1 639.4h0M1630.2 495.6h0M1617.3 495.4h0M1736.1 579.5h0M1565.9 1122.3h0M1598.9 543.2h0M1219.6 709.7h0M1705.3 564.1h0M1490.5 545.5h0M1634.3 1016.4h0M1694.5 544h0M1713.7 520.5h0M1603.5 1021.5h0M1555.5 1073.8h0M1729.5 528.2h0M1408.8 680.3h0M1642.2 636.7h0M1624.3 489.9h0M1576.9 859.6h0M1643.6 490.4h0M1681.2 596.4h0M1613.4 699.5h0M1295.6 563.2h0"/>
<path stroke="#fde3a5" d="M1747.2 727.3h0M1771.3 692.6h0"/>
<path stroke="#fec287" d="M1626.3 520.3h0M1617.8 627.1h0M1698.1 561.1h0M1682.9 586.8h0M1581.3 1009.9h0M1528.6 486.7h0M1548.9 385.2h0M1721.7 693.1h0M1727.9 738.3h0M1560.8 959.8h0M1571.9 410.6h0M1555.2 718.3h0M1641.7 622.7h0M1538.8 398.9h0M1640.4 700.2h0M1310.8 678.2h0M1734.5 546.3h0M1658.7 598.9h0"/>
<path stroke="#812581" d="M996.6 413.2h0M1135.3 410.7h0M946.4 507.3h0M913.8 825.5h0M1555.6 1147.8h0M1063.2 818h0M1147.6 362.6h0M1312.5 984.5h0M1095 565.2h0M1113.9 681.8h0M984.4 732.9h0M890.5 769.4h0"/>
<path stroke="#020109" d="M1299.3 1168h0M1314 275h0M1218 1094.7h0"/>
<path stroke="#d9466b" d="M1535.3 1003.6h0M1022.3 576.4h0M1416.8 1131.7h0M1387.6 964.9h0M1020.3 1003.5h0M1521.8 960.9h0M1170.5 356.3h0M1127.3 428.8h0M1014 517.1h0M833.9 721.6h0M1345.9 949.7h0M1254.7 776.5h0M1467.8 1190h0M1253.3 725.6h0M1066.7 917.9h0M1102.8 432.8h0M1552.2 947.6h0M1157.3 546.5h0M548.6 753.7h0M1359.4 1253.6h0M1025.4 598.7h0M1065.5 315.6h0M1457.4 342.3h0M1247.4 820.3h0M1425.6 1068.9h0M1605 836.8h0M1599.8 1114.9h0M793.3 722h0M1379.5 964.2h0M986.9 758.8h0M1371.4 978.2h0M1574.9 1089.9h0M1117 779.3h0M995 727.1h0M1148.5 674.9h0M1331.9 483.5h0M1443 296h0M1179.7 361.8h0M1335.2 610.4h0M1409.5 1014.2h0M1547.3 1145.5h0M1612 929.9h0"/>
<path stroke="#fcf4b6" d="M1746.4 712.4h0M1642.1 707.5h0"/>
<path stroke="#07061c" d="M984.3 407.5h0"/>
<path stroke="#fed395" d="M1356.9 679.9h0M1711 745.3h0"/>
<path stroke="#e55064" d="M1609 716h0M1494.9 1023.2h0M1162.2 715.4h0M1128.5 699.1h0M1516.6 881.5h0M1063.8 711.8h0M1339.9 498.9h0M549.2 772.3h0M1212.3 404.8h0M1229.6 522.6h0M1582.5 937h0M1310.6 538.4h0M1488.6 1018.5h0M1521.9 423.6h0M1262.3 729.2h0M1191.4 518.6h0M1165.6 706.6h0M1301.5 574.7h0M1699.3 639.1h0M1350 475.3h0M1179.1 511.9h0M1367.9 334.8h0M852 844.6h0M1409.9 531.9h0M1556.1 957.9h0M1079.8 309.1h0M1456 1135.5h0M1027.8 590h0M1056.3 868.3h0M1121.8 475.1h0M1309.8 531.2h0M1500.2 921.2h0M1720 765h0M1560.7 1043.5h0M1431.3 265.9h0M1229 671.5h0M1195.9 771.2h0M1261.9 409.8h0M1490.8 928.7h0M1485.6 328.1h0"/>
<path stroke="#9e2f7f" d="M476.9 645.8h0M1280.7 454.2h0M1441.3 1013.1h0M913 686h0M843.9 702.7h0M973.2 711.1h0M807.5 723h0M1385.4 1217h0M950.2 541.3h0M996.5 644.1h0M561.2 676.4h0M1057.8 899.3h0M1389.3 1198.8h0M1242.6 1018.5h0M1034.9 408.8h0M1400.3 1210.3h0M1044.7 349.2h0M960.9 796.7h0M961.7 935h0M1348.6 1202.9h0M1037.9 383.4h0M1121 651.4h0M859.8 681.6h0M1412.9 1158.7h0M818.7 777.9h0M1068.3 704.6h0M1178.8 966.1h0M1272.5 908.5h0M881.2 929.8h0M407.2 588.7h0M1023 485.2h0M401.3 629.2h0M1431.4 1032.6h0M1105.5 348.3h0M565.7 654.3h0"/>
<path stroke="#fa7d5e" d="M1490.3 364.3h0M1371.1 690.8h0M1402.8 620.1h0M1492 1018.9h0M1536.6 843.7h0M1571.2 923.3h0M1584.6 1100.9h0M1640.1 890.5h0M1156.3 840.5h0M1462.5 575.3h0M1584.4 435h0M1584.8 528h0M1407.7 659.4h0M1451 731h0M1484.5 535h0M1216.8 378.8h0M1432.3 471.8h0M1425.3 638.2h0M1444.5 581.9h0M1736.8 530.7h0M1450.9 1019.7h0M1358.9 471.1h0M1368.4 581h0M1730 732.9h0M1416.9 541.4h0M1512.5 899.8h0M1562.4 1097.1h0M1294.4 714.4h0M1471.3 618.7h0M1487.7 1158.8h0M1637.7 446.4h0M1662.8 857.3h0M1556 417.9h0M1469.4 896.5h0M1550.5 1042h0M1504 1007.2h0M1620.5 953.5h0M1482.8 548.9h0M1447.3 502.7h0M1559.8 1033.8h0M1625.3 937.6h0M1649.7 956.4h0M1416.9 598.9h0M1447.8 588.7h0M1364.9 478.7h0M1421.4 494.4h0M1430.7 274.2h0M562.2 790.4h0M1721.4 552.8h0M1631.5 936.5h0M1483.1 332.9h0M1736.8 745.6h0M1377.9 694.7h0M1391.2 625.1h0M1305.5 489.2h0M1241.5 773h0M1616.1 480.9h0M1448.4 619.4h0M1469.4 479.4h0M1384.7 538.3h0M1557.4 567.4h0"/>
<path stroke="#491078" d="M965.4 809.4h0"/>
<path stroke="#1c1044" d="M1214.5 1090.9h0"/>
<path stroke="#732081" d="M1221.4 1027.9h0M1390 1169.1h0M1068.7 575.6h0M537.9 717.5h0M955.6 479.2h0M1361.6 1202.3h0M441.4 588.3h0M1093 619.9h0M994.9 392.2h0"/>
<path stroke="#fec287" d="M1738.6 514.7h0M1717.6 696.9h0M1527.1 608.6h0M1691.2 645.9h0M1675.9 612.8h0M1724.3 611.1h0M1684.6 530.1h0M1737.4 695h0M1620.1 707.4h0M1675 533.4h0M1392.6 728.2h0M1655.4 714.7h0M1517.4 595.3h0M1734.3 674.8h0M1755.9 679.9h0M1550.9 453.1h0M1745 696.9h0M1600.6 874.5h0M1596.1 1087.8h0M1580.3 710.1h0"/>
<path stroke="#57157e" d="M951 716.8h0M991.5 668.5h0M1197.7 1114.9h0M1054.2 345.4h0M1359.4 994.5h0M1007.6 379.6h0M1243.2 1013.2h0M1159.6 960.5h0"/>
<path stroke="#ad347c" d="M1499.4 1164.7h0M926 491.9h0M1365 1079.8h0M1001.3 987.7h0M1086.9 472.7h0M1088.2 512.6h0M1041.2 501.7h0M922.3 772.7h0M1567.6 1114.7h0M1051.6 326.7h0M817.6 845.9h0M1059.6 484.1h0M1353.6 610.7h0M1227.6 596.2h0M1025.3 979.9h0M1086.1 352.1h0M1453.7 968h0M1074.2 444h0M926.3 820.5h0M1092.3 538.1h0M1384.3 294h0M843.9 706h0M408.2 596.8h0M1069.7 697.6h0M1386.8 952h0M1239.3 997.4h0M583.2 752.9h0M1372.5 246.3h0"/>
<path stroke="#390f6e" d="M1327.7 1229.2h0M1398 1108.5h0M989 422.6h0"/>
<path stroke="#cc3f71" d="M1117.9 336h0M1066.9 556.8h0M1635.6 589.4h0M1390.1 958.9h0M1422.8 1124.5h0M1110.5 736.3h0M892.2 832.7h0M1449.7 970.5h0M1390 974.9h0M1435.4 984h0M1464 1196.1h0M1243.2 685h0M1378.5 1209.8h0M893.9 907h0M1324.3 1027h0M479.1 694h0M1137.6 358.8h0M1412 934.5h0M1149.9 659.5h0M1164.5 791h0M1053.7 701.3h0M1441.9 1022.8h0M912.2 771.8h0M1135.4 710.9h0M1187.3 472h0M1044.3 559.1h0M1022.9 556.9h0M1607.5 950.1h0M1041.5 728h0M1140.2 503.1h0M997.9 564.3h0M1561.6 1009.3h0M1003.3 721h0M923.4 512.6h0M1088.9 566.4h0M1399.2 1025.8h0M1122.1 661.2h0M379 659.2h0M1465.6 921.7h0M472.3 661h0M1472.2 1037.2h0M1087.9 487.3h0M1262.6 529.3h0M1270.6 967.9h0M1097.9 396.1h0M991.2 656.5h0M1494.7 1086.9h0M1669.6 1014.4h0"/>
<path stroke="#ef5d5e" d="M581.6 788.4h0M1565.8 387.6h0M1187.6 432h0M1166.2 336.8h0M1339.6 534.9h0M890.9 814.5h0M1144.1 531.6h0M1347 604.1h0M1431.4 515h0M1615.6 895.7h0M1449.2 595.2h0M1641.4 924.4h0M1497.5 923.3h0M884.4 825.6h0M1028.6 811.2h0M1348.7 566.4h0M617.8 780.8h0M1396.7 253.9h0M1660.4 1016.9h0M1519.9 1068h0M1513.7 939.8h0M1216.3 676.8h0M1176.4 552.5h0M1041.8 585.4h0M1396.9 499.9h0M1665.1 1037.8h0M1322.3 594.5h0M1314.7 552h0M1479.2 1005.2h0M1232.4 432.4h0M1241.1 602.6h0M1511.2 458.5h0M1415.2 886.2h0M1542.7 1130.8h0M1041.8 778.9h0M1299.4 663.6h0M1257.9 718.7h0M1121.4 722.1h0M1637.9 1017.7h0M1561 423.5h0M1539.1 1085.4h0M1566.1 1075.7h0M323.7 696.4h0M1535.8 912.1h0M1163 365.6h0M1134.8 319.6h0"/>
<path stroke="#fde3a5" d="M1672.4 712.9h0M1729.7 515.3h0M1730.7 607.3h0M1694 677.6h0M1779.8 725.4h0M1723.2 488.2h0"/>
<path stroke="#902a81" d="M1088 463.5h0M828.4 723.2h0M1277 710h0M1504 948.3h0M1021.5 422.4h0M1395.9 1182.2h0M1102.7 542.3h0M1359.7 921.1h0M974 806.8h0M1070.7 901.5h0M1004.9 740.6h0M1407.9 1167h0M466.7 621.2h0M1343.3 1224h0M1054.1 349.9h0M917.7 796.9h0M1109.2 555.9h0M1263.9 937.3h0M1143.1 431.4h0M994.1 794.7h0M839.6 676.5h0M877.2 838.1h0M1001 410.6h0"/>
<path stroke="#feb078" d="M1614 559h0M1741.6 529.1h0M1696.6 500.9h0M1759.3 705.6h0M1492.9 556.4h0M1482.7 309.1h0M1515.6 408h0M1587.8 862.8h0M1451.5 636.8h0M1747.7 690.1h0M1293.8 656.3h0M1600.8 1099.9h0M1734.1 598.2h0M1764.3 587.9h0M1691.1 592.7h0M1640.5 609.2h0M1705 684h0M1578.9 494.9h0M1632 550h0M1365 682h0M1595.8 460.6h0M1604.8 543.6h0M1605.4 570.9h0M1653.6 610.1h0M1654 530.7h0M1706.4 487.4h0M1685 536.8h0M1521.6 885.6h0M1530 459.8h0"/>
<path stroke="#fc8e64" d="M1456.2 307.7h0M1513.5 429.2h0M1636.6 616.5h0M1168.3 350.8h0M1510.8 618.3h0M1519.4 554h0M1609.1 471.9h0M1563 561.3h0M1346 682.7h0M294.1 705.2h0M1638.3 581.1h0M1552.9 596.3h0M1667.2 995.4h0M1647.4 938.4h0M1453.5 535.8h0M1678.6 949.5h0M1708.1 587.8h0M1358.1 476.4h0M1414.1 655.9h0M1592.3 550.5h0M1373.1 477h0M1653.1 1053.1h0M1656.6 565.4h0M1560.8 513.3h0M1463.7 616.7h0M1519.7 927.4h0M1466.8 455.5h0M1401.7 498h0M1462.6 483.6h0M1515.6 956.1h0M1569.2 567.6h0M1667.7 909.5h0M1534.4 534.1h0M1685.8 617.9h0M1631.7 576.7h0M1304.6 676.9h0M1455.4 575.3h0M1349.9 539.7h0M1493.5 546.9h0M1534.5 603.9h0M1735.6 520.8h0M1400 732.4h0M1548.9 1124.1h0M1431.6 616.8h0M1508.1 645.1h0M1342.2 460.6h0M1672 495.1h0M1579 529.3h0M1419 712h0M1580.1 987.1h0M1545.1 396.7h0M1567.6 993.9h0M1398.4 534.4h0M1466.1 652.8h0M1535.9 1098.4h0"/>
<path stroke="#fe9f6d" d="M1700.1 697h0M1682.4 532.2h0M1655.4 711.1h0M1452.2 342.2h0M1638.1 935.3h0M1657.3 496.7h0M1682.2 545h0M1583.6 968.3h0M1734.7 666.2h0M1575.8 1023h0M1674.8 488.9h0M1642.5 640.4h0M1579.5 1018.7h0M1588.1 519.4h0M1623.2 627.4h0M1724.1 681.1h0M1407.8 640.4h0M1747 559.4h0M1625.4 695.7h0M1595.7 937.5h0M1622.1 485.6h0M1734.8 737.2h0M1584.7 562.9h0M1261.3 510.9h0M1520 1021.8h0M1580 736h0M1600.1 474h0M1545.6 1111.7h0M1449.1 336.1h0M1747.3 745.7h0M1576.7 561.2h0M1483 653.2h0M1727.9 583h0M1501.3 540.2h0M1617.7 920.4h0M1586.7 626h0M1627.1 546.9h0M1601.6 1040.4h0M1739.8 559.6h0M1598.7 598.9h0M1565.1 454.8h0M1541.7 538.8h0M1452 658.3h0M1208.4 707.8h0M1753 653.2h0M1532 1041h0M1550.1 750.8h0M1243.7 648.2h0M1469.9 387h0M1715.4 587.3h0M1505.2 624.7h0M1338 436h0M1345 440h0M1654.7 615.2h0M1443.1 636.3h0M1624.8 414.3h0M1543.5 908.7h0M1657 975.7h0M1638.7 430.1h0"/>
<path stroke="#020109" d="M1239.2 979.3h0M1348.7 1201.3h0M1402 1185.3h0M1338.5 1172.5h0M1220.7 1140h0"/>
<path stroke="#651a80" d="M460.8 671.3h0M460.7 601.8h0M471.7 642.2h0M907.2 798.8h0M944.7 731.3h0M1247.4 963.1h0M374.9 643.3h0M1027.2 508.4h0M1014.9 814.5h0M1221.8 1117.8h0M1127.8 508h0M1427.8 963.7h0M1099.6 466.7h0"/>
<path stroke="#bd3977" d="M1457.5 1154h0M1144.2 665.5h0M1029.5 688.7h0M1323.7 919.7h0M1174.3 355.9h0M432.3 675.9h0M403.5 589.2h0M1265.1 956.2h0M959.1 505.4h0M876 908.8h0M1507.1 1159.7h0M810.2 733.4h0M539.1 704.6h0M578.8 687h0M1534.4 869h0M927.5 782.5h0M1446.2 1143.7h0M1123.8 781.3h0M1186.3 929.7h0M438.5 661.2h0M1031.2 530.7h0M862.9 862.6h0M600.1 690h0M558.5 692.5h0M1183.2 955.2h0M1438.8 1114.2h0M566.8 730.9h0M1086.6 791.4h0M823.8 830.2h0M1105.4 674.6h0M1429.8 314.7h0M905.9 734.8h0M1098.4 766.8h0M934.4 747.4h0M1194.7 524.5h0M1410.1 249.4h0M1419.8 249.8h0M1043.1 579.3h0M1429.3 1115.5h0M1444.4 993.9h0M1044.9 855.5h0M925.9 717h0M1469.9 950.8h0M1514.3 910.2h0M1050.1 878h0M1404.5 257.8h0M1236.9 440h0"/>
<path stroke="#f66c5c" d="M1458.6 847.1h0M1609.5 1050.3h0M1542.9 1022.7h0M1472.8 966.4h0M1251.1 590.2h0M1007.9 891.4h0M1374.1 505.6h0M1379.1 623.6h0M1465.7 517.6h0M1491.3 573.9h0M1544.9 1114.6h0M1325.1 491.2h0M1425.9 549.1h0M1541.9 1140.6h0M1333.6 464.3h0M1365.8 1058.4h0M1418.9 1005.5h0M1295.6 494.7h0M1244.5 613.8h0M1602.5 481h0M1575.3 498.8h0M1156.9 714.6h0M1168.1 718.7h0M1162.3 373.9h0M1386 348.7h0M1327.3 561.9h0M1477.9 347.5h0M1044.1 948.4h0M1667.3 612.7h0M1341.2 492.7h0M1462.3 518.3h0M1291.3 561.9h0M1417.6 502.5h0M1415.7 551.6h0M1528.4 952.1h0M1167.6 534.3h0M1672.7 987.7h0M1283.9 587.9h0M1350.3 548.5h0M1602 451.5h0M1365.5 579.2h0M1453.8 1064.9h0M1447.3 681.8h0M1629 885.1h0M1641.4 900.2h0M1559.6 942.6h0M1423.9 485.2h0M1423.5 512.9h0M1548.9 1016.8h0M1505.7 954.6h0M1400.1 529.5h0M1297.9 511.3h0M1517.6 965.9h0M1599.8 1044.2h0M1461.8 608.6h0M1291.3 715.2h0M1475.8 555h0M1533 1143.7h0M1620.8 449.4h0"/>
<path stroke="#812581" d="M971.7 930.8h0M1198.9 951.9h0M1336 1234.8h0M1267.4 898.3h0M817.9 783.2h0M1404.2 272.9h0M904.3 725.9h0M445.6 634.5h0M908.7 769.9h0M1347.2 965.5h0M1133.1 405.5h0M381.2 629.8h0M552.9 699h0M438.6 666h0"/>
<path stroke="#fcf4b6" d="M1757.8 735.5h0M1614.9 695.9h0"/>
<path stroke="#ad347c" d="M390.4 694.5h0M567.7 661.4h0M877.1 752.7h0M543.3 773.2h0M1159.3 725.6h0M857.4 884.2h0M1047.8 759.8h0M580.5 652.4h0M451 636h0M829 726.5h0M540.8 671.4h0M1060.3 542.7h0M1046.4 385.1h0M808.7 748.8h0M919.4 819.3h0M1107.1 600.1h0M580.7 683.6h0M1349.8 949.5h0M933.1 527.2h0M1313.2 949h0M997.7 523.1h0M1102 534h0M1091.9 486h0M1163.6 483.4h0M1074.8 687.2h0M1195.9 975.4h0M1400.7 242.4h0M997.5 882.8h0M1380.7 955.8h0"/>
<path stroke="#390f6e" d="M1208.6 1125h0M1187.3 973.6h0"/>
<path stroke="#d9466b" d="M982.4 515.1h0M1299.1 486.4h0M1418 368.7h0M1389.3 338.4h0M1044.5 874.4h0M1492.7 1160.1h0M1234.5 599h0M540.7 792.9h0M1428.9 939.3h0M1121.6 365.7h0M1168.3 442h0M1030.8 900h0M1059.6 552.9h0M1047.6 601.3h0M1340.4 472.5h0M1097.9 354.9h0M1150.3 406.4h0M893.6 739.7h0M1172.9 348.2h0M1379.3 926.8h0M1454.8 983.1h0M1189 584.4h0M1543.3 1119.4h0M1073.8 694h0M1113.1 490.7h0M1348.7 1105.3h0M1399.7 1068.1h0M1447.6 283.3h0M588.7 671.7h0M1419.7 1053.2h0M1445.5 877.3h0M1180.2 539.6h0M897.3 728.4h0M1163.5 393.5h0M551.5 791.8h0M1454.9 300.4h0M1568.5 1020.5h0M1325.5 567.6h0M554 765.3h0M1192 613.3h0M932.6 492.3h0M1469.1 935.6h0M1498.5 1176.3h0M989.5 883h0M1381.3 1140h0M1306.2 309.8h0M1542.6 960.8h0M1325.2 573.5h0M1004 477.4h0M1190.2 438.3h0M1419.7 1114.5h0M1234 448.3h0"/>
<path stroke="#ef5d5e" d="M1406.1 318.6h0M990.3 908.2h0M1236.8 765.1h0M1000.4 834.5h0M1201.1 719.4h0M1518.3 920.3h0M1052 617.1h0M1310.1 580.7h0M1125.2 329.3h0M1456 635.2h0M1539.4 546.5h0M1504.3 323.6h0M1337.4 557.3h0M1444.7 469.7h0M1048.6 937.8h0M1500.9 986.1h0M1550.9 1089.8h0M1077.4 555.5h0M1078.6 861.5h0M1465.1 301.7h0M1425.4 979.1h0M1138.2 683.3h0M1465.4 497.7h0M1655 951.6h0M1330.3 441.2h0M1453.7 506.9h0M1143.3 564h0M1638.4 1040.9h0M1340.1 565.8h0M1172.3 693.8h0M1098.7 855.6h0M1340.8 660.9h0M1625.6 1031.3h0M1598.5 900.1h0M1420.3 246h0M1562 974.1h0M524.8 767h0M1364.7 609.5h0M1379.8 498.8h0M1404 623.2h0M1620.1 905.8h0M1308.1 462.7h0M1519.4 946.3h0M1408.9 328.9h0M1284 675.9h0M1475.4 1010.8h0M1546.5 1091h0M1366.9 606.7h0M1286.1 701.7h0M1412.1 563.4h0M1546.1 1000.3h0M1486 526h0"/>
<path stroke="#fed395" d="M1711.2 678h0M1520.4 550.7h0M1603.7 422.6h0M1568 734.5h0M1709.1 553.2h0M1565.4 415.6h0M1688.9 585.3h0"/>
<path stroke="#fc8e64" d="M1567 521.5h0M1471.8 637.3h0M1651.8 510.7h0M1418.1 515.3h0M1297 502.6h0M1525 1035.7h0M1694.2 521h0M1549.9 983.9h0M1501.7 757.2h0M1510.4 462.7h0M1617.5 931.6h0M1503.4 605.6h0M1572.3 1078.6h0M1745 570.2h0M1421.4 479.9h0M1666.9 1022.7h0M1649.5 934.3h0M1658.9 526.7h0M1464.4 669.8h0M1452 781h0M1542.9 410.3h0M1601.7 546.8h0M1644.2 503.3h0M1443 1033.8h0M315.2 713h0M1623.5 538.6h0M1432.3 528.3h0M1554.2 434.1h0M1437.6 607.7h0M1477.4 557.8h0M1484.2 341.1h0M1488.2 395.8h0M1330.4 555.8h0M1613.4 591.3h0M1398.5 627.2h0M1600.4 498.6h0M1558.9 563.2h0M1444.6 475.3h0M1601.6 573.8h0M1572.7 631h0M1604.4 518.9h0M1542.4 976h0M1722.5 517.9h0M1525.6 604.5h0M1567.3 530.5h0M1464.7 593.3h0M1623.8 920.1h0M1457.4 480.9h0M1679.8 623.5h0M1542.9 553.7h0M1629 1035.2h0M1500.3 624.9h0M1598.5 973h0"/>
<path stroke="#feb078" d="M1721 710.7h0M1592.9 572.2h0M1751.5 741.2h0M1715.6 748.1h0M1696.6 712.1h0M1555.7 502.9h0M1592.5 902.3h0M1744.7 579h0M1750.2 686.3h0M1730.9 753.1h0M1722 571.2h0M1726.7 505.3h0M1648.9 603.7h0M1559.1 631.4h0M1549 413.6h0M1753.6 570h0M1704.9 541.5h0M1714.3 498.6h0M1652.1 902.9h0M1556 557.8h0M1604 562.8h0M1594.1 969.4h0M1498.3 506.4h0M1647.9 924.8h0M1621 495.9h0M1692.9 471.4h0M1754.3 538.6h0M1696.8 494.6h0M1566.1 591.3h0M1625.7 486.8h0M1624.8 541.4h0M1608.6 496.6h0M1529.8 520h0M337.8 689.1h0M1638.3 457.6h0M1532.3 583.9h0M1719.3 593.8h0M1628.8 571.3h0"/>
<path stroke="#fde3a5" d="M1708.6 692.9h0M1717.9 765.2h0"/>
<path stroke="#29115a" d="M1309.3 1226.7h0M1296.7 1221.3h0M1255.1 944h0"/>
<path stroke="#bd3977" d="M1517.1 1140.6h0M1457.7 957.6h0M925.4 737h0M1434.2 332.6h0M812.1 835.1h0M1425.9 1094h0M1055.2 583.7h0M1188.5 950.5h0M544.8 756.5h0M1472.2 977.9h0M1449.7 922.3h0M923.4 753.3h0M1419.6 1085.2h0M852.5 693.8h0M805.2 818.3h0M982.3 978.9h0M1027.4 358.3h0M1463.9 1190h0M449 576h0M1114.2 558.3h0M1025.4 862.4h0M1006.3 567.5h0M1163 681.9h0M1176.4 437.5h0M1202.8 527.5h0M939.4 863h0M1063.2 814.5h0M1356.2 925.1h0M511.7 692.4h0M1367.3 886.7h0M1099.3 569.4h0"/>
<path stroke="#020109" d="M1188 984.2h0M1282 1204h0M1243.7 993.8h0M1214 1039.2h0M1240.7 1184h0M1247.3 1192h0M1259.3 1072.5h0M1324.7 1176h0M1380.7 1184h0M1303.3 1153.9h0"/>
<path stroke="#07061c" d="M1054.1 443.1h0M396 611.7h0"/>
<path stroke="#fec287" d="M1575.4 413.9h0M1748.4 671.1h0M1641.1 1071.6h0M1768.7 704.5h0M1647.5 556h0M1755.2 729h0M1600.7 919h0M1398.5 652.4h0M1568 960.8h0M1594.9 1027.4h0M1644.5 558.3h0M1628.4 906.3h0M1726.8 509h0M1503.2 385.4h0M1666.5 920.2h0M1444.3 598.9h0"/>
<path stroke="#fa7d5e" d="M1643 947.2h0M1425 606.8h0M1589.6 479.4h0M1518.2 539.6h0M1511.3 399h0M1551.8 566.3h0M1519 506.9h0M1420.2 650.1h0M1511.3 658.7h0M1660.3 514.2h0M1499.9 472.8h0M1275.4 547.5h0M1615.3 962.1h0M1590.4 603.9h0M1170.4 413.3h0M1568 1002h0M1474.7 597.5h0M1219.4 774.1h0M1607.8 433.1h0M1498.7 677.1h0M1444.4 578.5h0M1533.8 950.4h0M1249.3 486.1h0M1428.3 479.3h0M1438.9 593.9h0M1480.5 931.5h0M1573.9 1041.5h0M1736.1 570.8h0M1556.6 893.5h0M1601.8 582.9h0M1274.1 662.7h0M1366.1 574.9h0M1363.1 612.9h0M1517.5 1048.2h0M1628.1 881.6h0M1593.5 618.7h0M1491.8 565.3h0M1669.5 574.2h0M1479.3 1126.2h0M1308.9 668.9h0M1538.9 657.4h0M1176.4 336.4h0M1031.9 975.1h0M1192.4 709.3h0M1667.8 864.5h0M1381.3 512.6h0M1517.2 672.1h0M1442.5 505.8h0M1529.9 646.8h0M1421 437.6h0M1556.9 404.2h0M1494.6 619.6h0M1503 648.2h0M1445.1 1021h0M1581.9 540.2h0M1216.3 518.5h0M1461.8 443.4h0M1569.3 444.9h0M1565.4 635.8h0M1533.2 928.1h0M1208.5 530.6h0M1533.6 490.4h0"/>
<path stroke="#812581" d="M541.3 641.9h0M1048.5 319.2h0M1439.2 1104.9h0M1236 1021.8h0M1168.7 449.4h0M985.1 800.6h0M1182.1 945.3h0M401.2 611.5h0M1056.8 319.4h0M387.9 648.6h0M981 417.8h0M1015.5 431.6h0M1208.1 970.8h0M866 697.7h0M1101.6 562.3h0M1266.3 398.1h0M953.2 869h0M1016.6 766.4h0M1381.6 1177.6h0M407 608.2h0M908.8 888.6h0M1034.1 402.4h0"/>
<path stroke="#651a80" d="M1208.6 1030.8h0M900.7 727.3h0"/>
<path stroke="#f66c5c" d="M1606.4 1024.6h0M1505.3 457.2h0M1300.3 554.3h0M1307.1 722.1h0M1650.1 895.4h0M1014.5 875.7h0M1546 502.7h0M1355.2 603.7h0M1402.5 626.3h0M1554.6 1087.8h0M1476.9 328h0M1143.2 784h0M1485.5 991.1h0M1140.7 885.3h0M1541.7 397.8h0M1583.3 1024.8h0M1013 867.8h0M1569.8 1014.2h0M1449 481.3h0M1389.6 311.4h0M1337.5 696.5h0M1381.4 596.1h0M1497.8 345.7h0M1421.2 1080.1h0M1315.6 699.2h0M1635.3 1089.1h0M1330.1 587.1h0M1465.4 500.8h0M1423.3 1083.6h0M1519.1 613.8h0M1495.6 326.8h0M1185.2 347.6h0M1476.8 368h0M1407.2 499.8h0M1411.8 484.9h0M1619.6 1010.9h0M1592.4 837.7h0M601.4 786.3h0M1282.5 503.8h0M1516.4 465.9h0M1283.9 442.8h0M1169.6 704.3h0M1264.8 686h0M1670.3 1010.4h0M1395.5 513.8h0M1496.8 552.7h0M1280.4 686.2h0M1656 859.6h0M1406.4 585.3h0M1447.6 990.1h0M1549.8 1136.8h0M1379.7 454.5h0M534.3 782.8h0M1491.2 997.5h0M1646.9 968h0M1183 736.5h0M1548.6 965.2h0M1310.2 517.7h0"/>
<path stroke="#902a81" d="M438.6 657.4h0M1027.6 361.9h0M1176.9 734h0M1395.5 1192.1h0M1363.3 1012h0M1324.9 952.1h0M440.8 597.1h0M954.3 561.5h0M917.8 716.4h0M1012.8 662.2h0M1434.4 1166.3h0M1377.5 255.9h0M1122 457h0M823.6 781h0M398.2 599.9h0M1442.2 949.5h0M893.7 888.1h0M546.9 647.1h0M1320.1 1009.5h0M1317 289.5h0M1140.8 437.3h0M922.7 475h0M1341 316.8h0"/>
<path stroke="#57157e" d="M1428.6 1187.7h0M972.9 404h0M897.4 675.7h0M1194.3 986.1h0M951.9 485.7h0M1261.4 898.2h0M1215.8 976.2h0"/>
<path stroke="#fe9f6d" d="M1504 868.1h0M1744.6 536.8h0M1699.3 617.8h0M1592.4 590.6h0M1747.6 640.3h0M1617.7 550.3h0M1450.9 322.4h0M1718.2 655.1h0M1651.8 538.1h0M1220.2 729h0M1623.3 520.8h0M1632.2 457.8h0M1624.3 564.2h0M1644.7 481.1h0M1644.1 988.2h0M1755.4 548.2h0M1373.5 687.9h0M1747 717h0M1723.2 728.7h0M1654.9 930.7h0M1464.7 522.6h0M1484.4 635.9h0M1224.4 719.1h0M1674.7 552.8h0M1585.1 575.4h0M1567.2 632.2h0M1478.9 545.7h0M1638.8 543.7h0M1585.4 538.5h0M1710.8 597.7h0M1698.6 589.9h0M1602 942.5h0M1647.8 878.5h0M1647 1011.5h0M1376.8 517h0M1469.3 614.8h0M1623.6 616.6h0M1550.3 666.5h0M1518.8 561.6h0M1537.7 980.1h0M1688.5 621.1h0M1599.2 1036.9h0M1675.2 976.2h0M1658.1 489.3h0M1516.4 500.8h0M1674.8 1025.8h0M1606.1 576h0M1590.5 513.4h0M1600.9 531h0M1696.2 652.7h0M1555.1 506.3h0M1535.5 1034.2h0M1760.3 575.2h0M1492 347.4h0M1640 956.7h0M1395.6 610.1h0M1584 592.1h0M1396.6 556.9h0M1758.1 579.9h0M1527.2 523.7h0M1773.2 678.2h0M1780.4 714h0"/>
<path stroke="#732081" d="M542.6 668.8h0M1381.3 967.6h0M966.7 736.3h0M413.5 588.4h0M809.8 800.6h0M1125.2 479.2h0M1184.3 947.5h0M1216.1 1117.1h0M1016.7 407.1h0"/>
<path stroke="#e55064" d="M1460.8 1126.2h0M1067.7 886.4h0M1085.8 827.1h0M1070 507.6h0M1146.3 736h0M1364.6 1251.8h0M1562 1085.4h0M1132.9 368h0M1401.1 525.7h0M1327 514.6h0M1400.1 1229.6h0M1564.1 1056.6h0M1421.8 274.5h0M1074.5 579.3h0M1431 1133.3h0M967.7 511.6h0M1461.1 1151.5h0M922.3 832h0M1358.1 579.7h0M1100 312.4h0M1581.4 505h0M1209.8 785.5h0M1522.4 383h0M1214.6 437.6h0M1245.7 386.2h0M1309.6 567.7h0M1521.3 911.1h0M1577.1 1128h0M1331.8 539.4h0M1362.3 1047.1h0M1524.2 744.8h0M1471.6 330h0M1015 941.3h0M1760.2 512.7h0M1455.9 1118.3h0M1422.9 934.4h0M1346.7 560.6h0M1264.9 533.1h0M1409.4 246.5h0M1420.1 306.2h0M1165.4 327h0M1419.2 278.5h0M1118.6 794.4h0"/>
<path stroke="#491078" d="M1081.2 878h0M866.7 665h0"/>
<path stroke="#cc3f71" d="M922.4 812.5h0M1082.2 808.9h0M1413.5 968.9h0M913.9 899.6h0M1132.5 540.1h0M1055.8 755.2h0M1165.1 710.5h0M1436.1 889.4h0M1491.6 1119.8h0M1458.4 873.1h0M1138.3 722.6h0M582.1 697.8h0M1001 877.4h0M1290.4 524.7h0M1006.3 490.3h0M1433.3 1117.6h0M920.2 790.6h0M1038.4 564.6h0M549.5 696.5h0M1069.4 559.9h0M1000.8 708.5h0M594.2 675.5h0M1369 915.9h0M1043.2 832.7h0M1416.4 1089.2h0M1298.6 715.3h0M1352.4 1205.5h0M585 761.9h0M1389.3 1152.3h0"/>
<path stroke="#9e2f7f" d="M1066.4 433.4h0M1046.9 500.9h0M955.1 538.5h0M410 600.2h0M977.1 729.1h0M1418.9 1185.4h0M1105.6 361.5h0M1607.3 913.5h0M1273.7 406.4h0M1073.1 517.1h0M1359.5 245.9h0M1058.2 557.5h0M1082.1 561.8h0M1183.4 440.5h0M1327.8 1023.4h0M1037 846.7h0M1451.7 1117.2h0M1357.7 956.2h0M1023.1 770.1h0M1429.4 1194.7h0M1381.1 247h0M1123.9 398.9h0M1083.7 422.5h0M1078.9 680.3h0M1077 430.2h0M1255.3 1089.3h0M529.5 784.8h0M529.8 769.2h0M975.8 736h0M1048.3 885.4h0M1032.3 553.4h0M438.3 604.9h0M940 763.5h0M1319 981.3h0M957.1 735.8h0M987.7 747.3h0M954.2 490.5h0M1048.8 874.5h0M1101.1 346.9h0"/>
<path stroke="#07061c" d="M1404.8 245.4h0M1257.9 991.7h0M825.3 773.8h0"/>
<path stroke="#812581" d="M984.8 785.2h0M996.6 800.6h0M477.8 631.8h0M1044.8 474.7h0M534.5 690.4h0M1020.5 401.4h0M541.8 659.7h0M460.6 656.5h0M999.2 423.4h0M1054 322.9h0M1045.3 393.6h0M413.1 606.4h0M1347 943.4h0M1392.8 981.5h0M1285.6 309h0M453.2 686.1h0M950.8 739.8h0M1064.2 547.4h0"/>
<path stroke="#ef5d5e" d="M1327.2 547h0M1522.1 405.3h0M1303.6 499.3h0M1259.3 446.4h0M1616 943h0M1505.8 1025.8h0M1408.3 308h0M1209.1 518.7h0M1625.2 958.8h0M1009.6 543.7h0M1427.1 518.1h0M1358.8 504.1h0M1540.5 1001.9h0M1591.3 437.4h0M1426.2 897.5h0M1600.7 947.5h0M1498.4 1058.6h0M1472.1 1127.5h0M1544.4 1154.5h0M1623.8 969.1h0M1474.9 465.3h0M1520.8 357.2h0M1460.2 1109.3h0M1368 684.9h0M1115.1 858.4h0M1733.5 494.7h0M1393.4 460.6h0M1400.9 955.5h0M1364.5 625.8h0M1494.6 1153.3h0M1514.4 1026.3h0M1529.4 1094.4h0M1303.7 460.9h0M1174.9 539.6h0M1398.6 641.4h0M1326.4 479.4h0M1474.2 558.2h0"/>
<path stroke="#fde3a5" d="M1721.1 688.8h0M1763.6 693h0M1735.4 689.5h0"/>
<path stroke="#e55064" d="M1604.4 893.1h0M1056.4 952.2h0M1531.1 405.4h0M636 786h0M1008.9 877.1h0M1055.9 945.7h0M1311.4 597.9h0M1172.5 652.5h0M1061.5 859.7h0M1650.1 949.8h0M1533.7 1046.5h0M1367.1 250.3h0M1209.3 655.3h0M1495.4 1041.8h0M1293.1 431.4h0M1348.6 579.3h0M1182 549h0M1087.2 346.9h0M1434.4 267.8h0M1545.1 1132.8h0M1293.1 551.8h0M1203.4 424h0M1336.8 601.1h0M1559.8 1081.7h0M987.5 535.7h0M1182.8 467.6h0M1315.4 575.8h0M1346.5 506.5h0M1378.6 339.6h0M333.5 705.4h0M1080.3 541.5h0M1490.7 322.2h0M1125.8 693.7h0M1024.5 801.3h0M1195 456.7h0M1478.4 941h0M1397.6 474.9h0M1298.2 462.3h0M1126.7 345.2h0M1467.1 294.7h0M1555.7 978.4h0M1655.2 458.8h0M1568.7 1125.6h0M965.7 839.3h0M1022 718.5h0M1515.8 950.5h0M1134.9 388.4h0M1435.6 1176.3h0M1386.1 343.8h0"/>
<path stroke="#cc3f71" d="M1257.8 693.8h0M1424.9 1010.7h0M1388.8 1007.4h0M1521 1108.7h0M1546.8 955h0M1194.5 464h0M1032.9 539.5h0M817.2 849.5h0M871.3 917.2h0M1363 332.6h0M1321.6 622.3h0M1073.7 918h0M1542.8 879.3h0M1013.3 545.6h0M1537.6 964.6h0M1399.1 1082.4h0M1657.8 940.1h0M983 739h0M1120.8 646h0M1498.4 1052.7h0M994.1 738.8h0M1308.4 916.5h0M1326.8 928.7h0M1279.9 512.6h0M1032 801.8h0M984 827.8h0M453.8 625.6h0M1216.5 480h0M1025.9 733.9h0M1369.5 263.7h0M962.3 801.8h0M1119.1 462.8h0M905.8 766.5h0M871.9 889h0M1073 893.2h0M830.5 715.4h0M1048.2 558.6h0"/>
<path stroke="#1c1044" d="M1208.2 1108.7h0"/>
<path stroke="#d9466b" d="M1225 684.8h0M1551.2 394.1h0M1160.4 638.8h0M1131 703.4h0M1572.1 824.3h0M958.9 710.6h0M1537.7 952.2h0M1659.7 712.6h0M911.5 755.3h0M1500.5 1114h0M1019.2 548.4h0M826.9 852.9h0M601.2 793.4h0M1000.5 487.3h0M1332.2 561.9h0M1151.8 412.4h0M1061.7 765h0M1534.6 1154.2h0M1206.5 391.6h0M1471.9 867.4h0M305.7 696.3h0M1481.5 359h0M551.5 660.2h0M1423.7 1032.3h0M1328.9 505.5h0M1471.4 1183.5h0M1592.7 1054h0M1175.1 483.8h0M1239.9 677.3h0M1426.7 238.7h0M1495.6 951.3h0M1501 932.6h0M1195.4 548.6h0M1063 454.4h0M1106 836.4h0M553.5 774.6h0M1507.7 1113.5h0M586.8 742.5h0M810 715.5h0M914.8 835.3h0M1199.3 707.5h0"/>
<path stroke="#732081" d="M947.1 819.2h0M1014.4 771.8h0M909.6 726.3h0M1379.3 973h0M950.5 495.9h0M556.5 699.1h0M858.2 674.6h0"/>
<path stroke="#9e2f7f" d="M949.5 853.8h0M856.6 637h0M1144.2 547.5h0M820.5 736.1h0M827.9 866.8h0M865.9 805.9h0M1097 340.8h0M895.8 764.7h0M1211.7 961.1h0M421.8 649.5h0M417.4 621h0M547.3 748.9h0M1375.2 932.3h0M1025.3 552h0M376 635.6h0M1507.9 362.3h0M1359.5 264.2h0M1212.7 986h0M1076 533.6h0M1201.6 509.8h0M1277.3 303.2h0M966.9 855.7h0M954.5 797.6h0M1468.6 1164.5h0M1150.7 347.5h0M1129.8 669h0M1173.9 523.5h0M587.9 688.4h0M1413.8 1019.6h0M381.9 650.7h0M1054.7 542.8h0M1094.8 450.5h0M1392.9 987.4h0M433 597h0M1006.6 526.5h0M1057.7 402.8h0M1115.2 562.4h0M915.7 793.1h0M1035.7 890.9h0M999.1 775.5h0M524.1 684.8h0"/>
<path stroke="#902a81" d="M1076.7 381.5h0M1200.1 1006.4h0M1000.8 893.9h0M1190.4 937.8h0M862.5 673.1h0M937.3 686.3h0M1353.4 998.9h0M834.8 865.4h0M918 735.7h0M1534.1 1119.9h0M1460.1 475.3h0M408.6 650.2h0M1009.6 384.8h0M385.2 677.3h0M853.8 875.5h0M1111.9 315h0M1101 370.6h0M1262.2 964.4h0M1317.1 1025.9h0M1262.7 944.5h0M1294.5 910.1h0"/>
<path stroke="#f66c5c" d="M1565.8 697h0M1594.4 568.4h0M1249.1 401.3h0M1617.8 415.6h0M1490.7 524.9h0M1601.7 1028.4h0M1643.1 1060.9h0M1398.8 319h0M1271.6 593.9h0M1358.3 484.2h0M1658.6 936.7h0M1502.9 359.5h0M1454.5 917.8h0M1503.1 482.2h0M1453.8 532.3h0M1665.1 1057.3h0M1381.9 582.4h0M1402.2 490.3h0M1393.8 595.3h0M1597.9 965.3h0M1517.8 857.9h0M1367.9 551.5h0M1143.6 511.6h0M1667.1 1017.6h0M1416.1 637.4h0M1343.4 512.5h0M1493.8 571.3h0M1242.4 592.5h0M1385.6 577.2h0M1489.7 1088.7h0M1472.5 501.5h0M1279.6 680.1h0M1482.5 1002.3h0M1421.1 613.4h0M1488.9 330.5h0M1475.3 470.7h0M1532.5 562.9h0M1641 444.5h0M1354.1 464.5h0M1463 640h0M1568.4 397h0M1302.5 558.7h0M1480.8 533.3h0M1629.9 1010.8h0M1418 893.3h0M596.4 773.9h0M1711.3 644.4h0M1167.3 424.5h0M1515.6 662.5h0M1406.9 996.8h0M1387.3 464.3h0M344.1 699.4h0M1281.8 523.5h0M1501.5 571.3h0M1219.7 609.6h0M1022.7 884.6h0M1118.6 806.2h0M1322.9 577.2h0M1625.8 446.8h0M1523 999.7h0M1198.2 679.5h0"/>
<path stroke="#57157e" d="M1046.7 509h0M1393.7 954.9h0M1345.1 1241.6h0"/>
<path stroke="#fcf4b6" d="M1745.2 682.8h0"/>
<path stroke="#020109" d="M1260.7 1195.5h0M1259.3 1090.7h0M1274 1212h0M1219.3 1105.3h0"/>
<path stroke="#bd3977" d="M1016.2 524.8h0M1021.3 983.7h0M1050.8 586.7h0M1074.5 537.8h0M1072.5 568.6h0M1082.5 492.9h0M1141.9 575.3h0M1106.3 440.3h0M561 667.3h0M1399.3 1217h0M1592.2 1071.6h0M1246 1174.7h0M830 711.2h0M1474.5 1146.7h0M1023.2 999h0M1464.4 314.3h0M1427.9 253.4h0M1069.6 518.9h0M1225.4 389.7h0M1007.3 857.8h0M1171.3 970.3h0M1060.1 639.2h0M1083.7 364.4h0M1632.6 609.5h0M979.2 736.8h0M1341 917.9h0M956.7 808.7h0M522.1 630.1h0M1032.8 522.8h0M1068.9 341.3h0M1344.5 1233.9h0M1531.1 968.6h0M979.8 487.2h0M1083 340.1h0M978.5 818.8h0M1158 927.7h0M1509.7 1013.6h0M1198.9 683.4h0M1233.8 416.1h0M1472.4 1072.3h0M949 514.5h0M959.4 491h0M1159.4 644.1h0"/>
<path stroke="#390f6e" d="M1022.1 579.6h0"/>
<path stroke="#feb078" d="M1586.9 1046.2h0M1733.9 701.2h0M1546.2 639h0M1763.2 518.5h0M1609.7 966.3h0M1592.6 491.5h0M1650.2 577.9h0M1705.4 547h0M1519.6 637.7h0M1612.4 632.8h0M1661.6 1024.5h0M1676.2 516.5h0M1526.2 471h0M1655 1043.6h0M1597.9 476.9h0M1396.3 744.5h0M1631.7 473.9h0M1685.5 478.6h0M1305.6 696.8h0M1652.9 523.7h0M1694.9 581.3h0M1382.5 729.7h0M1728.3 591.5h0M1624.4 610.6h0M1669.4 622.3h0M1522.3 352.8h0M1668.8 860.6h0M1690.8 493.8h0M1688.7 718.9h0M1641.9 569.6h0M1722.8 591h0M1385.5 590.7h0M1551.7 1047.8h0M1595.6 532.5h0M1625.1 979.6h0M1757.6 708.6h0M1627.5 1063.4h0M1549.1 483h0M1557 486.1h0"/>
<path stroke="#fe9f6d" d="M1524.9 519.3h0M1563 1124.1h0M1634.8 868.8h0M1532.2 386.4h0M1506.4 472.1h0M1544 603h0M1338.2 514.6h0M1547.6 533.7h0M1562.9 576.4h0M1546.8 545.7h0M1544.2 1081.2h0M1688 592.7h0M1491.8 631.3h0M1636.9 621.2h0M1589.4 593h0M1611.2 992.3h0M1620.6 458.5h0M1632.7 1077.5h0M1603.6 626.7h0M1602.7 411.2h0M1597.8 463.5h0M1616.6 528.4h0M1644.3 497h0M1232.2 711.2h0M1284.2 655.4h0M1413 628.5h0M1505.3 906.3h0M1656 560.3h0M1515.6 545.2h0M1651.1 528.8h0M1499.1 516.3h0M1700.1 482.7h0M1617.1 557.9h0M1566.8 653.7h0M1708.6 566h0M1729.6 556.6h0M1528.8 902.2h0M1551 464.9h0M1673.2 458.5h0M1635.4 892.4h0M1523.5 431.2h0M1703.2 528h0M1460.9 554.6h0M1704.1 570.7h0M1416.7 741.4h0M1176.1 341.2h0M1611 535.1h0"/>
<path stroke="#fed395" d="M1715.4 620.4h0M1732.8 610.5h0M1710.2 488.4h0M1633.1 470.8h0M1378.4 664.5h0M1752.4 525.4h0M1599.7 619.7h0"/>
<path stroke="#fec287" d="M1689.5 697.6h0M1751.4 587.2h0M1637.4 608.9h0M1593.6 1065h0M1300.7 643.5h0M1569.5 905.2h0M1741.3 583.3h0M1658.7 993.2h0M1716 707.7h0M1650.5 627.4h0M1625.8 559.1h0M1660.3 585.3h0M1571.9 376h0M1590.1 531.1h0M1658.2 500.5h0M1626.3 423.1h0M1545.9 380.8h0M1579.4 440.6h0M1661.8 892.9h0M1406.4 748.2h0M1638.4 625.8h0"/>
<path stroke="#651a80" d="M1191 976.7h0M847.1 646h0M1083.5 479.9h0M558.6 655.5h0M1083.9 412.3h0M1005.5 666.4h0M532.6 667.2h0M1062.9 365h0M1014.8 586.4h0M863.2 792.1h0M1032.9 392.7h0"/>
<path stroke="#491078" d="M859.2 665.8h0M1217.8 1134.6h0M850.2 663.1h0M1195.3 972h0"/>
<path stroke="#fc8e64" d="M1760.6 737.3h0M1547.4 596.5h0M1568 953.3h0M1627.8 482.4h0M1428.1 578.1h0M1514.9 619.5h0M1494.2 470.5h0M1448.9 616.3h0M1502.4 559.5h0M1569.4 551.3h0M1527.3 1046.6h0M1716 681h0M1651.8 867.4h0M1475.9 1004.1h0M1692.5 586.8h0M1722.7 511.5h0M1461.8 356h0M1491.4 948.5h0M1378.6 620.5h0M1641.7 886.6h0M1534.2 646.7h0M1421.2 471.3h0M1630 1048.2h0M1516.7 826.3h0M1460.3 469.2h0M1622.9 525.5h0M1390.3 599.3h0M1578.3 515.4h0M1653.2 883.6h0M1660.8 472.5h0M1663.5 482.9h0M1478.1 530.5h0M1109.8 841.1h0M1554.4 537.2h0M1744.7 512.1h0M1297.5 694.7h0M1567.2 506.8h0M1498.8 619.3h0M1524.3 645.4h0M1574.6 718h0M1539 862.6h0M1748.1 741.7h0M1732.4 584.2h0M1564 437.6h0M1511.2 590.3h0M1584.2 515.6h0M1494.8 1114.8h0M1514.5 575h0M1374.3 623.9h0M1513.7 1010.2h0M1708.5 666.6h0M1551.5 446.5h0M1220.5 408.5h0M1397.7 493.7h0M1433.9 592.7h0"/>
<path stroke="#fa7d5e" d="M1525.2 1156.1h0M1498.5 405.7h0M1575.7 1125.3h0M1519.1 877h0M1430.9 587.7h0M1306.2 704.1h0M1604.4 630.2h0M1490.2 479.8h0M1484.4 1133.8h0M1061 900.9h0M1695 535h0M1574.8 892.1h0M1464.8 556.9h0M1331.3 583.5h0M1409 466.6h0M1504.1 619.1h0M1441.9 513.4h0M1730.8 499h0M1716.8 518.5h0M1576.9 1051.6h0M1427.7 557.9h0M1612.8 1043.9h0M1528.8 397.1h0M1656.3 912.8h0M1529 507.2h0M1325.4 496.1h0M1741.8 509.8h0M1648.7 1051.5h0M1610.6 446.7h0M1420.2 530.9h0M1517.6 666.8h0M1653.6 850.8h0M1474 519.2h0M1389.2 469.4h0M1508.6 682.8h0M1604.5 957.6h0M1440 585.4h0M1425 919.8h0M1445.5 499h0M1633.5 580.3h0M1061.1 878.8h0M1339.1 543.4h0M1511.8 895.3h0M1682.2 548.3h0M1464 377.5h0M1304 505h0M1423.4 497.7h0M1721.4 549.8h0M1319.5 618.2h0M1080.8 864h0M1691.9 567.5h0M1233.6 766.7h0M1170.6 336.1h0M1676 861.8h0M1625.8 1093h0M1489.2 586.1h0M1542.7 903.8h0M1192.2 581.8h0M1407 711h0M1682.1 473.8h0M1618.2 441.6h0M1426.6 529h0M1603.7 1080.2h0M1616.6 504.2h0M1169.3 366.1h0M1624.1 552.2h0M1594.5 912.6h0"/>
<path stroke="#ad347c" d="M1326.9 932h0M898.3 799.2h0M1038.5 747h0M1027.4 725.9h0M1023.7 567.1h0M958.9 826.6h0M863.8 856.1h0M1048.2 323.8h0M824 837h0M1284.1 917.7h0M1414.3 1099.7h0M860.8 725.6h0M1279.9 940.1h0M443.7 638.1h0M902.9 780.8h0M1096.5 803.4h0M393.5 674h0M1031.6 484.5h0M972.4 866.1h0M930.5 807.7h0M1428 1121.3h0M589.5 728.7h0M929.4 497.6h0M1033.1 363.2h0M1364.9 268.8h0M488.8 647.9h0M1029.4 447.2h0M1414.7 892.9h0M1422.5 1150.1h0M397.3 592.2h0M1257.8 427h0M1065.3 741.4h0M1104.7 489.8h0"/>
<path stroke="#29115a" d="M1310.8 935.1h0M1196.4 1140.1h0"/>
<path stroke="#390f6e" d="M1201.2 1133.1h0M555 641.5h0M1282 1169.3h0M992.8 492.5h0M1313.5 1007.5h0"/>
<path stroke="#bd3977" d="M1037.9 502.4h0M1077 351.1h0M948.5 766.5h0M900.4 871.6h0M1308.4 909.1h0M922 733.5h0M507.7 693.2h0M1207.6 543.1h0M1081 361h0M1089.4 374.1h0M1639.2 915.8h0M382.1 646.2h0M1067 497.4h0M1357.2 1013.9h0M1509.6 1061.2h0M1275.5 927.2h0M1028.6 677.9h0M1349 939.5h0M1254.7 585.2h0M829 855.8h0M1015.1 554.3h0M1414.2 267.7h0M1206.8 449.2h0M536.6 763.3h0M1309 302.2h0M1179.6 374.1h0M1361 268.5h0M474.7 632.2h0M1015.1 785h0M1362 880h0M962.1 805.9h0"/>
<path stroke="#651a80" d="M858.9 685.2h0M1322.1 986.8h0M1214.8 980.5h0M991.6 487h0M992.6 433h0M1311.5 1066.7h0M400.7 606.1h0M1361.8 262.1h0M1015.2 440h0M1571.3 427h0M1100.5 497.5h0M1211.2 1144h0"/>
<path stroke="#d9466b" d="M978.9 740h0M1070.8 326.7h0M1122.1 319.6h0M1461.9 334.5h0M1375 992.4h0M999.1 934.1h0M534.3 655.9h0M397.6 629.5h0M847.3 687.8h0M1030.8 495.6h0M1329.6 1010.2h0M911.9 821h0M1238.1 707h0M855.5 896.8h0M892.9 772.2h0M1471.4 1161.5h0M1077 320.1h0M1079.7 336.5h0M975.5 597.3h0M914.6 747.4h0M556.8 784.5h0M812.3 746.5h0M1358.2 589.9h0M990.8 977.9h0M1436.4 324.5h0M1344.3 522h0M1485.8 308h0M981.3 925.4h0M1333.9 957.6h0M1364.5 336.4h0M1329.9 321.1h0M1393.9 1072.7h0M1603.2 910.9h0M1045 573.6h0M1440.6 1057.9h0M906.9 752.6h0M1365.5 940.4h0M1535.3 351.6h0M607.7 775.5h0M1241.9 524h0"/>
<path stroke="#fed395" d="M1506.8 808.5h0M1713.1 693.5h0M1522.6 524.2h0M1747 708.2h0M1661.4 519.8h0M1688.5 701.4h0"/>
<path stroke="#020109" d="M1246 1008h0M556 657h0"/>
<path stroke="#491078" d="M1326.5 1235.3h0M1301.7 1237.9h0M1113.8 475.3h0"/>
<path stroke="#9e2f7f" d="M1042 380.9h0M1255.6 902.1h0M554.1 734.9h0M564.2 696.1h0M1008.9 691h0M1263.3 1208h0M1105.8 357.5h0M1171.9 459.4h0M1332.8 988.6h0M850.8 656.9h0M542.8 653.2h0M417.2 615.5h0M1022.3 796.7h0M1047 593.4h0M887.2 729h0M571.2 752.1h0M1190 429.8h0M956.6 867.2h0M820.7 702.4h0M1066.2 696.9h0M1250.8 950.1h0M525.3 639.4h0M423.9 631.6h0M438.7 669.8h0M1352.2 347.5h0"/>
<path stroke="#ef5d5e" d="M1539.3 1045.6h0M1520.8 387.2h0M1042.2 570.1h0M1323.1 557.3h0M1040.1 711h0M1633 958.9h0M582.7 776.8h0M1327.3 886.7h0M1582.6 606.8h0M1287.1 669.8h0M1147.2 790h0M546.3 779.4h0M1526.6 399.7h0M1011.9 954.7h0M1413.5 480.3h0M1459.5 494.7h0M1381.1 523.8h0M370.9 677.2h0M1548.6 936.2h0M1467.5 312.1h0M1322 528.3h0M887 842.7h0M1460 704h0M1482.5 1022.6h0M812.9 843.1h0M1540.9 991.8h0M1407.2 1005.4h0M1323.1 563.2h0M1181.8 647.6h0M1594.5 922.6h0M1497.9 558.9h0M1329.1 489.2h0M1362.2 546.7h0M1235.8 689.4h0M1070.7 736.9h0M1511.1 1043.8h0M1490.7 1167.8h0M1413.8 500.1h0M1307.4 557.5h0M1531.4 1155.7h0M1359 612.4h0M1439.6 321.1h0M1243.8 730h0M1504.2 1062.3h0M1644.6 944.1h0M1548.4 888.5h0M1305.8 553h0M1454.8 338.1h0M1590 938.7h0M1463.5 1148.5h0M1378.2 522.1h0M1370.7 457.2h0M1534.7 382.6h0M1395 724h0"/>
<path stroke="#fa7d5e" d="M1606.3 876.1h0M1633.3 1002.6h0M1576.6 652.3h0M1541.7 561h0M1671.3 937.4h0M1361.1 474.2h0M1575.5 926.5h0M1413.9 613.1h0M1606.6 412.1h0M1784.8 705.8h0M1661.6 1042h0M1654.8 550.5h0M1564 1040.4h0M1592.4 451h0M1597.6 637.6h0M1472.9 361.4h0M1485.9 1046.5h0M1525.7 639.2h0M1549.2 592.7h0M1276 415.1h0M1513.5 1006.3h0M1518 475.2h0M1414.4 454.6h0M1524 468.4h0M1586 924.9h0M1375.4 549.7h0M1650.7 447.9h0M1494.7 638h0M1476.8 318h0M1528.2 655.4h0M1422.1 589.7h0M1414.4 532.6h0M1398.9 621.3h0M1620.5 534.1h0M1627.5 606.3h0M1457.1 429.1h0M1282.6 458.2h0M1551.6 477.8h0M1423.7 593.6h0M1510.2 538.2h0M1476.3 339.2h0M1574.3 490.3h0M1424.6 1060.8h0M1362.3 629.1h0M1556.5 766h0M1537.8 1116.7h0M1497.3 929.8h0M1612.6 477.9h0M1450.8 849.7h0M1412.9 595.4h0M1643.9 1011.6h0M1695 602.2h0M1621.1 583.8h0M1327.5 598h0M1634 514.5h0M317.3 696.6h0M1661.2 488.3h0M1569.2 387.6h0M1043.4 928.7h0M1501.3 1156.1h0"/>
<path stroke="#732081" d="M1077.4 536.6h0M441.8 617.1h0M980.8 410.6h0M987.6 495h0M1253 965.8h0M979.6 701h0M916.1 838.3h0M866.4 893.1h0M1296.8 1235.8h0M863.8 915.4h0M1056.5 381.6h0M1231.2 966.4h0M883.2 790.7h0M391.1 602.3h0M1347.6 304.3h0M1341.1 257.5h0M1407.4 1082.7h0M1045.8 358h0M1057.5 367.7h0M1027.1 367.6h0M527.6 699.9h0M422 610.9h0M862.9 650.8h0"/>
<path stroke="#812581" d="M1313.7 970.7h0M1064.2 515h0M993.6 802.6h0M527.4 707.6h0M544.6 634.9h0M871.9 922.3h0M513.5 641.6h0M919.7 748.5h0M982.3 442.8h0M1371.9 1205.5h0M1082.8 556.4h0M1349.4 1216h0M1010.8 806.7h0M1260.5 970.8h0M973.4 417h0M829.9 775.6h0M1383.2 251.9h0M1352.4 1234.8h0M1108.1 685.8h0M1114.6 355h0M827.2 780.7h0M1231.8 1022.5h0M1203 975.5h0M1184.5 977.7h0"/>
<path stroke="#e55064" d="M932.3 763.2h0M1441.8 309h0M1412 1192.9h0M1447.5 287.8h0M1560.5 378.5h0M1174.9 380.8h0M1441 918.8h0M1447 315h0M1332.9 607.5h0M1525.6 915.8h0M315.4 718h0M596.5 793.6h0M524.7 780.7h0M1037.7 646.6h0M1292.1 514.2h0M1531.7 1032.4h0M1589 715h0M851.7 863.1h0M1513.3 1000.7h0M1362.1 480.9h0M1407.9 281.6h0M1467.7 1069.6h0M1456.9 916h0M311.7 711.1h0M1355.4 293.4h0M1504.7 1003.6h0M1208.6 752.2h0M1335.7 560.6h0M1377 981.2h0M844.6 697.6h0M1413.9 371.3h0M1462.5 894.9h0M1223.2 731.3h0M1062.9 586.7h0M1163.7 460.6h0M1573.5 646.7h0M911.4 786.9h0M918.9 752.5h0M1523.1 954.9h0M1040.2 838h0M1018 532.4h0M1121.4 641.1h0M1050.3 831.6h0M1524.2 972h0M880.5 869.6h0M992.9 993.4h0M816.2 829.2h0M1621.5 946.6h0M1245 572.7h0"/>
<path stroke="#07061c" d="M1339.5 251.3h0"/>
<path stroke="#57157e" d="M1044.2 371.5h0M1244.4 1004.4h0M450 660.2h0M844.9 666.1h0M470.4 622.8h0M1090.7 345.6h0M1258.7 956.9h0M497 692.2h0M1392.5 239h0M949 729.5h0"/>
<path stroke="#902a81" d="M1127.8 685.6h0M490.5 669.4h0M1008.3 479.2h0M1344.5 289.5h0M1044 912.5h0M1400.6 1202h0M989.3 650.1h0M1054 808h0M1335.4 977.3h0M980 401.5h0M1178.8 975.2h0M878.4 777.2h0M1498.7 411.3h0M432.4 591.1h0M976.8 396.2h0M900.9 897.2h0M1281.8 296.8h0M1073.4 340.1h0M835.6 859.8h0M1186.7 388.1h0M1024.2 347.6h0M1354.7 1002h0M853.4 818.9h0M905.6 860h0M959.4 487.1h0M940.4 522.1h0"/>
<path stroke="#cc3f71" d="M1388.7 881.3h0M983.9 946.7h0M1416.8 1134.9h0M1125.6 683h0M1095.5 536.3h0M1194.1 395.9h0M1452.5 284.9h0M999.6 526.9h0M1169.3 527.1h0M587.8 732.1h0M1017.3 890.4h0M830.7 694.9h0M1372.7 1110.7h0M1101.1 519.5h0M1029 734.7h0M1401.1 245.7h0M581 762.1h0M1075.4 623.5h0M996 744.2h0M1385.9 975.5h0M1196.4 426.1h0M839.6 879.2h0M1076.1 704.3h0M1071.6 563h0M983.1 619.8h0M1174.1 662.5h0M1425.8 1117h0M1565.5 1094.6h0M1393.9 486.3h0M819.7 767.9h0M1342.6 292.4h0M1018.1 573h0M948.7 714.8h0M1193.4 716.8h0M1442.5 1103.9h0"/>
<path stroke="#fe9f6d" d="M1639.3 461.8h0M1577.4 492.1h0M1583.4 571.5h0M1670.7 876.5h0M1632.7 417.5h0M1770.3 684.3h0M1641 1074.9h0M1645.1 881.4h0M1520.8 623.9h0M1667.7 888.5h0M1669.7 960.8h0M1582.7 918.4h0M1589.8 826h0M1678.1 1032.6h0M1586.5 1050.5h0M1562.6 451.8h0M1747.7 552.3h0M1551.9 539.9h0M1482.8 631.2h0M1641.2 467.4h0M1662.8 598h0M1723.3 568h0M1546 619.9h0M1498.9 963.7h0M1739.1 677.8h0M1732.5 693.7h0M1496.4 889.6h0M1528.2 633.3h0M1381.9 668h0M1631.6 595.5h0M1511 1032.8h0M1597 1098h0M1516.7 992.6h0M1591.4 979.4h0M1708.3 700.2h0M1547.8 540.5h0M1507.9 529.1h0M1613.6 525.7h0M1515.5 636.4h0M1581 837.6h0M1638.1 713.2h0M1736 600.5h0M1394.6 685.8h0M1478.5 565.3h0M1544.5 758.4h0M1534.4 976.4h0M1653.2 491.5h0M1639.9 481.1h0M1663.7 575.5h0M1706.5 523.5h0M1657.8 533.7h0M1608.6 820.8h0M1456.2 581.5h0M1701.7 627.7h0M1537.5 619.2h0"/>
<path stroke="#ad347c" d="M1032.1 547.3h0M569 756.3h0M1340.3 959.6h0M1111 645.8h0M1009 760.5h0M1112.9 361.9h0M824.5 815.3h0M529.9 759.5h0M589.9 746h0M895.5 756.9h0M1018.7 870.6h0M972.7 815.7h0M1088 716.3h0M385 682.3h0M1030.8 504.3h0M1081.5 658.1h0M1349.8 301.5h0M959.4 559.2h0M572.3 681.3h0M1084.5 368.1h0M545 704.4h0M981.6 882.5h0M1267.3 1060h0M1075.8 783.7h0M1145 724.4h0M1423.2 244.9h0M975.2 699.3h0M1043.4 603.4h0M1467.2 918.5h0M986.7 416.4h0M1230.2 980.4h0M1394 959.9h0M607.6 683.5h0M888 674h0M1141.1 382.8h0M1100.4 711.5h0M923 914.6h0M1394.8 967.5h0"/>
<path stroke="#fc8e64" d="M1316.2 711.4h0M1587.1 544.2h0M1598 576.8h0M1537.2 633.8h0M559.8 779.8h0M1479.5 607.8h0M1582.9 611.4h0M1481.9 479h0M1553.9 463.9h0M1740.9 683.1h0M1521.8 632h0M1617.5 1029.3h0M1616.9 624h0M1422 645.1h0M1639.7 525.7h0M1495.5 542.4h0M1466.3 868.2h0M1570.5 469.2h0M1556.8 524.2h0M1686.1 514.9h0M1516.9 1012.4h0M1531.4 468.5h0M1064.7 922.7h0M1530.4 879.8h0M1685.7 605.1h0M1545.4 1139.6h0M1536.5 519.6h0M1747.6 533.7h0M1471.5 345.1h0M1558.9 541.2h0M1553.6 610.7h0M1511.4 600.4h0M1551 486.7h0M1613.6 470h0M1388.5 607.1h0M1728.5 568.7h0M1504.5 980.9h0M1655.2 595h0M1374 563.1h0M1626.9 449.9h0M1564 445.6h0M1154.2 365.3h0M1673.9 505.9h0M1474.2 661.1h0M1673 606.7h0M1333.7 709.8h0M1291.7 647.5h0M1301.8 648.2h0M1582.3 450.6h0M1607.8 569h0M1641.2 1009.7h0M1534.8 638.2h0"/>
<path stroke="#29115a" d="M423.5 594h0"/>
<path stroke="#f66c5c" d="M1561.1 907h0M1340 548.7h0M1509.5 474.4h0M1422.1 631.9h0M1463.2 1178.3h0M1412.9 555.5h0M1590 497.3h0M1389.6 480.7h0M1341.6 545.4h0M1417 699h0M1519.1 498.5h0M1224.4 481h0M1537.7 1010.4h0M1703.3 490h0M1542.7 1062.9h0M1451.2 307.3h0M322.6 702.5h0M1556.7 934.4h0M1483.4 510.5h0M1537.4 986.6h0M1257.3 434.9h0M1523.1 716.1h0M1443.7 534.1h0M1483.7 369.7h0M1415.6 904.9h0M1351 468.9h0M1462 1073.4h0M1166.9 375.8h0M1415.4 1025.8h0M1480 401.5h0M1305.3 617.8h0M1483.2 562.4h0M1483.2 1061.1h0M1313.8 654.9h0M1477.7 343.6h0M1542.7 1084.9h0M1332.4 473.5h0M1484.2 892h0M1521.2 937.3h0M1490.1 1179h0M1501.9 488.6h0M1403.8 502.6h0M1460.5 850.7h0M1541.9 1015.3h0M1634 887.2h0M1456.6 1031.1h0M1595 760h0M1275.7 500.8h0M1252.7 539.9h0M1331.8 570.2h0M1626 584.5h0M1736 771.5h0M1428 521.6h0M1497 719h0M1509.5 679.9h0M1278.3 401.1h0M1457.5 960.8h0M1515.4 1068.1h0M338.8 692.8h0"/>
<path stroke="#fcf4b6" d="M1758.1 714.2h0"/>
<path stroke="#fec287" d="M1648.7 1045.5h0M1700.4 555.4h0M1394.4 668.5h0M1542 506.9h0M1576.8 987.8h0M1573.1 962.8h0M1694 549.5h0M1589.3 963.5h0M1300.6 708h0M1713.5 548.8h0M1608.2 824.5h0M1708.2 608.8h0M1687.4 712.5h0M1628.3 565.6h0M1368.2 697.3h0M1588.2 907.3h0M1556 864.7h0M1586.7 709.9h0M1754.9 718.2h0M1728.8 579.8h0"/>
<path stroke="#feb078" d="M1658.8 542h0M1746.6 598.5h0M1547.3 1077.8h0M1633.9 562.2h0M1549.5 526.7h0M1634.5 547.1h0M1647.1 589.6h0M1697.8 634.9h0M1576.4 1005.9h0M1436.6 650.7h0M1533.3 793.4h0M1541.3 577.4h0M1570.6 1110.9h0M1607.3 547.3h0M1545.2 407.1h0M1614.6 910.3h0M1656.7 582.6h0M1702.2 546.3h0M1688.9 488.1h0M1515.7 558.7h0M1488.4 562.2h0M1694.8 659.5h0"/>
<path stroke="#110c2f" d="M819.7 756.8h0"/>
<path stroke="#fde3a5" d="M1727.5 755.3h0M1689.5 704.3h0"/>
<path stroke="#fde3a5" d="M1687 715.9h0"/>
<path stroke="#ef5d5e" d="M1169.9 392.3h0M323.1 689.8h0M1324 396h0M1540.6 957h0M1413 438.8h0M936.9 782.8h0M955.4 513.6h0M1111.6 329.1h0M1436.8 314.9h0M1642.5 847.4h0M1365.3 525h0M995.5 811.3h0M1314.9 587.7h0M1605.2 991.9h0M1337 565.7h0M1643.2 1046.7h0M1377.7 562.2h0M946.7 522.6h0M1298.5 542.8h0M1183 353.8h0M1301.4 582.7h0M1328.5 569.8h0M1624 928.1h0M1243.5 695h0M1407.7 488.8h0M1418.9 898h0M1182.7 832.6h0M1204.1 513.7h0M1393.5 385.1h0M1406.3 602.9h0M1346.2 569.9h0M981.4 817.1h0M1579.7 1027.4h0M1324.3 580.2h0M1351 1053.7h0M1526.8 1030h0M1553.9 1141.2h0M1614.5 919.6h0M1488.8 314h0M598.1 693.5h0M1492.5 896.6h0M1518.9 914.5h0M1505.7 515.1h0M1433.5 1186.4h0M963.3 826.8h0M1333.1 580.4h0M1388.4 483.8h0M1303.2 567.5h0M1432.1 581.2h0M1532.1 962.3h0M1355.3 505.8h0M1130 888h0M1597.9 1000.7h0M1382.9 562.8h0M1656.8 971.1h0M1124.6 391.1h0M1251.9 689.9h0M1384.8 478.5h0"/>
<path stroke="#732081" d="M1286.7 289.3h0M1330.3 977.1h0M986.7 398.4h0M1192.1 559.6h0M978.2 814.3h0M968.6 803.3h0M1295.6 1232.9h0M1059.5 354.9h0M1023.2 371.8h0M1037.4 481h0M1095.9 506.6h0M1291.3 895.5h0M1020.9 569h0"/>
<path stroke="#d9466b" d="M1291.6 475.2h0M950 788h0M1145.9 551.6h0M1215.7 388.2h0M1152.5 729.4h0M1514.8 382.8h0M1011.4 939.6h0M1545.9 1117.7h0M1521.4 377.3h0M1020 709.5h0M1415.3 853.2h0M808.1 752.3h0M1084.1 550.1h0M1402 938.6h0M998 976.2h0M1356 267.6h0M822.3 827h0M863.1 886.9h0M1498 1180.2h0M1424.7 257.7h0M1275.9 419h0M926.2 710.5h0M1345.2 573.3h0M1229.8 386.5h0M1303.4 925.2h0M1193 670.2h0M1643 892h0M1217 672.2h0M973.5 487.1h0M1137.6 731.4h0M566.3 779.1h0M1110.8 713.2h0M1457.4 968.8h0M1150.2 364.4h0M1151.3 320.4h0M1145.3 349.2h0M392.3 652.8h0M1157.7 567.7h0M1036.3 798.1h0M1072.2 481.7h0M813.9 756.9h0M1327.2 526.1h0M1431.1 1129.1h0"/>
<path stroke="#9e2f7f" d="M1504.9 1046.1h0M848.1 710h0M562.7 662.6h0M1106.2 572.8h0M1370.7 946.8h0M535.7 653.1h0M873.5 839.2h0M1107.4 448.5h0M1331.7 918.2h0M851 881.5h0M1101.1 704.5h0M1456.5 1095.7h0M897.2 837.7h0M1132.7 677.1h0M977.6 779.7h0M1243.1 967.2h0M988.1 715h0M981.2 398h0M989.8 730.1h0M981.7 710.2h0M1097.2 692.3h0M1341.5 261.1h0M403.1 656.8h0M1060.9 940.1h0M823.7 742.2h0M1071.8 384.7h0M1071.1 353.8h0M1316.6 996.8h0M1238.4 1005h0M1298.1 298.9h0M992.5 522.1h0M1414.3 271.5h0M925.3 923.4h0M1039.3 686.6h0M1004.1 725.2h0M1401.7 237.9h0"/>
<path stroke="#fcf4b6" d="M1724.5 732.5h0"/>
<path stroke="#fe9f6d" d="M1541.8 494.8h0M1602.5 590.4h0M1737.1 587.2h0M288.8 712.5h0M1632.4 585.5h0M1352 444h0M1480.4 461.8h0M1572.9 983.5h0M1251.9 703h0M1550.4 507.1h0M1556.2 1069.1h0M1585 986.1h0M1643 548.6h0M1605.9 528.4h0M1466.7 643.3h0M1552 1070.5h0M1421.8 735.2h0M1607.4 604.8h0M1568.6 372.5h0M1575 539.2h0M1715.8 664.9h0M1599.8 903.7h0M1504.6 375.4h0M1729.8 747h0M1609.6 607h0M1685.9 577.9h0M1610.3 576h0M1572.5 1115.3h0M1739 591h0M1646.1 578.4h0M1637.9 434.1h0M1594 473.2h0M1638 563.4h0M1246.2 693.1h0M1557.3 634.7h0M1601.7 926.4h0M1528.9 430.6h0M1658.2 460.9h0M1328 432h0M1617.2 630.9h0M1519.9 902.3h0M1391.1 739.3h0M1742.2 554.6h0M1769.4 698h0M1529.3 629.8h0"/>
<path stroke="#bd3977" d="M1410.5 254.9h0M1465 1105h0M1453.2 1149.3h0M1267.2 741.2h0M1472.9 301.1h0M1663.9 1050.8h0M1066.8 422.4h0M537.8 752.1h0M1106 579.7h0M1389.4 258h0M1640.1 984h0M1055.8 913.6h0M855.6 868.8h0M1403.4 1159.2h0M405.1 640.8h0M1137.1 373.8h0M1163.3 456.7h0M1013.4 539.8h0M1592.2 1117.5h0M1522 996.7h0M628.7 773.1h0M1294.2 929.7h0M925.1 731.4h0M964.9 593.3h0M1544.6 1151.2h0M984.2 824.3h0M383.2 633.9h0M1030.4 555.8h0M1156.6 732.9h0M1465 1078.5h0M906.7 876.5h0M1164.2 699.6h0M899 924.1h0M1398.9 1129.5h0M907.5 761.5h0M942 882.9h0M462.6 685.3h0M478.8 684h0M1016.8 746.1h0M1175.9 932.6h0M1325 297.3h0M1005.4 745.3h0M1179.8 808.2h0M1563.9 882h0M934.2 507.1h0M1052.7 839.6h0M1145.9 403h0"/>
<path stroke="#f66c5c" d="M1435.7 563.7h0M1396 631.2h0M1569.4 543h0M1387.1 667.8h0M1576 943.7h0M1430 620.5h0M1544.3 874.8h0M1346.9 553h0M1627.2 975.4h0M1385.5 494.9h0M1568.3 848.3h0M1748.5 657.5h0M1376.6 496.9h0M1490.2 517.5h0M1519.8 547.7h0M1513.9 360.5h0M1189.3 558.4h0M1436.4 288.2h0M1409.4 472.4h0M1675.7 586.3h0M1468.9 809.9h0M1402 591.7h0M1648.6 519.8h0M1516.8 422.6h0M1554.6 970.2h0M1574.5 423.6h0M1560.3 970.2h0M1478.5 591.8h0M1298.5 581.9h0M1600 1032h0M1475.1 683.4h0M1519.3 683.4h0M1477.7 871.3h0M1050.3 918.9h0M1296.9 705.2h0M1429 496.5h0M1498.6 563h0M1368.4 548.3h0M1512.1 546.3h0M1439 600.3h0M1029.6 848.8h0M1584.4 1037.3h0M1455.6 417h0M1412.3 650.2h0M1333.8 574.2h0M1435.4 466.7h0M1578.9 939.2h0M1348.7 590.7h0M1464.5 590.2h0M1478.8 537.7h0M1674.6 482.1h0M1485 422h0M1513 884.5h0M1735 508.1h0"/>
<path stroke="#fec287" d="M1680.2 712.9h0M1672 542.5h0M1639.7 1064.9h0M1722.3 751h0M1541.8 752.4h0M1771.1 688.9h0M1601.8 608.7h0M1485.4 651h0M1726.3 553.5h0M1709.1 516.3h0M1674 904.9h0M1694.8 592.6h0M1583.5 724.8h0"/>
<path stroke="#651a80" d="M1003.3 438.2h0M1202.4 1165.3h0M1028.3 352h0M1236.1 978.7h0M992 713.6h0"/>
<path stroke="#57157e" d="M1024.4 361h0M1380.2 250.2h0M1240.5 988.9h0"/>
<path stroke="#feb078" d="M1521.8 869.4h0M1612.9 1032.3h0M1555.3 1006h0M1562.6 400h0M1562 542.1h0M1557 870.3h0M1722.8 546.3h0M1674 500.8h0M1574.8 1034.9h0M1582.7 692.5h0M1645.3 1073.8h0M1663.5 623.8h0M1737.6 722.9h0M1575.1 584.3h0M312.4 706h0M1653.4 872.1h0M1576.8 1101.5h0M1771.3 725.4h0M302.9 694h0M1597 560.8h0M1528.1 588.4h0M1717.4 689.9h0M1679.7 575.1h0M1546.5 582.8h0M578.3 786.8h0M1699 704.3h0M1408.3 667.8h0M1512 676.5h0M1611.5 598.5h0M1575.6 629.9h0M1685.7 667.2h0"/>
<path stroke="#07061c" d="M1336.2 1241.5h0M1424.7 982.7h0"/>
<path stroke="#812581" d="M516.4 642.4h0M1137.4 380.9h0M988.6 547.1h0M1067.3 448.1h0M1407.1 937.5h0M1000.7 442.7h0M460.5 624.2h0M1305.1 900.9h0M432.7 624.1h0M1059.6 833.8h0M535.9 666.8h0M1018.5 702.5h0M940.3 797.4h0M812.7 723.5h0M470.5 628.3h0M1020.9 380.3h0M924.8 845.5h0"/>
<path stroke="#cc3f71" d="M1457.8 844.2h0M1356.7 1110.7h0M1456.3 1149.1h0M1011.3 871.4h0M1038.9 735.1h0M1481.3 1084.4h0M821.8 811.8h0M1259.3 422.9h0M1155.8 528h0M1431.2 261.5h0M988.7 637.1h0M1040.5 576.2h0M1042.2 853.3h0M1200.7 352.2h0M1023.7 809.5h0M1409.8 889.1h0M1545.7 440.6h0M1049.7 764.5h0M1116.2 395.1h0M1327.8 557.5h0M841.2 884.5h0M1507.2 1151.5h0M1434.3 1102.2h0M1033 855.6h0M1410.5 1137h0M1214.7 728.3h0M1374.9 590.3h0M1189 506.5h0M839.4 688.3h0M1215.2 353.1h0M1296.1 451.3h0M535.6 695.7h0M1410.3 1197.9h0M1422.8 281.9h0M822.2 752.8h0M968.1 887h0M1288.5 890.5h0M934.4 514.5h0M394.1 633.5h0M585.6 748.7h0M1319.5 710.6h0M869.3 696.5h0M1559.7 948.5h0M1484.3 1079.7h0M1002.8 888.3h0M1452.4 1038.2h0M1075.3 328.4h0M1212.1 557.6h0"/>
<path stroke="#fed395" d="M1737.8 675h0M1722.8 716.3h0M1726.7 603.7h0M1574.7 440.1h0M1473.2 805.1h0"/>
<path stroke="#020109" d="M1292.7 1168h0M1217 1029.2h0M1266.5 1033.3h0M1207.3 1164h0"/>
<path stroke="#491078" d="M1210.6 992.2h0"/>
<path stroke="#e55064" d="M1385.3 248.9h0M1459.2 1120.8h0M1205 506.8h0M1497.3 1046h0M977.8 545.4h0M1604.7 936.1h0M541.1 776.2h0M1172 602.4h0M1468.1 1183.8h0M1268.3 521.1h0M604.3 687.6h0M1371 308.5h0M1473.8 940.9h0M1114.3 501.4h0M1561.2 916.4h0M1601.1 878.1h0M1545.4 702.3h0M1130.7 680.2h0M1625.5 572.8h0M1006.3 549.8h0M1401.5 493.8h0M956.3 729.9h0M984.8 988.5h0M1180.1 347.9h0M1659.1 1028.2h0M1063.8 914.9h0M1541.7 1115.8h0M1663.6 862.2h0M1627.9 921.8h0M804.1 734.3h0M1154.4 564.8h0M1552.4 1004.3h0M1452.4 1070.5h0M1020.5 509.7h0M1320.2 676.8h0M1155.7 496.2h0M1350 488.7h0M1528.2 987.4h0M1261.9 608h0M1189.4 493.8h0M609.4 751.6h0M1644.6 1037.9h0M902.4 845.9h0M1338.4 611.9h0M1237.5 541.8h0M1217.5 367.3h0"/>
<path stroke="#390f6e" d="M428.8 610.4h0M938.7 471h0"/>
<path stroke="#fc8e64" d="M1646.7 513.7h0M1519.7 676.5h0M1611.1 551.5h0M1650.3 473.7h0M1669.4 580.7h0M1623.8 500.4h0M1649.2 973.3h0M1430.6 855.9h0M1475.5 351h0M1479 697h0M1658.1 1019.8h0M1554.5 371.6h0M1642.8 576.9h0M1589.8 453.4h0M1722 498.2h0M1524.7 559.9h0M1649.9 454.5h0M1550.9 1097.6h0M1406.8 532.4h0M1478.7 1054.6h0M1594.9 435h0M1311.1 650h0M1689.5 477.4h0M1367.5 484.2h0M1571.1 535.9h0M1625.9 1039.6h0M1582.5 637.8h0M1379.6 549.6h0M1635.6 455.9h0M1614 1023.5h0M1650.9 885.6h0M1554.5 481.4h0M1537.7 607.2h0M1394.1 641.2h0M1675.2 990.3h0M1542 499.6h0M1531.4 485.2h0M1706.8 513.5h0M1419.6 603.9h0M1384.8 491h0M1639.3 944h0M1663.2 502h0M1222.2 724.5h0M1501.6 900.2h0M1396 531.6h0M1623.6 705.1h0M1447.1 544h0M1770.6 533.1h0M1732.8 580.6h0M1438.8 1076.3h0M1350.5 509.6h0M1549 399.4h0M1605.5 1032.8h0M1551.2 571.1h0"/>
<path stroke="#29115a" d="M1210 1126.7h0"/>
<path stroke="#ad347c" d="M942.3 766.6h0M966.9 908.2h0M819 731.7h0M1346.8 293.7h0M1301 910.3h0M1019.2 405h0M992.5 983.8h0M1001.9 682.8h0M1253.3 513.1h0M936 824.3h0M1043.9 702.1h0M1395.7 238.7h0M428.3 677.1h0M1131.7 551.9h0M1185.1 536.9h0M822.7 822.9h0M1388.4 1220.7h0M1208.7 1084h0M904.5 706.1h0M1494.8 1130.8h0M1104.8 301.6h0M1080 515.6h0M894.7 718h0M1195.9 519.3h0M373.5 672.4h0M862.8 781.4h0M1059.6 753.1h0M1145.4 669.1h0M1020.8 844h0M1603.7 951.9h0M1401.3 1046.1h0M945.4 828.8h0M1169 961.7h0"/>
<path stroke="#902a81" d="M1085.2 379.7h0M1073.8 941.7h0M411.8 653h0M1227.8 394h0M1224.1 956.7h0M842.3 858h0M898.7 877.7h0M1427.5 1161.2h0M1010.1 434.9h0M1066.6 408.2h0M975.2 410.4h0M1047.8 489.2h0M858.7 671.4h0M1183.2 429.5h0M1025.2 343.9h0M861.3 662.5h0M1009 682.8h0M821.1 793h0M974.7 851.6h0M1397.7 1165.4h0M969.5 400.3h0M455.8 616h0M1356.1 251.2h0M1083.3 501.1h0M1373.8 952.5h0M839.3 722.4h0"/>
<path stroke="#fa7d5e" d="M1481.2 614.1h0M1403.6 521.1h0M1417.2 559.5h0M1617.2 592.9h0M1589.6 900.3h0M1524.9 582.8h0M1715 646.1h0M1532.2 894.2h0M1767.1 591.8h0M1366.5 529.8h0M1659.3 610.3h0M1593.4 608.1h0M1729.2 532.3h0M1303.3 417.7h0M1446.9 605.9h0M1565.3 662.1h0M1432.8 483.4h0M1400.7 567.1h0M1477.5 540.7h0M1137.4 330.6h0M1452.3 510.9h0M1708.7 593.4h0M1666.4 482.2h0M1675 536.8h0M1657.5 916.4h0M1735 682.2h0M1432.7 578.1h0M1714.3 594.9h0M1401.4 506.3h0M1535.1 1149.4h0M1323.5 499.4h0M1568.6 921h0M1599.2 838.9h0M1339.8 569.1h0M1230.2 731.9h0M1589 852.2h0M1477.4 485.3h0M1510.4 524.2h0M1501.4 477.9h0M1454.7 502.3h0M1423.6 635h0M1615.2 843.5h0M1704.6 567.1h0M1571 532.8h0M1517.3 350.6h0M1752.9 573.5h0M1709.5 755.1h0M1493.3 609.3h0M1202.1 653.6h0M1614.8 638.6h0M1487.8 862.7h0M1498.8 532.8h0M1436.1 604.3h0M1737.8 595.4h0M1523.1 1078.1h0M1349.2 709.8h0M1647.2 941.5h0M1534.7 621.4h0M1468.7 626.2h0M1588.9 576h0M1558.3 1145.1h0M1534.4 547.4h0M1612.6 485h0M1193.4 573.3h0M1512.7 621.8h0M1474.9 644h0M297.8 706.1h0M1590.1 867.1h0"/>
</g>
<g stroke="#000" stroke-width="4.45" fill="none">
<path d="M211 140.7V1306.4"/>
<path d="M208.8 1306.4H1867.3"/>
<path d="M196.5 195.7H209M196.5 526H209M196.5 856.7H209M196.5 1187.6H209"/>
<path d="M285.7 1308V1321M756 1308V1321M1226.3 1308V1321M1696.6 1308V1321"/>
</g>
<g class="tk" text-anchor="end">
<text x="183.3" y="214">15</text>
<text x="183.3" y="544.3">10</text>
<text x="183.3" y="875">5</text>
<text x="183.3" y="1206">0</text>
</g>
<g class="tk" text-anchor="middle">
<text x="285.7" y="1370">0</text>
<text x="756" y="1370">5</text>
<text x="1226.3" y="1370">10</text>
<text x="1696.6" y="1370">15</text>
</g>
<text class="ax" text-anchor="middle" x="1037.5" y="1436">umap_1</text>
<text class="ax" text-anchor="middle" transform="translate(94 724.5) rotate(-90)">umap_2</text>
<text class="ttl" text-anchor="middle" x="1037.5" y="100">Cd44</text>
<rect x="1923.2" y="565" width="64" height="318.3" fill="url(#cb)"/>
<path stroke="#fff" stroke-width="1.6" fill="none" d="M1923.2 624.7h12.8M1974.4 624.7h12.8M1923.2 689.5h12.8M1974.4 689.5h12.8M1923.2 754.4h12.8M1974.4 754.4h12.8M1923.2 819h12.8M1974.4 819h12.8M1923.2 883.3h12.8M1974.4 883.3h12.8"/>
<g class="tk">
<text x="2015.5" y="643">4</text>
<text x="2015.5" y="707.7">3</text>
<text x="2015.5" y="772.6">2</text>
<text x="2015.5" y="837.2">1</text>
<text x="2015.5" y="901.4">0</text>
</g>
</svg>
</body>
</html>
